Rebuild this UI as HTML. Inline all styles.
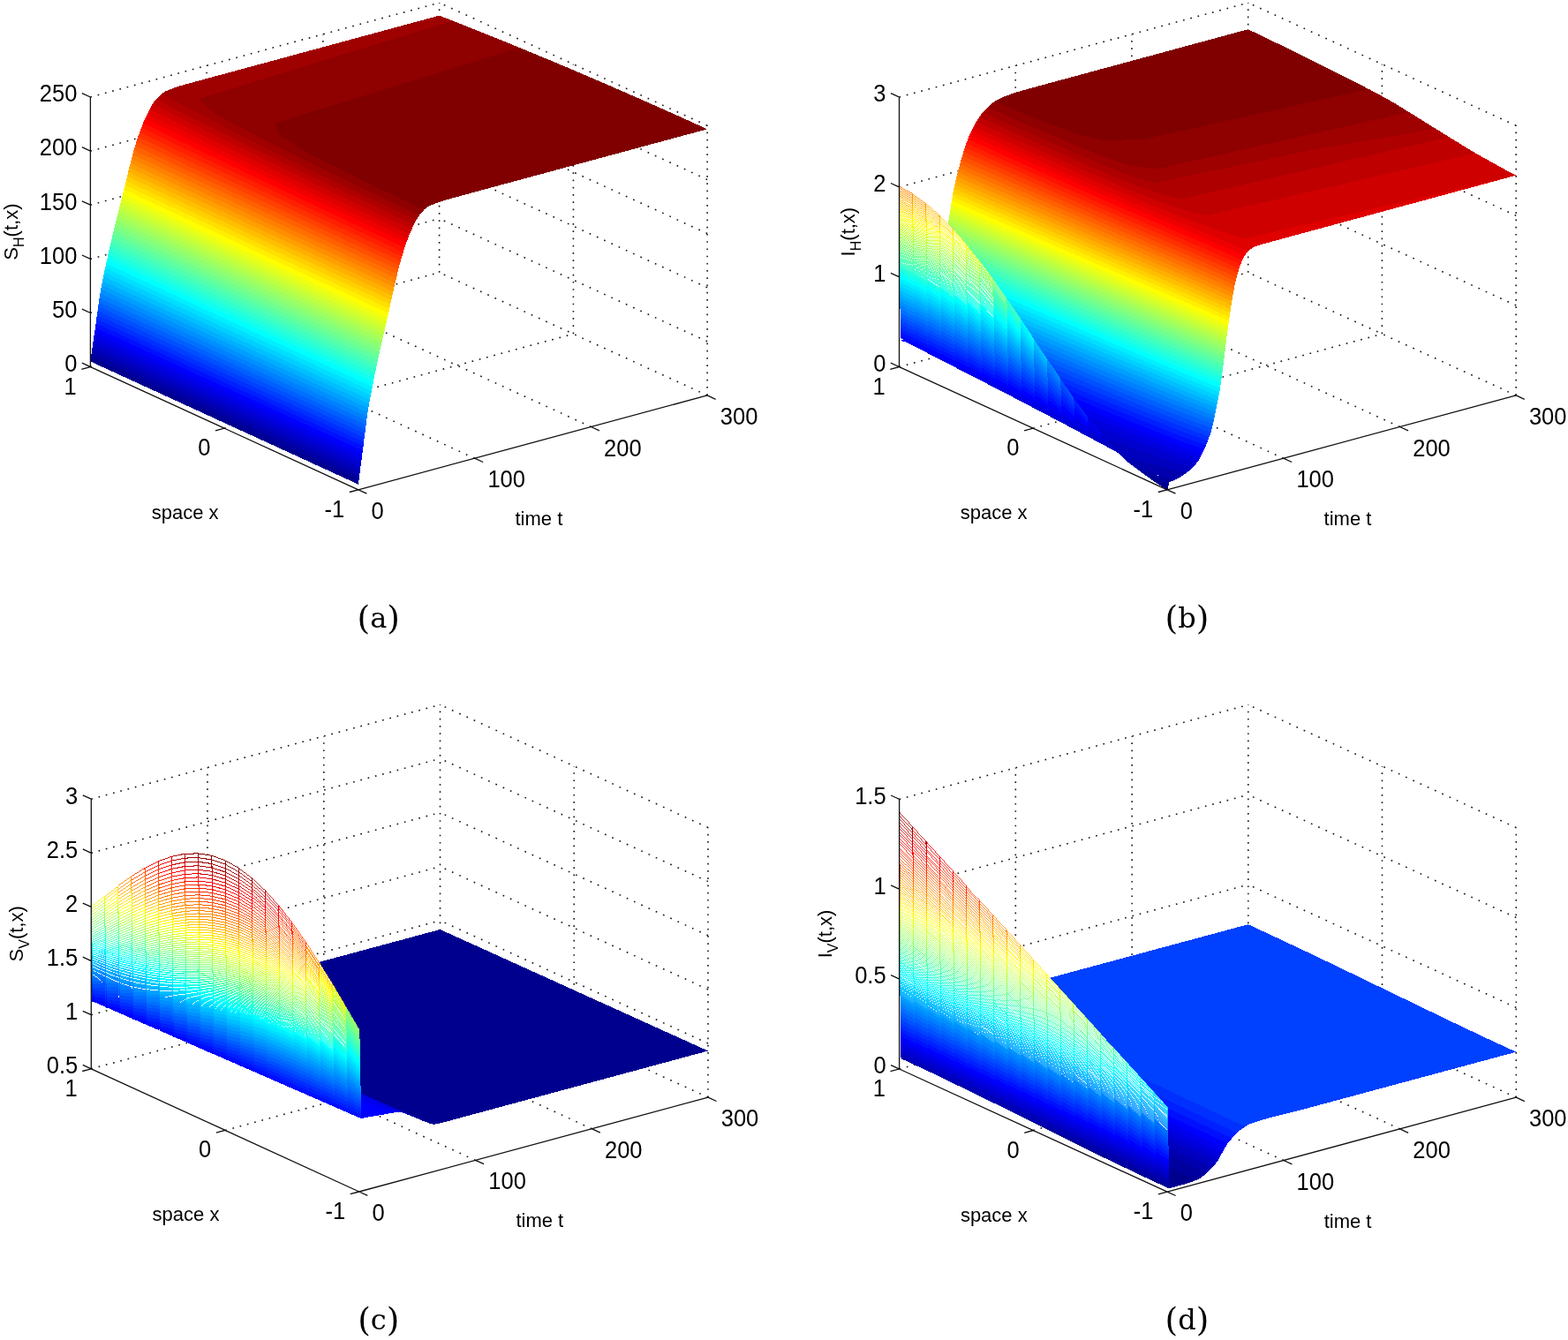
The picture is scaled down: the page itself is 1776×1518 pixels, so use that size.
<!DOCTYPE html>
<html lang="en"><head><meta charset="utf-8"><title>Figure</title><style>
html,body{margin:0;padding:0;background:#fff}
svg{display:block}
.g{fill:none;stroke:#1a1a1a;stroke-width:1.6}
.a{fill:none;stroke:#111;stroke-width:1.3}
.s{shape-rendering:crispEdges}
.c{shape-rendering:crispEdges;fill:none}
.tk text{font-family:"Liberation Sans",Arial,sans-serif;font-size:28.5px;fill:#000}
.lb text{font-family:"Liberation Sans",Arial,sans-serif;font-size:22px;fill:#000}
.lb .sub{font-size:16px}
.cp text{font-family:"DejaVu Serif","Liberation Serif",serif;font-size:32px;fill:#000}
.cp .pr{font-size:37.5px}
</style></head>
<body>
<svg xmlns="http://www.w3.org/2000/svg" width="1776" height="1518" viewBox="0 0 1776 1518">
<rect width="1776" height="1518" fill="#fff"/>
<defs><linearGradient id="gb" gradientUnits="userSpaceOnUse" x1="1018.5" y1="415.6" x2="1122.9" y2="187.9"><stop offset="0.0078" stop-color="#00008f"/><stop offset="0.0234" stop-color="#00009f"/><stop offset="0.0391" stop-color="#0000af"/><stop offset="0.0547" stop-color="#0000bf"/><stop offset="0.0703" stop-color="#0000cf"/><stop offset="0.0859" stop-color="#0000df"/><stop offset="0.1016" stop-color="#0000ef"/><stop offset="0.1172" stop-color="#0000ff"/><stop offset="0.1328" stop-color="#0010ff"/><stop offset="0.1484" stop-color="#0020ff"/><stop offset="0.1641" stop-color="#0030ff"/><stop offset="0.1797" stop-color="#0040ff"/><stop offset="0.1953" stop-color="#0050ff"/><stop offset="0.2109" stop-color="#0060ff"/><stop offset="0.2266" stop-color="#0070ff"/><stop offset="0.2422" stop-color="#0080ff"/><stop offset="0.2578" stop-color="#008fff"/><stop offset="0.2734" stop-color="#009fff"/><stop offset="0.2891" stop-color="#00afff"/><stop offset="0.3047" stop-color="#00bfff"/><stop offset="0.3203" stop-color="#00cfff"/><stop offset="0.3359" stop-color="#00dfff"/><stop offset="0.3516" stop-color="#00efff"/><stop offset="0.3672" stop-color="#00ffff"/><stop offset="0.3828" stop-color="#10ffef"/><stop offset="0.3984" stop-color="#20ffdf"/><stop offset="0.4141" stop-color="#30ffcf"/><stop offset="0.4297" stop-color="#40ffbf"/><stop offset="0.4453" stop-color="#50ffaf"/><stop offset="0.4609" stop-color="#60ff9f"/><stop offset="0.4766" stop-color="#70ff8f"/><stop offset="0.4922" stop-color="#80ff80"/><stop offset="0.5078" stop-color="#8fff70"/><stop offset="0.5234" stop-color="#9fff60"/><stop offset="0.5391" stop-color="#afff50"/><stop offset="0.5547" stop-color="#bfff40"/><stop offset="0.5703" stop-color="#cfff30"/><stop offset="0.5859" stop-color="#dfff20"/><stop offset="0.6016" stop-color="#efff10"/><stop offset="0.6172" stop-color="#ffff00"/><stop offset="0.6328" stop-color="#ffef00"/><stop offset="0.6484" stop-color="#ffdf00"/><stop offset="0.6641" stop-color="#ffcf00"/><stop offset="0.6797" stop-color="#ffbf00"/><stop offset="0.6953" stop-color="#ffaf00"/><stop offset="0.7109" stop-color="#ff9f00"/><stop offset="0.7266" stop-color="#ff8f00"/><stop offset="0.7422" stop-color="#ff8000"/><stop offset="0.7578" stop-color="#ff7000"/><stop offset="0.7734" stop-color="#ff6000"/><stop offset="0.7891" stop-color="#ff5000"/><stop offset="0.8047" stop-color="#ff4000"/><stop offset="0.8203" stop-color="#ff3000"/><stop offset="0.8359" stop-color="#ff2000"/><stop offset="0.8516" stop-color="#ff1000"/><stop offset="0.8672" stop-color="#ff0000"/><stop offset="0.8828" stop-color="#ef0000"/><stop offset="0.8984" stop-color="#df0000"/><stop offset="0.9141" stop-color="#cf0000"/><stop offset="0.9297" stop-color="#bf0000"/><stop offset="0.9453" stop-color="#af0000"/><stop offset="0.9609" stop-color="#9f0000"/><stop offset="0.9766" stop-color="#8f0000"/><stop offset="0.9922" stop-color="#800000"/></linearGradient><linearGradient id="gc" gradientUnits="userSpaceOnUse" x1="103.3" y1="1159.8" x2="199.8" y2="949.5"><stop offset="0.0078" stop-color="#00008f"/><stop offset="0.0234" stop-color="#00009f"/><stop offset="0.0391" stop-color="#0000af"/><stop offset="0.0547" stop-color="#0000bf"/><stop offset="0.0703" stop-color="#0000cf"/><stop offset="0.0859" stop-color="#0000df"/><stop offset="0.1016" stop-color="#0000ef"/><stop offset="0.1172" stop-color="#0000ff"/><stop offset="0.1328" stop-color="#0010ff"/><stop offset="0.1484" stop-color="#0020ff"/><stop offset="0.1641" stop-color="#0030ff"/><stop offset="0.1797" stop-color="#0040ff"/><stop offset="0.1953" stop-color="#0050ff"/><stop offset="0.2109" stop-color="#0060ff"/><stop offset="0.2266" stop-color="#0070ff"/><stop offset="0.2422" stop-color="#0080ff"/><stop offset="0.2578" stop-color="#008fff"/><stop offset="0.2734" stop-color="#009fff"/><stop offset="0.2891" stop-color="#00afff"/><stop offset="0.3047" stop-color="#00bfff"/><stop offset="0.3203" stop-color="#00cfff"/><stop offset="0.3359" stop-color="#00dfff"/><stop offset="0.3516" stop-color="#00efff"/><stop offset="0.3672" stop-color="#00ffff"/><stop offset="0.3828" stop-color="#10ffef"/><stop offset="0.3984" stop-color="#20ffdf"/><stop offset="0.4141" stop-color="#30ffcf"/><stop offset="0.4297" stop-color="#40ffbf"/><stop offset="0.4453" stop-color="#50ffaf"/><stop offset="0.4609" stop-color="#60ff9f"/><stop offset="0.4766" stop-color="#70ff8f"/><stop offset="0.4922" stop-color="#80ff80"/><stop offset="0.5078" stop-color="#8fff70"/><stop offset="0.5234" stop-color="#9fff60"/><stop offset="0.5391" stop-color="#afff50"/><stop offset="0.5547" stop-color="#bfff40"/><stop offset="0.5703" stop-color="#cfff30"/><stop offset="0.5859" stop-color="#dfff20"/><stop offset="0.6016" stop-color="#efff10"/><stop offset="0.6172" stop-color="#ffff00"/><stop offset="0.6328" stop-color="#ffef00"/><stop offset="0.6484" stop-color="#ffdf00"/><stop offset="0.6641" stop-color="#ffcf00"/><stop offset="0.6797" stop-color="#ffbf00"/><stop offset="0.6953" stop-color="#ffaf00"/><stop offset="0.7109" stop-color="#ff9f00"/><stop offset="0.7266" stop-color="#ff8f00"/><stop offset="0.7422" stop-color="#ff8000"/><stop offset="0.7578" stop-color="#ff7000"/><stop offset="0.7734" stop-color="#ff6000"/><stop offset="0.7891" stop-color="#ff5000"/><stop offset="0.8047" stop-color="#ff4000"/><stop offset="0.8203" stop-color="#ff3000"/><stop offset="0.8359" stop-color="#ff2000"/><stop offset="0.8516" stop-color="#ff1000"/><stop offset="0.8672" stop-color="#ff0000"/><stop offset="0.8828" stop-color="#ef0000"/><stop offset="0.8984" stop-color="#df0000"/><stop offset="0.9141" stop-color="#cf0000"/><stop offset="0.9297" stop-color="#bf0000"/><stop offset="0.9453" stop-color="#af0000"/><stop offset="0.9609" stop-color="#9f0000"/><stop offset="0.9766" stop-color="#8f0000"/><stop offset="0.9922" stop-color="#800000"/></linearGradient><linearGradient id="gd" gradientUnits="userSpaceOnUse" x1="1018.6" y1="1211" x2="1128.9" y2="970.5"><stop offset="0.0078" stop-color="#00008f"/><stop offset="0.0234" stop-color="#00009f"/><stop offset="0.0391" stop-color="#0000af"/><stop offset="0.0547" stop-color="#0000bf"/><stop offset="0.0703" stop-color="#0000cf"/><stop offset="0.0859" stop-color="#0000df"/><stop offset="0.1016" stop-color="#0000ef"/><stop offset="0.1172" stop-color="#0000ff"/><stop offset="0.1328" stop-color="#0010ff"/><stop offset="0.1484" stop-color="#0020ff"/><stop offset="0.1641" stop-color="#0030ff"/><stop offset="0.1797" stop-color="#0040ff"/><stop offset="0.1953" stop-color="#0050ff"/><stop offset="0.2109" stop-color="#0060ff"/><stop offset="0.2266" stop-color="#0070ff"/><stop offset="0.2422" stop-color="#0080ff"/><stop offset="0.2578" stop-color="#008fff"/><stop offset="0.2734" stop-color="#009fff"/><stop offset="0.2891" stop-color="#00afff"/><stop offset="0.3047" stop-color="#00bfff"/><stop offset="0.3203" stop-color="#00cfff"/><stop offset="0.3359" stop-color="#00dfff"/><stop offset="0.3516" stop-color="#00efff"/><stop offset="0.3672" stop-color="#00ffff"/><stop offset="0.3828" stop-color="#10ffef"/><stop offset="0.3984" stop-color="#20ffdf"/><stop offset="0.4141" stop-color="#30ffcf"/><stop offset="0.4297" stop-color="#40ffbf"/><stop offset="0.4453" stop-color="#50ffaf"/><stop offset="0.4609" stop-color="#60ff9f"/><stop offset="0.4766" stop-color="#70ff8f"/><stop offset="0.4922" stop-color="#80ff80"/><stop offset="0.5078" stop-color="#8fff70"/><stop offset="0.5234" stop-color="#9fff60"/><stop offset="0.5391" stop-color="#afff50"/><stop offset="0.5547" stop-color="#bfff40"/><stop offset="0.5703" stop-color="#cfff30"/><stop offset="0.5859" stop-color="#dfff20"/><stop offset="0.6016" stop-color="#efff10"/><stop offset="0.6172" stop-color="#ffff00"/><stop offset="0.6328" stop-color="#ffef00"/><stop offset="0.6484" stop-color="#ffdf00"/><stop offset="0.6641" stop-color="#ffcf00"/><stop offset="0.6797" stop-color="#ffbf00"/><stop offset="0.6953" stop-color="#ffaf00"/><stop offset="0.7109" stop-color="#ff9f00"/><stop offset="0.7266" stop-color="#ff8f00"/><stop offset="0.7422" stop-color="#ff8000"/><stop offset="0.7578" stop-color="#ff7000"/><stop offset="0.7734" stop-color="#ff6000"/><stop offset="0.7891" stop-color="#ff5000"/><stop offset="0.8047" stop-color="#ff4000"/><stop offset="0.8203" stop-color="#ff3000"/><stop offset="0.8359" stop-color="#ff2000"/><stop offset="0.8516" stop-color="#ff1000"/><stop offset="0.8672" stop-color="#ff0000"/><stop offset="0.8828" stop-color="#ef0000"/><stop offset="0.8984" stop-color="#df0000"/><stop offset="0.9141" stop-color="#cf0000"/><stop offset="0.9297" stop-color="#bf0000"/><stop offset="0.9453" stop-color="#af0000"/><stop offset="0.9609" stop-color="#9f0000"/><stop offset="0.9766" stop-color="#8f0000"/><stop offset="0.9922" stop-color="#800000"/></linearGradient></defs>
<path class="g" stroke-dasharray="1.7 7.37" d="M537.6 519.2L234.1 380M669.4 483.5L365.9 344.3M801.1 447.9L497.6 308.7M801.1 386.8L497.6 247.6M801.1 325.7L497.6 186.5M801.1 264.5L497.6 125.3M801.1 203.4L497.6 64.2M801.1 142.3L497.6 3.1"/>
<path class="g" stroke-dasharray="1.7 6.84" d="M102.4 415.6L497.6 308.7M254.2 485.2L649.4 378.3M102.4 354.5L497.6 247.6M102.4 293.4L497.6 186.5M102.4 232.2L497.6 125.3M102.4 171.1L497.6 64.2M102.4 110L497.6 3.1"/>
<path class="g" stroke-dasharray="1.7 6.54" d="M234.1 380L234.1 74.4M365.9 344.3L365.9 38.7M497.6 308.7L497.6 3.1M649.4 378.3L649.4 72.7M801.1 447.9L801.1 142.3"/>
<path class="g" stroke-dasharray="1.7 7.37" d="M1453.7 519.2L1150.2 380M1585.4 483.5L1281.9 344.3M1717.2 447.9L1413.7 308.7M1717.2 346L1413.7 206.8M1717.2 244.2L1413.7 105M1717.2 142.3L1413.7 3.1"/>
<path class="g" stroke-dasharray="1.7 6.84" d="M1018.5 415.6L1413.7 308.7M1170.2 485.2L1565.4 378.3M1018.5 313.7L1413.7 206.8M1018.5 211.9L1413.7 105M1018.5 110L1413.7 3.1"/>
<path class="g" stroke-dasharray="1.7 6.54" d="M1150.2 380L1150.2 74.4M1281.9 344.3L1281.9 38.7M1413.7 308.7L1413.7 3.1M1565.4 378.3L1565.4 72.7M1717.2 447.9L1717.2 142.3"/>
<path class="g" stroke-dasharray="1.7 7.37" d="M538.5 1314.4L235 1175.2M670.3 1278.7L366.8 1139.5M802 1243.1L498.5 1103.9M802 1182L498.5 1042.8M802 1120.9L498.5 981.7M802 1059.7L498.5 920.5M802 998.6L498.5 859.4M802 937.5L498.5 798.3"/>
<path class="g" stroke-dasharray="1.7 6.84" d="M103.3 1210.8L498.5 1103.9M255.1 1280.4L650.2 1173.5M103.3 1149.7L498.5 1042.8M103.3 1088.6L498.5 981.7M103.3 1027.4L498.5 920.5M103.3 966.3L498.5 859.4M103.3 905.2L498.5 798.3"/>
<path class="g" stroke-dasharray="1.7 6.54" d="M235 1175.2L235 869.6M366.8 1139.5L366.8 833.9M498.5 1103.9L498.5 798.3M650.2 1173.5L650.2 867.9M802 1243.1L802 937.5"/>
<path class="g" stroke-dasharray="1.7 7.37" d="M1453.8 1314.5L1150.3 1175.3M1585.6 1278.9L1282.1 1139.7M1717.3 1243.2L1413.8 1104M1717.3 1141.4L1413.8 1002.2M1717.3 1039.5L1413.8 900.3M1717.3 937.6L1413.8 798.4"/>
<path class="g" stroke-dasharray="1.7 6.84" d="M1018.6 1211L1413.8 1104M1170.3 1280.5L1565.5 1173.6M1018.6 1109.1L1413.8 1002.2M1018.6 1007.2L1413.8 900.3M1018.6 905.4L1413.8 798.5"/>
<path class="g" stroke-dasharray="1.7 6.54" d="M1150.3 1175.3L1150.3 869.7M1282.1 1139.7L1282.1 834.1M1413.8 1104L1413.8 798.4M1565.5 1173.6L1565.5 868M1717.3 1243.2L1717.3 937.6"/>
<g class="s">
<path fill="#00008f" d="M102.4 409.5L405.9 548.7L406.5 543.9L103 404.7L102.4 409.5Z"/>
<path fill="#00009f" d="M103 404.7L406.5 543.9L407.1 539.1L103.7 399.9L103 404.7Z"/>
<path fill="#0000af" d="M103.7 399.9L407.1 539.1L407.7 534.4L104.4 395.1L103.7 399.9Z"/>
<path fill="#0000bf" d="M104.4 395.1L407.7 534.4L408.3 529.6L105.1 390.3L104.4 395.1Z"/>
<path fill="#0000cf" d="M105.1 390.3L408.3 529.6L408.9 524.8L105.7 385.5L105.1 390.3Z"/>
<path fill="#0000df" d="M105.7 385.5L408.9 524.8L409.6 520L106.4 380.7L105.7 385.5Z"/>
<path fill="#0000ef" d="M106.4 380.7L409.6 520L410.2 515.2L107.2 375.9L106.4 380.7Z"/>
<path fill="#0000ff" d="M107.2 375.9L410.2 515.2L410.8 510.4L107.9 371.1L107.2 375.9Z"/>
<path fill="#0010ff" d="M107.9 371.1L410.8 510.4L411.5 505.6L108.6 366.3L107.9 371.1Z"/>
<path fill="#0020ff" d="M108.6 366.3L411.5 505.6L412.1 500.8L109.2 361.5L108.6 366.3Z"/>
<path fill="#0030ff" d="M109.2 361.5L412.1 500.8L412.7 496.1L109.9 356.7L109.2 361.5Z"/>
<path fill="#0040ff" d="M109.9 356.7L412.7 496.1L413.3 491.3L110.6 351.9L109.9 356.7Z"/>
<path fill="#0050ff" d="M110.6 351.9L413.3 491.3L413.9 486.5L111.3 347.1L110.6 351.9Z"/>
<path fill="#0060ff" d="M111.3 347.1L413.9 486.5L414.5 481.7L111.9 342.3L111.3 347.1Z"/>
<path fill="#0070ff" d="M111.9 342.3L414.5 481.7L415.2 476.9L112.6 337.5L111.9 342.3Z"/>
<path fill="#0080ff" d="M112.6 337.5L415.2 476.9L415.8 472.1L113.4 332.6L112.6 337.5Z"/>
<path fill="#008fff" d="M113.4 332.6L415.8 472.1L416.5 467.3L114.2 327.8L113.4 332.6Z"/>
<path fill="#009fff" d="M114.2 327.8L416.5 467.3L417.3 462.5L115.1 323L114.2 327.8Z"/>
<path fill="#00afff" d="M115.1 323L417.3 462.5L418.1 457.7L266.9 387.9L116 318.1L115.1 323Z"/>
<path fill="#00bfff" d="M116 318.1L266.9 387.9L418.1 457.7L419 452.8L267.8 383.1L117 313.2L116 318.1Z"/>
<path fill="#00cfff" d="M117 313.2L267.8 383.1L419 452.8L419.9 448L268.8 378.2L118.1 308.3L117 313.2Z"/>
<path fill="#00dfff" d="M118.1 308.3L268.8 378.2L419.9 448L420.9 443.1L269.8 373.3L119.1 303.4L118.1 308.3Z"/>
<path fill="#00efff" d="M119.1 303.4L269.8 373.3L420.9 443.1L421.8 438.2L270.8 368.4L120.2 298.5L119.1 303.4Z"/>
<path fill="#00ffff" d="M120.2 298.5L270.8 368.4L421.8 438.2L422.8 433.3L271.8 363.5L121.3 293.6L120.2 298.5Z"/>
<path fill="#10ffef" d="M121.3 293.6L271.8 363.5L422.8 433.3L423.7 428.4L272.8 358.6L122.3 288.7L121.3 293.6Z"/>
<path fill="#20ffdf" d="M122.3 288.7L272.8 358.6L423.7 428.4L424.7 423.6L273.8 353.7L123.4 283.8L122.3 288.7Z"/>
<path fill="#30ffcf" d="M123.4 283.8L273.8 353.7L424.7 423.6L425.7 418.7L274.8 348.8L124.6 278.8L123.4 283.8Z"/>
<path fill="#40ffbf" d="M124.6 278.8L274.8 348.8L425.7 418.7L426.7 413.8L275.9 343.9L125.7 273.9L124.6 278.8Z"/>
<path fill="#50ffaf" d="M125.7 273.9L275.9 343.9L426.7 413.8L427.8 408.9L277 339L126.9 269L125.7 273.9Z"/>
<path fill="#60ff9f" d="M126.9 269L277 339L427.8 408.9L428.8 404L278.1 334.1L128.1 264L126.9 269Z"/>
<path fill="#70ff8f" d="M128.1 264L278.1 334.1L428.8 404L429.9 399.1L279.2 329.2L129.3 259.1L128.1 264Z"/>
<path fill="#80ff80" d="M129.3 259.1L279.2 329.2L429.9 399.1L431 394.2L280.4 324.3L130.6 254.1L129.3 259.1Z"/>
<path fill="#8fff70" d="M130.6 254.1L280.4 324.3L431 394.2L432.2 389.2L281.6 319.3L131.8 249.2L130.6 254.1Z"/>
<path fill="#9fff60" d="M131.8 249.2L281.6 319.3L432.2 389.2L433.3 384.3L282.7 314.4L133.1 244.2L131.8 249.2Z"/>
<path fill="#afff50" d="M133.1 244.2L282.7 314.4L433.3 384.3L434.4 379.4L283.9 309.5L134.3 239.3L133.1 244.2Z"/>
<path fill="#bfff40" d="M134.3 239.3L283.9 309.5L434.4 379.4L435.6 374.5L285.1 304.5L135.5 234.3L134.3 239.3Z"/>
<path fill="#cfff30" d="M135.5 234.3L285.1 304.5L435.6 374.5L436.7 369.6L286.2 299.6L136.7 229.4L135.5 234.3Z"/>
<path fill="#dfff20" d="M136.7 229.4L286.2 299.6L436.7 369.6L437.8 364.6L287.4 294.7L137.9 224.5L136.7 229.4Z"/>
<path fill="#efff10" d="M137.9 224.5L287.4 294.7L437.8 364.6L438.9 359.7L288.5 289.7L139.1 219.5L137.9 224.5Z"/>
<path fill="#ffff00" d="M139.1 219.5L288.5 289.7L438.9 359.7L440 354.8L289.7 284.8L140.4 214.6L139.1 219.5Z"/>
<path fill="#ffef00" d="M140.4 214.6L289.7 284.8L440 354.8L441.1 349.9L290.8 279.9L141.6 209.6L140.4 214.6Z"/>
<path fill="#ffdf00" d="M141.6 209.6L290.8 279.9L441.1 349.9L442.1 345L291.9 275L142.8 204.7L141.6 209.6Z"/>
<path fill="#ffcf00" d="M142.8 204.7L291.9 275L442.1 345L443.2 340.1L293.1 270.1L144 199.7L142.8 204.7Z"/>
<path fill="#ffbf00" d="M144 199.7L293.1 270.1L443.2 340.1L444.3 335.2L294.2 265.1L145.2 194.8L144 199.7Z"/>
<path fill="#ffaf00" d="M145.2 194.8L294.2 265.1L444.3 335.2L445.4 330.3L295.4 260.2L146.4 189.8L145.2 194.8Z"/>
<path fill="#ff9f00" d="M146.4 189.8L295.4 260.2L445.4 330.3L446.5 325.3L296.5 255.3L147.7 184.9L146.4 189.8Z"/>
<path fill="#ff8f00" d="M147.7 184.9L296.5 255.3L446.5 325.3L447.7 320.4L297.7 250.3L149 179.9L147.7 184.9Z"/>
<path fill="#ff8000" d="M149 179.9L297.7 250.3L447.7 320.4L448.8 315.5L298.9 245.4L224.4 210.2L150.3 175L149 179.9Z"/>
<path fill="#ff7000" d="M150.3 175L224.4 210.2L298.9 245.4L448.8 315.5L450 310.6L285.2 233.4L151.6 170L150.3 175Z"/>
<path fill="#ff6000" d="M151.6 170L285.2 233.4L450 310.6L451.2 305.6L361.1 263.6L286.5 228.5L212.2 193.2L153.1 164.9L151.6 170Z"/>
<path fill="#ff5000" d="M153.1 164.9L212.2 193.2L286.5 228.5L361.1 263.6L451.2 305.6L452.4 300.7L302.8 230.5L228.5 195.3L154.7 159.9L153.1 164.9Z"/>
<path fill="#ff4000" d="M154.7 159.9L228.5 195.3L302.8 230.5L452.4 300.7L453.8 295.7L363.9 253.6L289.4 218.4L215.3 183.2L156.4 154.8L154.7 159.9Z"/>
<path fill="#ff3000" d="M156.4 154.8L215.3 183.2L289.4 218.4L363.9 253.6L453.8 295.7L455.3 290.7L365.4 248.6L290.9 213.4L216.9 178.1L158.2 149.7L156.4 154.8Z"/>
<path fill="#ff2000" d="M158.2 149.7L216.9 178.1L290.9 213.4L365.4 248.6L455.3 290.7L456.8 285.6L366.9 243.5L292.6 208.3L218.7 173L160.1 144.6L158.2 149.7Z"/>
<path fill="#ff1000" d="M160.1 144.6L218.7 173L292.6 208.3L366.9 243.5L456.8 285.6L458.4 280.6L368.6 238.5L294.3 203.3L220.6 167.9L162.1 139.4L160.1 144.6Z"/>
<path fill="#ff0000" d="M162.1 139.4L220.6 167.9L294.3 203.3L368.6 238.5L458.4 280.6L460.1 275.5L370.4 233.4L296.2 198.1L222.7 162.7L164.4 134.2L162.1 139.4Z"/>
<path fill="#ef0000" d="M164.4 134.2L222.7 162.7L296.2 198.1L370.4 233.4L460.1 275.5L462 270.4L372.3 228.2L298.3 193L224.9 157.5L166.9 128.9L164.4 134.2Z"/>
<path fill="#df0000" d="M166.9 128.9L224.9 157.5L298.3 193L372.3 228.2L462 270.4L464 265.2L374.4 223.1L300.5 187.7L227.4 152.2L169.7 123.5L166.9 128.9Z"/>
<path fill="#cf0000" d="M169.7 123.5L227.4 152.2L300.5 187.7L374.4 223.1L464 265.2L466.3 260L376.8 217.8L303 182.4L230.2 146.8L172.7 118.1L169.7 123.5Z"/>
<path fill="#bf0000" d="M172.7 118.1L230.2 146.8L303 182.4L376.8 217.8L466.3 260L468.8 254.7L379.4 212.5L291.2 170L247.6 148.5L219 134.2L204.8 126.9L177.1 112.3L174.7 115.1L172.7 118.1Z"/>
<path fill="#af0000" d="M177.1 112.3L204.8 126.9L219 134.2L247.6 148.5L291.2 170L379.4 212.5L468.8 254.7L471.5 249.3L411.8 221.2L367.5 200L323.5 178.7L294.6 164.4L251.9 142.8L223.9 128.2L196.6 113.5L183.3 106L180.4 108.7L177.1 112.3Z"/>
<path fill="#9f0000" d="M183.3 106L196.6 113.5L223.9 128.2L251.9 142.8L294.6 164.4L323.5 178.7L367.5 200L411.8 221.2L471.5 249.3L473.3 246.1L475.1 243.8L415.6 215.6L357.1 187.1L313.9 165.6L271.7 143.9L258.1 136.5L244.9 129L233.8 120.9L225.7 112L512.8 23.6L497.6 17.6L214.4 94.4L202.3 97.8L195.4 100.2L186.7 103.8L183.3 106Z"/>
<path fill="#8f0000" d="M497.6 17.6L512.8 23.6L225.7 112L233.8 120.9L244.9 129L258.1 136.5L271.7 143.9L313.9 165.6L357.1 187.1L415.6 215.6L475.1 243.8L480.2 237.7L435.7 216.6L391.9 195.2L363.4 180.8L349.5 173.5L336.4 166L324.6 158.1L314.1 149.9L312.3 139.3L588.6 54L543.1 35.6L497.6 17.6Z"/>
<path fill="#800000" d="M497.6 17.6L543.1 35.6L588.6 54L312.3 139.3L314.1 149.9L324.6 158.1L336.4 166L349.5 173.5L363.4 180.8L391.9 195.2L435.7 216.6L480.2 237.7L482.2 235.9L484 234.6L488.9 232.2L497.2 229L507.1 226L527.6 220.3L801.1 146.3L770.8 132.5L725.2 112.2L679.7 92.3L649.4 79.4L619 66.6L573.5 47.8L528 29.6L497.6 17.6Z"/>
<path fill="#00009f" d="M1020.4 384.5L1141.8 447L1187.4 470.8L1232.9 494.9L1263.2 511.2L1293.6 528L1308.8 536.7L1323.9 546.4L1330.1 544L1308.8 536.7L1293.6 528L1263.2 511.2L1202.5 478.8L1126.7 439.1L1020.4 384.5Z"/>
<path fill="#0000af" d="M1020.4 384.5L1126.7 439.1L1202.5 478.8L1263.2 511.2L1293.6 528L1308.8 536.7L1330.1 544L1337.2 540.4L1343.6 536L1322.5 530.7L1302.4 525L1278.4 519.5L1232.9 494.9L1172.2 462.8L1096.3 423.4L1020.4 384.5Z"/>
<path fill="#0000bf" d="M1020.4 384.5L1096.3 423.4L1172.2 462.8L1232.9 494.9L1278.4 519.5L1302.4 525L1322.5 530.7L1343.6 536L1348.2 532.3L1350.9 529.7L1330.8 524.1L1312.7 518L1259.8 499.1L1232.9 494.9L1187.4 470.8L1141.8 447L1020.4 384.5Z"/>
<path fill="#0000cf" d="M1020.4 384.5L1141.8 447L1187.4 470.8L1232.9 494.9L1259.8 499.1L1312.7 518L1330.8 524.1L1350.9 529.7L1355.8 524.1L1336.4 518.3L1301.3 505.6L1267.4 492.7L1200.3 466.6L1172.2 462.8L1096.3 423.4L1020.4 384.5Z"/>
<path fill="#0000df" d="M1020.4 384.5L1096.3 423.4L1172.2 462.8L1200.3 466.6L1267.4 492.7L1301.3 505.6L1336.4 518.3L1355.8 524.1L1357.9 521.1L1359.3 518.9L1340.2 512.9L1322.8 506.6L1305.9 500.1L1239.3 473.9L1124.8 427.4L1096.3 423.4L1020.4 384.5Z"/>
<path fill="#0000ef" d="M1020.4 384.5L1096.3 423.4L1124.8 427.4L1239.3 473.9L1305.9 500.1L1322.8 506.6L1340.2 512.9L1359.3 518.9L1361.8 513.9L1343.4 507.8L1326 501.4L1309.2 494.9L1276.1 481.7L1178.4 441.8L1049.8 388L1020.4 384.5Z"/>
<path fill="#0000ff" d="M1020.4 384.5L1049.8 388L1178.4 441.8L1276.1 481.7L1309.2 494.9L1326 501.4L1343.4 507.8L1361.8 513.9L1364 509L1345.8 502.8L1328.8 496.4L1295.3 483.3L1262.6 470L1134 416.3L1038.4 375.7L1035.8 379L1033.5 381.5L1030.2 384.1L1027.7 385.6L1026.5 386.1L1022.8 387.1L1021.9 386.5L1020.4 384.5Z"/>
<path fill="#0010ff" d="M1038.4 375.7L1134 416.3L1262.6 470L1295.3 483.3L1328.8 496.4L1345.8 502.8L1364 509L1366.2 504.1L1347.9 497.9L1331 491.5L1297.8 478.3L1265 465L1200.8 438.2L1042 370.5L1038.4 375.7Z"/>
<path fill="#0020ff" d="M1042 370.5L1200.8 438.2L1265 465L1297.8 478.3L1331 491.5L1347.9 497.9L1366.2 504.1L1368.2 499.2L1349.9 493.1L1333 486.6L1299.9 473.4L1251 453.5L1218.9 440L1171.2 419.7L1045 365.4L1042 370.5Z"/>
<path fill="#0030ff" d="M1045 365.4L1171.2 419.7L1218.9 440L1251 453.5L1299.9 473.4L1333 486.6L1349.9 493.1L1368.2 499.2L1369.9 494.4L1351.9 488.3L1334.9 481.8L1301.8 468.6L1253.1 448.6L1220.9 435.2L1173.1 414.9L1047.3 360.4L1045 365.4Z"/>
<path fill="#0040ff" d="M1047.3 360.4L1173.1 414.9L1220.9 435.2L1253.1 448.6L1301.8 468.6L1334.9 481.8L1351.9 488.3L1369.9 494.4L1371.5 489.7L1353.6 483.5L1320 470.5L1287.2 457.2L1254.9 443.8L1206.8 423.6L1159.1 403.3L1049.1 355.6L1047.3 360.4Z"/>
<path fill="#0050ff" d="M1049.1 355.6L1159.1 403.3L1206.8 423.6L1254.9 443.8L1287.2 457.2L1320 470.5L1353.6 483.5L1371.5 489.7L1372.8 485.1L1355.2 478.8L1321.7 465.7L1288.9 452.4L1256.6 439L1160.8 398.5L1113.5 378.2L1050.8 350.9L1049.1 355.6Z"/>
<path fill="#0060ff" d="M1050.8 350.9L1113.5 378.2L1160.8 398.5L1256.6 439L1288.9 452.4L1321.7 465.7L1355.2 478.8L1372.8 485.1L1374 480.4L1356.6 474.1L1323.3 460.9L1290.5 447.7L1258.1 434.3L1162.5 393.8L1115.1 373.4L1052.3 346.1L1050.8 350.9Z"/>
<path fill="#0070ff" d="M1052.3 346.1L1115.1 373.4L1162.5 393.8L1258.1 434.3L1290.5 447.7L1323.3 460.9L1356.6 474.1L1374 480.4L1375 475.8L1357.8 469.4L1324.7 456.2L1292 443L1243.6 422.9L1164 389.1L1053.8 341.4L1052.3 346.1Z"/>
<path fill="#0080ff" d="M1053.8 341.4L1164 389.1L1243.6 422.9L1292 443L1324.7 456.2L1357.8 469.4L1375 475.8L1375.9 471.3L1359 464.8L1326 451.6L1245 418.2L1165.5 384.4L1055.2 336.7L1053.8 341.4Z"/>
<path fill="#008fff" d="M1055.2 336.7L1165.5 384.4L1245 418.2L1326 451.6L1359 464.8L1375.9 471.3L1376.8 466.8L1359.9 460.2L1311 440.3L1230.4 406.8L1151 372.9L1056.6 332.1L1055.2 336.7Z"/>
<path fill="#009fff" d="M1056.6 332.1L1151 372.9L1230.4 406.8L1311 440.3L1359.9 460.2L1376.8 466.8L1377.6 462.2L1360.8 455.7L1312.1 435.7L1231.7 402.1L1152.3 368.2L1058 327.4L1056.6 332.1Z"/>
<path fill="#00afff" d="M1058 327.4L1152.3 368.2L1231.7 402.1L1312.1 435.7L1360.8 455.7L1377.6 462.2L1378.6 457.7L1361.7 451.1L1345.5 444.5L1232.9 397.5L1153.6 363.6L1059.2 322.7L1058 327.4Z"/>
<path fill="#00bfff" d="M1059.2 322.7L1153.6 363.6L1232.9 397.5L1345.5 444.5L1361.7 451.1L1378.6 457.7L1379.5 453.1L1362.6 446.6L1346.3 439.9L1234.1 392.8L1154.8 359L1060.5 318.1L1059.2 322.7Z"/>
<path fill="#00cfff" d="M1060.5 318.1L1154.8 359L1234.1 392.8L1346.3 439.9L1362.6 446.6L1379.5 453.1L1380.4 448.5L1363.5 442.1L1347.2 435.4L1251.1 395L1156 354.3L1061.6 313.5L1060.5 318.1Z"/>
<path fill="#00dfff" d="M1061.6 313.5L1156 354.3L1251.1 395L1347.2 435.4L1363.5 442.1L1380.4 448.5L1381.3 444L1364.4 437.5L1348.1 430.8L1252.1 390.4L1172.9 356.5L1062.8 308.9L1061.6 313.5Z"/>
<path fill="#00efff" d="M1062.8 308.9L1172.9 356.5L1252.1 390.4L1348.1 430.8L1364.4 437.5L1381.3 444L1382 439.5L1349 426.3L1284.8 399.4L1189.7 358.7L1063.9 304.3L1062.8 308.9Z"/>
<path fill="#00ffff" d="M1063.9 304.3L1189.7 358.7L1284.8 399.4L1349 426.3L1382 439.5L1382.7 435L1333.7 415L1285.7 394.9L1190.6 354.2L1064.9 299.7L1063.9 304.3Z"/>
<path fill="#10ffef" d="M1064.9 299.7L1190.6 354.2L1285.7 394.9L1333.7 415L1382.7 435L1383.3 430.5L1318.5 403.8L1270.6 383.6L1175.8 342.8L1065.9 295.1L1064.9 299.7Z"/>
<path fill="#20ffdf" d="M1065.9 295.1L1175.8 342.8L1270.6 383.6L1318.5 403.8L1383.3 430.5L1383.9 426.1L1303.3 392.5L1255.5 372.3L1161 331.4L1066.9 290.5L1065.9 295.1Z"/>
<path fill="#30ffcf" d="M1066.9 290.5L1161 331.4L1255.5 372.3L1303.3 392.5L1383.9 426.1L1384.5 421.6L1288.1 381.3L1256.3 367.8L1209 347.4L1067.9 285.9L1066.9 290.5Z"/>
<path fill="#40ffbf" d="M1067.9 285.9L1209 347.4L1256.3 367.8L1288.1 381.3L1384.5 421.6L1385.1 417.1L1289 376.7L1241.2 356.5L1068.8 281.4L1067.9 285.9Z"/>
<path fill="#50ffaf" d="M1068.8 281.4L1241.2 356.5L1289 376.7L1385.1 417.1L1385.7 412.7L1369.5 406L1242 351.9L1069.7 276.8L1068.8 281.4Z"/>
<path fill="#60ff9f" d="M1069.7 276.8L1242 351.9L1369.5 406L1385.7 412.7L1386.3 408.2L1227 340.6L1070.5 272.3L1069.7 276.8Z"/>
<path fill="#70ff8f" d="M1070.5 272.3L1227 340.6L1386.3 408.2L1386.8 403.7L1227.8 336.1L1071.4 267.8L1070.5 272.3Z"/>
<path fill="#80ff80" d="M1071.4 267.8L1227.8 336.1L1386.8 403.7L1387.4 399.3L1228.5 331.6L1165.8 304.3L1072.2 263.2L1071.4 267.8Z"/>
<path fill="#8fff70" d="M1072.2 263.2L1165.8 304.3L1228.5 331.6L1387.4 399.3L1387.8 394.8L1229.2 327.1L1150.9 293L1072.9 258.7L1072.2 263.2Z"/>
<path fill="#9fff60" d="M1072.9 258.7L1150.9 293L1229.2 327.1L1387.8 394.8L1388.3 390.4L1341.1 370L1230 322.6L1073.7 254.2L1072.9 258.7Z"/>
<path fill="#afff50" d="M1073.7 254.2L1230 322.6L1341.1 370L1388.3 390.4L1388.9 386L1325.9 358.7L1230.6 318.1L1074.4 249.7L1073.7 254.2Z"/>
<path fill="#bfff40" d="M1074.4 249.7L1230.6 318.1L1325.9 358.7L1388.9 386L1389.4 381.5L1326.6 354.2L1231.3 313.6L1075.1 245.2L1074.4 249.7Z"/>
<path fill="#cfff30" d="M1075.1 245.2L1231.3 313.6L1326.6 354.2L1389.4 381.5L1390 377L1311.4 343L1232 309.1L1075.9 240.7L1075.1 245.2Z"/>
<path fill="#dfff20" d="M1075.9 240.7L1232 309.1L1311.4 343L1390 377L1390.7 372.5L1296.2 331.7L1232.8 304.6L1076.6 236.2L1075.9 240.7Z"/>
<path fill="#efff10" d="M1076.6 236.2L1232.8 304.6L1296.2 331.7L1390.7 372.5L1391.3 368.1L1328.4 340.8L1217.8 293.3L1077.3 231.7L1076.6 236.2Z"/>
<path fill="#ffff00" d="M1077.3 231.7L1217.8 293.3L1328.4 340.8L1391.3 368.1L1392 363.6L1344.9 343.1L1218.6 288.8L1078 227.2L1077.3 231.7Z"/>
<path fill="#ffef00" d="M1078 227.2L1218.6 288.8L1344.9 343.1L1392 363.6L1392.6 359.1L1345.7 338.6L1235.1 291L1078.8 222.7L1078 227.2Z"/>
<path fill="#ffdf00" d="M1078.8 222.7L1235.1 291L1345.7 338.6L1392.6 359.1L1393.3 354.6L1330.7 327.3L1235.9 286.5L1079.5 218.2L1078.8 222.7Z"/>
<path fill="#ffcf00" d="M1079.5 218.2L1235.9 286.5L1330.7 327.3L1393.3 354.6L1393.9 350.1L1331.5 322.8L1236.7 282L1080.4 213.6L1079.5 218.2Z"/>
<path fill="#ffbf00" d="M1080.4 213.6L1236.7 282L1331.5 322.8L1393.9 350.1L1394.6 345.6L1332.2 318.2L1237.5 277.5L1081.4 209.1L1080.4 213.6Z"/>
<path fill="#ffaf00" d="M1081.4 209.1L1237.5 277.5L1332.2 318.2L1394.6 345.6L1395.3 341.2L1333 313.7L1238.4 272.9L1082.4 204.5L1081.4 209.1Z"/>
<path fill="#ff9f00" d="M1082.4 204.5L1238.4 272.9L1333 313.7L1395.3 341.2L1396 336.6L1333.8 309.2L1239.3 268.4L1083.6 199.9L1082.4 204.5Z"/>
<path fill="#ff8f00" d="M1083.6 199.9L1239.3 268.4L1333.8 309.2L1396 336.6L1396.8 332.1L1334.6 304.7L1240.3 263.8L1084.7 195.2L1083.6 199.9Z"/>
<path fill="#ff8000" d="M1084.7 195.2L1240.3 263.8L1334.6 304.7L1396.8 332.1L1397.7 327.6L1335.5 300.1L1241.2 259.3L1086 190.6L1084.7 195.2Z"/>
<path fill="#ff7000" d="M1086 190.6L1241.2 259.3L1335.5 300.1L1397.7 327.6L1398.6 323L1336.5 295.6L1242.2 254.7L1087.2 186L1086 190.6Z"/>
<path fill="#ff6000" d="M1087.2 186L1242.2 254.7L1336.5 295.6L1398.6 323L1399.6 318.4L1337.5 291L1243.3 250.1L1088.5 181.3L1087.2 186Z"/>
<path fill="#ff5000" d="M1088.5 181.3L1243.3 250.1L1337.5 291L1399.6 318.4L1400.8 313.8L1338.6 286.4L1244.4 245.5L1089.9 176.6L1088.5 181.3Z"/>
<path fill="#ff4000" d="M1089.9 176.6L1244.4 245.5L1338.6 286.4L1400.8 313.8L1402 309.2L1355.5 288.6L1245.6 240.8L1091.3 171.9L1089.9 176.6Z"/>
<path fill="#ff3000" d="M1091.3 171.9L1245.6 240.8L1355.5 288.6L1402 309.2L1403.4 304.5L1341.3 277L1247 236.2L1092.9 167.2L1091.3 171.9Z"/>
<path fill="#ff2000" d="M1092.9 167.2L1247 236.2L1341.3 277L1403.4 304.5L1405 299.7L1358.4 279.2L1248.4 231.5L1094.5 162.4L1092.9 167.2Z"/>
<path fill="#ff1000" d="M1094.5 162.4L1248.4 231.5L1358.4 279.2L1405 299.7L1407.2 294.9L1360.4 274.3L1250.1 226.7L1096.3 157.7L1094.5 162.4Z"/>
<path fill="#ff0000" d="M1096.3 157.7L1250.1 226.7L1360.4 274.3L1407.2 294.9L1409.8 289.8L1362.8 269.4L1283.4 235.5L1251.9 221.9L1190.2 194.3L1098.1 152.8L1096.3 157.7Z"/>
<path fill="#ef0000" d="M1098.1 152.8L1190.2 194.3L1251.9 221.9L1283.4 235.5L1362.8 269.4L1409.8 289.8L1411.9 286.5L1413.9 284.4L1285.7 230.6L1254.1 217L1192.3 189.5L1100.3 148L1098.1 152.8Z"/>
<path fill="#df0000" d="M1100.3 148L1192.3 189.5L1254.1 217L1285.7 230.6L1413.9 284.4L1418.1 281.3L1421.8 279.2L1424.3 278.2L1430.9 276.3L1717.2 198.7L1409.6 270.2L1389.6 264.6L1354.5 251.9L1337.4 245.5L1288.6 225.5L1256.8 212L1225.7 198.2L1102.8 143L1100.3 148Z"/>
<path fill="#cf0000" d="M1102.8 143L1225.7 198.2L1256.8 212L1288.6 225.5L1337.4 245.5L1354.5 251.9L1389.6 264.6L1409.6 270.2L1717.2 198.7L1702 190.7L1671.6 173.7L1366.8 244.3L1344.6 239.2L1326.5 233.1L1309.2 226.7L1292.3 220.2L1275.9 213.6L1260 206.8L1228.8 193.1L1105.7 137.9L1102.8 143Z"/>
<path fill="#bf0000" d="M1105.7 137.9L1228.8 193.1L1260 206.8L1275.9 213.6L1292.3 220.2L1309.2 226.7L1326.5 233.1L1344.6 239.2L1366.8 244.3L1671.6 173.7L1702 190.7L1717.2 198.7L1702 190.7L1671.6 173.7L1656.5 164.6L1641.3 155.2L1338.7 225.5L1316.6 220.4L1298 214.3L1280.6 208L1264.2 201.3L1232.7 187.8L1201.6 174L1109.1 132.7L1105.7 137.9Z"/>
<path fill="#af0000" d="M1109.1 132.7L1201.6 174L1232.7 187.8L1264.2 201.3L1280.6 208L1298 214.3L1316.6 220.4L1338.7 225.5L1641.3 155.2L1656.5 164.6L1671.6 173.7L1702 190.7L1717.2 198.7L1702 190.7L1671.6 173.7L1656.5 164.6L1626.1 145.8L1490.5 169L1308.7 207.1L1287.8 201.7L1270.3 195.4L1253.9 188.8L1222.1 175.2L1190.6 161.6L1144 141L1113.2 127.2L1109.1 132.7Z"/>
<path fill="#9f0000" d="M1113.2 127.2L1144 141L1190.6 161.6L1222.1 175.2L1253.9 188.8L1270.3 195.4L1287.8 201.7L1308.7 207.1L1490.5 169L1626.1 145.8L1656.5 164.6L1671.6 173.7L1702 190.7L1717.2 198.7L1702 190.7L1671.6 173.7L1656.5 164.6L1610.9 136.4L1595.8 126.9L1309.3 191.6L1281.9 188L1262.9 182L1245.6 175.6L1213 162.3L1165.3 142L1118.6 121.5L1113.2 127.2Z"/>
<path fill="#8f0000" d="M1118.6 121.5L1165.3 142L1213 162.3L1245.6 175.6L1262.9 182L1281.9 188L1309.3 191.6L1595.8 126.9L1610.9 136.4L1656.5 164.6L1671.6 173.7L1702 190.7L1717.2 198.7L1702 190.7L1671.6 173.7L1656.5 164.6L1580.6 117.5L1565.4 108.9L1550.2 100.8L1295.7 157.8L1249.6 159.2L1228 154L1209.6 147.9L1192.1 141.5L1175.2 135L1158.7 128.4L1126.6 115L1122.8 117.7L1118.6 121.5Z"/>
<path fill="#800000" d="M1126.6 115L1158.7 128.4L1175.2 135L1192.1 141.5L1209.6 147.9L1228 154L1249.6 159.2L1295.7 157.8L1550.2 100.8L1565.4 108.9L1580.6 117.5L1656.5 164.6L1671.6 173.7L1702 190.7L1717.2 198.7L1702 190.7L1671.6 173.7L1656.5 164.6L1580.6 117.5L1565.4 108.9L1535.1 93L1504.7 77.7L1459.2 55.1L1413.7 33.2L1162 101.4L1149.5 105.1L1138.9 108.8L1133.1 111.4L1126.6 115Z"/>
<path fill="#00008f" d="M498.5 1052.9L802 1190.5L501.1 1271.8L493 1273.5L489.7 1273.5L487.9 1273.1L334.2 1204L179.9 1135.1L185.1 1136.2L187.6 1136.2L190.1 1136L196.7 1134.4L498.5 1052.9Z"/>
<path fill="#00009f" d="M179.9 1135.1L334.2 1204L487.9 1273.1L481.6 1270.8L311.7 1195.1L172.1 1133.3L179.9 1135.1Z"/>
<path fill="#0000af" d="M172.1 1133.3L311.7 1195.1L481.6 1270.8L475.8 1268.4L336.2 1206.6L165.1 1131.2L172.1 1133.3Z"/>
<path fill="#0000bf" d="M165.1 1131.2L336.2 1206.6L475.8 1268.4L469.9 1266L298.9 1190.6L158.6 1128.9L165.1 1131.2Z"/>
<path fill="#0000cf" d="M158.6 1128.9L298.9 1190.6L469.9 1266L464.1 1263.6L214.6 1154.1L151.8 1126.8L158.6 1128.9Z"/>
<path fill="#0000df" d="M151.8 1126.8L214.6 1154.1L464.1 1263.6L458.2 1261.3L395.8 1233.9L348.7 1213.4L316.6 1200L283.5 1186.8L248.8 1174L230.9 1167.8L212.7 1161.7L156.9 1143.6L119.1 1131.7L142.4 1127.5L148.4 1126.8L151.8 1126.8Z"/>
<path fill="#0000ef" d="M119.1 1131.7L156.9 1143.6L212.7 1161.7L230.9 1167.8L248.8 1174L283.5 1186.8L316.6 1200L348.7 1213.4L395.8 1233.9L458.2 1261.3L455.5 1260.2L453.4 1259.9L450.7 1260L446.2 1260.5L428.2 1254.3L372.7 1236.2L317.6 1217.8L280.2 1205.8L241.9 1194.1L105.3 1134.5L119.1 1131.7Z"/>
<path fill="#0000ff" d="M105.3 1134.5L241.9 1194.1L280.2 1205.8L317.6 1217.8L372.7 1236.2L428.2 1254.3L446.2 1260.5L408.8 1267L105.3 1134.5Z"/>
<path fill="#00008f" d="M1020.6 1199.2L1050.9 1213.3L1081.3 1227.8L1126.8 1250.1L1202.7 1287.9L1248.2 1310.4L1293.7 1332.2L1324.1 1346.4L1345.3 1340.5L1350 1338.8L1355.3 1336.6L1279.5 1301.3L1112.5 1222L1051.8 1193.8L1039.5 1197.1L1035.3 1198L1028.7 1198.8L1020.6 1199.2Z"/>
<path fill="#00009f" d="M1051.8 1193.8L1112.5 1222L1279.5 1301.3L1355.3 1336.6L1358.2 1335.3L1360.6 1333.9L1367.1 1328.9L1063.6 1189.6L1062.3 1190.4L1060.4 1191.2L1051.8 1193.8Z"/>
<path fill="#0000af" d="M1063.6 1189.6L1367.1 1328.9L1373.1 1322.7L1069.6 1182.5L1065.6 1187.5L1063.6 1189.6Z"/>
<path fill="#0000bf" d="M1069.6 1182.5L1373.1 1322.7L1378 1316.8L1302.1 1281.8L1135.2 1204L1074.5 1176.1L1069.6 1182.5Z"/>
<path fill="#0000cf" d="M1074.5 1176.1L1135.2 1204L1302.1 1281.8L1378 1316.8L1379.7 1314.4L1381.4 1311.4L1305.5 1276.3L1138.6 1198.1L1077.9 1170.1L1076.2 1173.4L1074.5 1176.1Z"/>
<path fill="#0000df" d="M1077.9 1170.1L1138.6 1198.1L1305.5 1276.3L1381.4 1311.4L1384.3 1306L1308.4 1270.9L1141.5 1192.3L1080.8 1164.3L1077.9 1170.1Z"/>
<path fill="#0000ef" d="M1080.8 1164.3L1141.5 1192.3L1308.4 1270.9L1384.3 1306L1387.2 1300.7L1311.3 1265.5L1144.4 1186.5L1083.7 1158.4L1080.8 1164.3Z"/>
<path fill="#0000ff" d="M1083.7 1158.4L1144.4 1186.5L1311.3 1265.5L1387.2 1300.7L1390.7 1295.2L1314.8 1259.9L1147.9 1180.6L1087.2 1152.4L1085.5 1155L1083.7 1158.4Z"/>
<path fill="#0010ff" d="M1087.2 1152.4L1147.9 1180.6L1314.8 1259.9L1390.7 1295.2L1395.5 1289.4L1365.2 1275.3L1319.7 1254L1152.7 1174.3L1092 1146L1087.2 1152.4Z"/>
<path fill="#0020ff" d="M1092 1146L1152.7 1174.3L1319.7 1254L1365.2 1275.3L1395.5 1289.4L1401.2 1283.3L1370.8 1269.2L1325.3 1247.8L1203.9 1189.4L1158.4 1167.7L1097.7 1139.5L1092 1146Z"/>
<path fill="#0030ff" d="M1097.7 1139.5L1158.4 1167.7L1203.9 1189.4L1325.3 1247.8L1370.8 1269.2L1401.2 1283.3L1404.3 1280.6L1410.5 1276.2L1380.2 1262.2L1334.7 1240.7L1213.3 1182L1167.7 1160.2L1107 1131.9L1100.8 1136.5L1097.7 1139.5Z"/>
<path fill="#0040ff" d="M1107 1131.9L1167.7 1160.2L1213.3 1182L1334.7 1240.7L1380.2 1262.2L1410.5 1276.2L1414.3 1274L1417.6 1272.5L1427.4 1269.3L1437 1266.5L1479.5 1255.8L1717.3 1191.7L1687 1177.7L1641.4 1156.1L1520 1097.4L1474.5 1075.6L1413.8 1047.2L1176 1111.3L1133.5 1121.9L1123.9 1124.7L1114.1 1128L1110.8 1129.5L1107 1131.9Z"/>
</g>
<g class="c">
<path fill="#fff" d="M1018.5 211.9L1033.6 220.1L1048.8 230.8L1064 243.8L1079.2 259.2L1094.3 276.5L1109.5 295.6L1124.7 316.2L1139.9 337.9L1155 360.4L1170.2 383.3L1185.4 406.2L1200.6 428.7L1215.7 450.5L1230.9 471L1246.1 490.2L1261.2 507.5L1276.4 522.2L1291.6 533.7L1306.8 544.8L1322 554.8L1323.9 546.5L1308.7 536.7L1293.5 528L1278.3 519.6L1263.2 511.2L1248 502.9L1232.8 494.7L1217.6 486.6L1202.5 478.5L1187.3 470.4L1172.1 462.3L1156.9 454.3L1141.8 446.3L1126.6 438.4L1111.4 430.4L1096.2 422.5L1081.1 414.6L1065.9 406.8L1050.7 399L1035.5 391.2L1020.4 383.4Z"/>
<path fill="#00008f" d="M1291.6 533.7L1306.8 544.8L1307 543.5L1291.8 532.8ZM1306.8 544.8L1322 554.8L1322.8 550.3L1307.6 540.4Z"/>
<path fill="#00009f" d="M1276.4 522.2L1291.6 533.7L1292 532.1L1276.8 521.5ZM1291.8 532.8L1307 543.5L1308 538.9L1292.8 529.6ZM1307.6 540.4L1322.8 550.3L1323.9 546.5L1308.7 536.7Z"/>
<path fill="#0000af" d="M1261.2 507.5L1276.4 522.2L1277.3 520.8L1262.1 509.7ZM1276.8 521.5L1292 532.1L1293.5 528L1278.3 519.6ZM1292.8 529.6L1308 538.9L1308.7 536.7L1293.5 528Z"/>
<path fill="#0000bf" d="M1232.6 493.5L1247.8 502.3L1248 502.9L1232.8 494.7ZM1246.9 497L1262 509.5L1263.2 511.2L1248 502.9ZM1262.1 509.7L1277.3 520.8L1278.3 519.6L1263.2 511.2Z"/>
<path fill="#0000cf" d="M1172.1 462L1187.3 470.1L1187.3 470.4L1172.1 462.3ZM1187.2 468.6L1202.3 477.1L1202.5 478.5L1187.3 470.4ZM1202.2 475.1L1217.4 484.1L1217.6 486.6L1202.5 478.5ZM1217.1 481.1L1232.3 491.1L1232.8 494.7L1217.6 486.6ZM1231.9 486L1247 498.3L1247.8 502.3L1232.6 493.5ZM1246.1 490.2L1261.2 507.5L1262 509.5L1246.9 497Z"/>
<path fill="#0000df" d="M1111.4 430L1126.6 438L1126.6 438.4L1111.4 430.4ZM1126.5 436.8L1141.7 445L1141.8 446.3L1126.6 438.4ZM1141.6 443.6L1156.8 451.9L1156.9 454.3L1141.8 446.3ZM1156.8 450.2L1171.9 458.9L1172.1 462.3L1156.9 454.3ZM1171.8 456.8L1187 465.9L1187.3 470.1L1172.1 462ZM1186.9 463.2L1202.1 472.9L1202.3 477.1L1187.2 468.6ZM1201.9 469.3L1217.1 479.9L1217.4 484.1L1202.2 475.1ZM1216.8 474.8L1232 487L1232.3 491.1L1217.1 481.1ZM1231.3 478.3L1246.5 494.1L1247 498.3L1231.9 486Z"/>
<path fill="#0000ef" d="M1035.5 391.1L1050.7 398.9L1050.7 399L1035.5 391.2ZM1050.7 398L1065.9 405.8L1065.9 406.8L1050.7 399ZM1065.8 404.9L1081 412.8L1081.1 414.6L1065.9 406.8ZM1081 411.7L1096.1 419.8L1096.2 422.5L1081.1 414.6ZM1096.1 418.5L1111.3 426.8L1111.4 430.4L1096.2 422.5ZM1111.2 425.3L1126.4 433.7L1126.6 438L1111.4 430ZM1126.4 432.1L1141.5 440.7L1141.7 445L1126.5 436.8ZM1141.5 438.6L1156.7 447.7L1156.8 451.9L1141.6 443.6ZM1156.6 445.2L1171.8 454.7L1171.9 458.9L1156.8 450.2ZM1171.7 451.7L1186.8 461.7L1187 465.9L1171.8 456.8ZM1186.7 457.7L1201.9 468.7L1202.1 472.9L1186.9 463.2ZM1201.7 463.5L1216.8 475.7L1217.1 479.9L1201.9 469.3ZM1216.5 468.4L1231.6 482.8L1232 487L1216.8 474.8ZM1230.9 471L1246.1 490.2L1246.5 494.1L1231.3 478.3Z"/>
<path fill="#0000ff" d="M1020.3 379.9L1035.4 387.6L1035.5 391.2L1020.4 383.4ZM1035.4 386.7L1050.6 394.6L1050.7 398.9L1035.5 391.1ZM1050.6 393.6L1065.7 401.6L1065.9 405.8L1050.7 398ZM1065.7 400.4L1080.9 408.6L1081 412.8L1065.8 404.9ZM1080.9 407.1L1096 415.5L1096.1 419.8L1081 411.7ZM1096 413.9L1111.2 422.5L1111.3 426.8L1096.1 418.5ZM1111.1 420.6L1126.3 429.4L1126.4 433.7L1111.2 425.3ZM1126.3 427.2L1141.4 436.5L1141.5 440.7L1126.4 432.1ZM1141.4 433.7L1156.5 443.4L1156.7 447.7L1141.5 438.6ZM1156.4 440.1L1171.6 450.4L1171.8 454.7L1156.6 445.2ZM1171.5 446.4L1186.7 457.4L1186.8 461.7L1171.7 451.7ZM1186.5 452.2L1201.7 464.4L1201.9 468.7L1186.7 457.7ZM1201.4 457.6L1216.6 471.5L1216.8 475.7L1201.7 463.5ZM1216.2 461.9L1231.3 478.5L1231.6 482.8L1216.5 468.4Z"/>
<path fill="#0010ff" d="M1020.2 375.6L1035.3 383.4L1035.4 387.6L1020.3 379.9ZM1035.3 382.5L1050.5 390.4L1050.6 394.6L1035.4 386.7ZM1050.5 389.2L1065.7 397.3L1065.7 401.6L1050.6 393.6ZM1065.6 395.9L1080.8 404.3L1080.9 408.6L1065.7 400.4ZM1080.8 402.7L1095.9 411.3L1096 415.5L1080.9 407.1ZM1095.9 409.4L1111.1 418.3L1111.2 422.5L1096 413.9ZM1111 415.9L1126.2 425.2L1126.3 429.4L1111.1 420.6ZM1126.2 422.4L1141.3 432.2L1141.4 436.5L1126.3 427.2ZM1141.3 428.8L1156.4 439.2L1156.5 443.4L1141.4 433.7ZM1156.3 435.1L1171.5 446.2L1171.6 450.4L1156.4 440.1ZM1171.4 441.1L1186.5 453.1L1186.7 457.4L1171.5 446.4ZM1186.4 446.9L1201.5 460.3L1201.7 464.4L1186.5 452.2ZM1201.2 451.8L1216.4 467.2L1216.6 471.5L1201.4 457.6ZM1215.9 455.4L1231.1 474.3L1231.3 478.5L1216.2 461.9Z"/>
<path fill="#0020ff" d="M1020.1 371.4L1035.3 379.2L1035.3 383.4L1020.2 375.6ZM1035.2 378L1050.4 386L1050.5 390.4L1035.3 382.5ZM1050.4 384.8L1065.6 393L1065.7 397.3L1050.5 389.2ZM1065.5 391.5L1080.7 400.1L1080.8 404.3L1065.6 395.9ZM1080.7 398.1L1095.9 407L1095.9 411.3L1080.8 402.7ZM1095.8 404.6L1111 413.9L1111.1 418.3L1095.9 409.4ZM1110.9 411.2L1126.1 421L1126.2 425.2L1111 415.9ZM1126.1 417.6L1141.2 427.9L1141.3 432.2L1126.2 422.4ZM1141.1 423.8L1156.3 434.8L1156.4 439.2L1141.3 428.8ZM1156.2 429.9L1171.4 441.8L1171.5 446.2L1156.3 435.1ZM1171.2 435.8L1186.4 448.8L1186.5 453.1L1171.4 441.1ZM1186.2 441.4L1201.4 456L1201.5 460.3L1186.4 446.9ZM1201 446L1216.2 463L1216.4 467.2L1201.2 451.8ZM1215.7 450.5L1230.9 471L1231.1 474.3L1215.9 455.4Z"/>
<path fill="#0030ff" d="M1020 367.1L1035.2 375L1035.3 379.2L1020.1 371.4ZM1035.2 373.6L1050.3 381.7L1050.4 386L1035.2 378ZM1050.3 380.4L1065.5 388.8L1065.6 393L1050.4 384.8ZM1065.5 387.1L1080.7 395.8L1080.7 400.1L1065.5 391.5ZM1080.6 393.6L1095.8 402.7L1095.9 407L1080.7 398.1ZM1095.7 400.1L1110.9 409.7L1111 413.9L1095.8 404.6ZM1110.9 406.6L1126 416.8L1126.1 421L1110.9 411.2ZM1126 413L1141.1 423.8L1141.2 427.9L1126.1 417.6ZM1141 418.9L1156.2 430.5L1156.3 434.8L1141.1 423.8ZM1156.1 425L1171.3 437.7L1171.4 441.8L1156.2 429.9ZM1171.1 430.8L1186.3 444.8L1186.4 448.8L1171.2 435.8ZM1186.1 436L1201.2 451.8L1201.4 456L1186.2 441.4ZM1200.9 440L1216 458.6L1216.2 463L1201 446Z"/>
<path fill="#0040ff" d="M1020 362.7L1035.1 370.5L1035.2 375L1020 367.1ZM1035.1 369.4L1050.3 377.6L1050.3 381.7L1035.2 373.6ZM1050.3 375.9L1065.4 384.4L1065.5 388.8L1050.3 380.4ZM1065.4 382.7L1080.6 391.6L1080.7 395.8L1065.5 387.1ZM1080.5 389.2L1095.7 398.6L1095.8 402.7L1080.6 393.6ZM1095.7 395.4L1110.8 405.4L1110.9 409.7L1095.7 400.1ZM1110.8 401.7L1126 412.4L1126 416.8L1110.9 406.6ZM1125.9 408.2L1141.1 419.5L1141.1 423.8L1126 413ZM1141 414.1L1156.1 426.4L1156.2 430.5L1141 418.9ZM1156 419.9L1171.2 433.4L1171.3 437.7L1156.1 425ZM1171 425.3L1186.2 440.3L1186.3 444.8L1171.1 430.8ZM1185.9 430.5L1201.1 447.6L1201.2 451.8L1186.1 436ZM1200.7 434.4L1215.9 454.6L1216 458.6L1200.9 440Z"/>
<path fill="#0050ff" d="M1019.9 358.6L1035.1 366.5L1035.1 370.5L1020 362.7ZM1035 365.2L1050.2 373.4L1050.3 377.6L1035.1 369.4ZM1050.2 371.8L1065.4 380.4L1065.4 384.4L1050.3 375.9ZM1065.3 378L1080.5 387.2L1080.6 391.6L1065.4 382.7ZM1080.5 384.7L1095.7 394.4L1095.7 398.6L1080.5 389.2ZM1095.6 391L1110.8 401.4L1110.8 405.4L1095.7 395.4ZM1110.7 397.1L1125.9 408.2L1126 412.4L1110.8 401.7ZM1125.8 403.3L1141 415.2L1141.1 419.5L1125.9 408.2ZM1140.9 409.4L1156.1 422.3L1156.1 426.4L1141 414.1ZM1155.9 414.9L1171.1 429.2L1171.2 433.4L1156 419.9ZM1170.9 420.5L1186.1 436.4L1186.2 440.3L1171 425.3ZM1185.8 424.8L1201 443.1L1201.1 447.6L1185.9 430.5ZM1200.6 428.7L1215.7 450.5L1215.9 454.6L1200.7 434.4Z"/>
<path fill="#0060ff" d="M1019.8 354.2L1035 362.1L1035.1 366.5L1019.9 358.6ZM1035 360.6L1050.2 368.9L1050.2 373.4L1035 365.2ZM1050.1 367.3L1065.3 376.1L1065.4 380.4L1050.2 371.8ZM1065.3 373.8L1080.5 383.1L1080.5 387.2L1065.3 378ZM1080.4 379.8L1095.6 389.8L1095.7 394.4L1080.5 384.7ZM1095.5 386.4L1110.7 397.1L1110.8 401.4L1095.6 391ZM1110.6 392.2L1125.8 403.8L1125.9 408.2L1110.7 397.1ZM1125.7 398.2L1140.9 410.7L1141 415.2L1125.8 403.3ZM1140.8 404L1156 417.7L1156.1 422.3L1140.9 409.4ZM1155.8 409.7L1171 424.8L1171.1 429.2L1155.9 414.9ZM1170.8 415L1186 432L1186.1 436.4L1170.9 420.5ZM1185.7 419.5L1200.8 439L1201 443.1L1185.8 424.8Z"/>
<path fill="#0070ff" d="M1019.8 349.9L1034.9 357.8L1035 362.1L1019.8 354.2ZM1034.9 356.5L1050.1 364.9L1050.2 368.9L1035 360.6ZM1050.1 362.7L1065.3 371.6L1065.3 376.1L1050.1 367.3ZM1065.2 368.9L1080.4 378.5L1080.5 383.1L1065.3 373.8ZM1080.3 375.2L1095.5 385.5L1095.6 389.8L1080.4 379.8ZM1095.5 381.7L1110.6 392.7L1110.7 397.1L1095.5 386.4ZM1110.6 387.7L1125.7 399.7L1125.8 403.8L1110.6 392.2ZM1125.7 393.5L1140.8 406.6L1140.9 410.7L1125.7 398.2ZM1140.7 399.1L1155.9 413.4L1156 417.7L1140.8 404ZM1155.7 404.5L1170.9 420.5L1171 424.8L1155.8 409.7ZM1170.7 409.5L1185.9 427.5L1186 432L1170.8 415ZM1185.5 414.3L1200.7 435L1200.8 439L1185.7 419.5Z"/>
<path fill="#0080ff" d="M1019.7 345.5L1034.9 353.3L1034.9 357.8L1019.8 349.9ZM1034.9 351.9L1050 360.4L1050.1 364.9L1034.9 356.5ZM1050 358.4L1065.2 367.5L1065.3 371.6L1050.1 362.7ZM1065.2 364.4L1080.3 374.2L1080.4 378.5L1065.2 368.9ZM1080.3 371.1L1095.5 381.7L1095.5 385.5L1080.3 375.2ZM1095.4 376.8L1110.6 388.3L1110.6 392.7L1095.5 381.7ZM1110.5 382.7L1125.7 395.2L1125.7 399.7L1110.6 387.7ZM1125.6 388.9L1140.8 402.4L1140.8 406.6L1125.7 393.5ZM1140.6 394.2L1155.8 409.2L1155.9 413.4L1140.7 399.1ZM1155.6 399.4L1170.8 416.2L1170.9 420.5L1155.7 404.5ZM1170.6 404.8L1185.8 423.7L1185.9 427.5L1170.7 409.5ZM1185.4 408.5L1200.6 430.5L1200.7 435L1185.5 414.3Z"/>
<path fill="#008fff" d="M1019.7 341.5L1034.8 349.4L1034.9 353.3L1019.7 345.5ZM1034.8 347.8L1050 356.3L1050 360.4L1034.9 351.9ZM1050 354.2L1065.1 363.4L1065.2 367.5L1050 358.4ZM1065.1 360L1080.3 370L1080.3 374.2L1065.2 364.4ZM1080.2 366.6L1095.4 377.4L1095.5 381.7L1080.3 371.1ZM1095.3 372.1L1110.5 383.9L1110.6 388.3L1095.4 376.8ZM1110.4 378.4L1125.6 391.3L1125.7 395.2L1110.5 382.7ZM1125.5 383.8L1140.7 397.9L1140.8 402.4L1125.6 388.9ZM1140.6 389.6L1155.7 405.2L1155.8 409.2L1140.6 394.2ZM1155.5 394.5L1170.7 412L1170.8 416.2L1155.6 399.4ZM1170.5 398.9L1185.7 418.9L1185.8 423.7L1170.6 404.8ZM1185.4 406.2L1200.6 428.7L1200.6 430.5L1185.4 408.5Z"/>
<path fill="#009fff" d="M1019.6 337.1L1034.8 345L1034.8 349.4L1019.7 341.5ZM1034.8 343.3L1049.9 351.9L1050 356.3L1034.8 347.8ZM1049.9 349.5L1065.1 358.9L1065.1 363.4L1050 354.2ZM1065.1 355.8L1080.2 366L1080.3 370L1065.1 360ZM1080.2 361.6L1095.4 372.7L1095.4 377.4L1080.2 366.6ZM1095.3 367.6L1110.5 379.7L1110.5 383.9L1095.3 372.1ZM1110.4 373.8L1125.6 387L1125.6 391.3L1110.4 378.4ZM1125.4 378.9L1140.6 393.6L1140.7 397.9L1125.5 383.8ZM1140.5 384.5L1155.7 400.8L1155.7 405.2L1140.6 389.6ZM1155.5 390L1170.6 408.2L1170.7 412L1155.5 394.5ZM1170.4 394.1L1185.6 415L1185.7 418.9L1170.5 398.9Z"/>
<path fill="#00afff" d="M1019.6 333L1034.7 340.9L1034.8 345L1019.6 337.1ZM1034.7 339L1049.9 347.6L1049.9 351.9L1034.8 343.3ZM1049.9 345L1065 354.5L1065.1 358.9L1049.9 349.5ZM1065 351.2L1080.2 361.6L1080.2 366L1065.1 355.8ZM1080.1 357.6L1095.3 368.9L1095.4 372.7L1080.2 361.6ZM1095.2 363.4L1110.4 375.8L1110.5 379.7L1095.3 367.6ZM1110.3 368.7L1125.5 382.4L1125.6 387L1110.4 373.8ZM1125.4 374.4L1140.6 389.6L1140.6 393.6L1125.4 378.9ZM1140.4 379.8L1155.6 396.7L1155.7 400.8L1140.5 384.5ZM1155.4 384.2L1170.6 403.4L1170.6 408.2L1155.5 390ZM1170.3 388.9L1185.5 410.8L1185.6 415L1170.4 394.1Z"/>
<path fill="#00bfff" d="M1019.5 328.4L1034.7 336.3L1034.7 340.9L1019.6 333ZM1034.7 334.9L1049.9 343.7L1049.9 347.6L1034.7 339ZM1049.8 340.9L1065 350.5L1065 354.5L1049.9 345ZM1065 347L1080.1 357.6L1080.2 361.6L1065 351.2ZM1080.1 352.4L1095.2 364.1L1095.3 368.9L1080.1 357.6ZM1095.2 358.9L1110.4 371.7L1110.4 375.8L1095.2 363.4ZM1110.3 364L1125.4 378.2L1125.5 382.4L1110.3 368.7ZM1125.3 369.5L1140.5 385.2L1140.6 389.6L1125.4 374.4ZM1140.3 374.7L1155.5 392.3L1155.6 396.7L1140.4 379.8ZM1155.3 379.8L1170.5 399.7L1170.6 403.4L1155.4 384.2ZM1170.2 383.3L1185.4 406.2L1185.5 410.8L1170.3 388.9Z"/>
<path fill="#00cfff" d="M1019.5 324.2L1034.6 332.1L1034.7 336.3L1019.5 328.4ZM1034.6 330.6L1049.8 339.5L1049.9 343.7L1034.7 334.9ZM1049.8 336.4L1064.9 346.2L1065 350.5L1049.8 340.9ZM1064.9 342.4L1080.1 353.2L1080.1 357.6L1065 347ZM1080 348.5L1095.2 360.4L1095.2 364.1L1080.1 352.4ZM1095.1 354L1110.3 367.2L1110.4 371.7L1095.2 358.9ZM1110.2 359.8L1125.4 374.4L1125.4 378.2L1110.3 364ZM1125.3 365.2L1140.4 381.4L1140.5 385.2L1125.3 369.5ZM1140.3 370.2L1155.4 388.4L1155.5 392.3L1140.3 374.7ZM1155.2 374.2L1170.4 394.9L1170.5 399.7L1155.3 379.8Z"/>
<path fill="#00dfff" d="M1019.4 319.6L1034.6 327.6L1034.6 332.1L1019.5 324.2ZM1034.6 326L1049.8 334.9L1049.8 339.5L1034.6 330.6ZM1049.7 331.7L1064.9 341.6L1064.9 346.2L1049.8 336.4ZM1064.8 337.5L1080 348.5L1080.1 353.2L1064.9 342.4ZM1080 343.4L1095.1 355.7L1095.2 360.4L1080 348.5ZM1095.1 349.7L1110.2 363.2L1110.3 367.2L1095.1 354ZM1110.1 354.4L1125.3 369.5L1125.4 374.4L1110.2 359.8ZM1125.2 359.6L1140.4 376.4L1140.4 381.4L1125.3 365.2ZM1140.2 365.4L1155.4 384.2L1155.4 388.4L1140.3 370.2ZM1155.2 369.2L1170.3 390.7L1170.4 394.9L1155.2 374.2Z"/>
<path fill="#00efff" d="M1019.4 315.6L1034.6 323.5L1034.6 327.6L1019.4 319.6ZM1034.5 321.9L1049.7 330.8L1049.8 334.9L1034.6 326ZM1049.7 327.4L1064.8 337.5L1064.9 341.6L1049.7 331.7ZM1064.8 333.1L1080 344.3L1080 348.5L1064.8 337.5ZM1079.9 338.9L1095.1 351.4L1095.1 355.7L1080 343.4ZM1095 345.1L1110.2 358.9L1110.2 363.2L1095.1 349.7ZM1110.1 349.6L1125.3 365.2L1125.3 369.5L1110.1 354.4ZM1125.1 355.6L1140.3 372.9L1140.4 376.4L1125.2 359.6ZM1140.1 360.3L1155.3 379.8L1155.4 384.2L1140.2 365.4ZM1155.1 363.8L1170.2 386.2L1170.3 390.7L1155.2 369.2Z"/>
<path fill="#00ffff" d="M1019.3 311.3L1034.5 319.3L1034.6 323.5L1019.4 315.6ZM1034.5 317.5L1049.7 326.5L1049.7 330.8L1034.5 321.9ZM1049.6 322.9L1064.8 333.1L1064.8 337.5L1049.7 327.4ZM1064.8 328.4L1079.9 339.9L1080 344.3L1064.8 333.1ZM1079.9 334.2L1095 346.9L1095.1 351.4L1079.9 338.9ZM1095 341.2L1110.2 355.3L1110.2 358.9L1095 345.1ZM1110 345.6L1125.2 361.5L1125.3 365.2L1110.1 349.6ZM1125.1 350.4L1140.2 368.3L1140.3 372.9L1125.1 355.6ZM1140.1 354.9L1155.2 375.2L1155.3 379.8L1140.1 360.3ZM1155 360.4L1170.2 383.3L1170.2 386.2L1155.1 363.8Z"/>
<path fill="#10ffef" d="M1019.3 306.8L1034.5 314.7L1034.5 319.3L1019.3 311.3ZM1034.4 312.8L1049.6 321.9L1049.7 326.5L1034.5 317.5ZM1049.6 319.1L1064.8 329.4L1064.8 333.1L1049.6 322.9ZM1064.7 325.5L1079.9 337.1L1079.9 339.9L1064.8 328.4ZM1079.9 333.2L1095 346L1095 346.9L1079.9 334.2ZM1110 343.5L1125.2 359.6L1125.2 361.5L1110 345.6ZM1125 346L1140.2 364.4L1140.2 368.3L1125.1 350.4ZM1140 350.4L1155.2 371.2L1155.2 375.2L1140.1 354.9Z"/>
<path fill="#20ffdf" d="M1019.2 302.9L1034.4 310.9L1034.5 314.7L1019.3 306.8ZM1034.4 309.9L1049.6 319.1L1049.6 321.9L1034.4 312.8ZM1049.6 317.1L1064.7 327.5L1064.8 329.4L1049.6 319.1ZM1125 340.2L1140.1 359.3L1140.2 364.4L1125 346ZM1139.9 345.6L1155.1 367.1L1155.2 371.2L1140 350.4Z"/>
<path fill="#30ffcf" d="M1019.2 301.9L1034.4 309.9L1034.4 310.9L1019.2 302.9ZM1124.9 336.6L1140.1 356L1140.1 359.3L1125 340.2ZM1139.9 340.5L1155.1 362.7L1155.1 367.1L1139.9 345.6Z"/>
<path fill="#40ffbf" d="M1124.8 331.5L1140 351.5L1140.1 356L1124.9 336.6ZM1139.9 337.9L1155 360.4L1155.1 362.7L1139.9 340.5Z"/>
<path fill="#50ffaf" d="M1124.8 326.2L1140 346.8L1140 351.5L1124.8 331.5Z"/>
<g stroke-width="0.72">
<path stroke="#30ffcf" d="M1094.8 327.2L1110 342.4M1094.8 328.3L1110 343.5"/>
<path stroke="#8fff70" d="M1079.5 294.2L1094.6 309.4M1079.5 295.7L1094.7 310.8"/>
<path stroke="#ffdf00" d="M1064 247.8L1079.2 262.9"/>
<path stroke="#ffcf00" d="M1064 245.8L1079.2 261"/>
</g>
<g stroke-width="0.78">
<path stroke="#0000af" d="M1261.2 507.5L1276.4 522.2"/>
<path stroke="#0000cf" d="M1246.1 490.2L1261.2 507.5"/>
<path stroke="#00ffff" d="M1095 340.2L1110.1 354.4M1095 341.2L1110.2 355.3"/>
<path stroke="#10ffef" d="M1079.8 330.1L1095 343.2M1079.8 331.2L1095 344.1M1079.8 332.2L1095 345.1M1079.9 333.2L1095 346M1094.9 335L1110.1 349.6M1094.9 336.1L1110.1 350.6M1094.9 337.1L1110.1 351.6M1094.9 338.2L1110.1 352.5M1095 339.2L1110.1 353.5M1110 340.2L1125.2 356.6M1110 341.3L1125.2 357.6M1110 342.4L1125.2 358.6M1110 343.5L1125.2 359.6"/>
<path stroke="#20ffdf" d="M1079.8 325.9L1095 339.2M1079.8 327L1095 340.2M1079.8 328L1095 341.2M1079.8 329.1L1095 342.2M1094.9 330.6L1110 345.6M1094.9 331.7L1110 346.6M1094.9 332.8L1110.1 347.6M1094.9 333.9L1110.1 348.6M1109.9 335.7L1125.1 352.6M1109.9 336.9L1125.1 353.6M1109.9 338L1125.1 354.6M1110 339.1L1125.1 355.6"/>
<path stroke="#30ffcf" d="M1079.7 321.4L1094.9 335M1079.7 322.6L1094.9 336.1M1079.8 323.7L1094.9 337.1M1079.8 324.8L1094.9 338.2M1094.8 326L1110 341.3M1094.8 329.5L1110 344.5M1109.9 331L1125 348.3M1109.9 332.2L1125.1 349.4M1109.9 333.4L1125.1 350.4M1109.9 334.6L1125.1 351.5"/>
<path stroke="#40ffbf" d="M1079.7 316.8L1094.9 330.6M1079.7 318L1094.9 331.7M1079.7 319.1L1094.9 332.8M1079.7 320.3L1094.9 333.9M1094.8 321.2L1109.9 336.9M1094.8 322.4L1109.9 338M1094.8 323.6L1110 339.1M1094.8 324.8L1110 340.2M1109.8 326L1125 343.8M1109.8 327.3L1125 344.9M1109.8 328.5L1125 346M1109.9 329.8L1125 347.2"/>
<path stroke="#50ffaf" d="M1079.6 311.9L1094.8 326M1079.6 313.1L1094.8 327.2M1079.7 314.4L1094.8 328.3M1079.7 315.6L1094.8 329.5M1094.7 317.4L1109.9 333.4M1094.7 318.7L1109.9 334.6M1094.7 320L1109.9 335.7M1109.8 322.1L1125 340.2M1109.8 323.5L1125 341.4M1109.8 324.8L1125 342.6"/>
<path stroke="#60ff9f" d="M1064.5 301.7L1079.7 314.4M1079.6 306.7L1094.8 321.2M1079.6 308.1L1094.8 322.4M1079.6 309.3L1094.8 323.6M1079.6 310.6L1094.8 324.8M1094.7 312.2L1109.8 328.5M1094.7 313.5L1109.9 329.8M1094.7 314.8L1109.9 331M1094.7 316.1L1109.9 332.2"/>
<path stroke="#70ff8f" d="M1064.5 297.8L1079.6 310.6M1064.5 299.1L1079.6 311.9M1064.5 300.4L1079.6 313.1M1079.5 302.7L1094.7 317.4M1079.6 304.1L1094.7 318.7M1079.6 305.4L1094.7 320M1094.6 308.1L1109.8 324.8M1094.6 309.4L1109.8 326M1094.7 310.8L1109.8 327.3"/>
<path stroke="#80ff80" d="M1064.4 293.7L1079.6 306.7M1064.4 295.1L1079.6 308.1M1064.4 296.4L1079.6 309.3M1079.5 298.6L1094.7 313.5M1079.5 300L1094.7 314.8M1079.5 301.4L1094.7 316.1M1094.6 302.3L1109.7 319.5M1094.6 303.8L1109.8 320.8M1094.6 305.2L1109.8 322.1M1094.6 306.7L1109.8 323.5"/>
<path stroke="#8fff70" d="M1064.4 288.1L1079.5 301.4M1064.4 289.5L1079.5 302.7M1064.4 290.9L1079.6 304.1M1064.4 292.3L1079.6 305.4M1079.5 297.1L1094.7 312.2M1094.5 297.9L1109.7 315.3M1094.5 299.4L1109.7 316.7M1094.6 300.9L1109.7 318.1"/>
<path stroke="#9fff60" d="M1064.3 283.6L1079.5 297.1M1064.3 285.1L1079.5 298.6M1064.3 286.6L1079.5 300M1079.4 289.8L1094.6 305.2M1079.4 291.3L1094.6 306.7M1079.5 292.8L1094.6 308.1M1094.5 293.2L1109.7 311.1M1094.5 294.8L1109.7 312.5M1094.5 296.3L1109.7 313.9"/>
<path stroke="#afff50" d="M1064.3 279.1L1079.5 292.8M1064.3 280.6L1079.5 294.2M1064.3 282.1L1079.5 295.7M1079.4 285.1L1094.6 300.9M1079.4 286.7L1094.6 302.3M1079.4 288.2L1094.6 303.8M1094.4 288.4L1109.6 306.6M1094.5 290L1109.6 308.1M1094.5 291.6L1109.6 309.6"/>
<path stroke="#bfff40" d="M1064.3 275.9L1079.4 289.8M1064.3 277.5L1079.4 291.3M1079.3 280.3L1094.5 296.3M1079.4 281.9L1094.5 297.9M1079.4 283.5L1094.5 299.4"/>
<path stroke="#cfff30" d="M1064.2 271L1079.4 285.1M1064.2 272.7L1079.4 286.7M1064.2 274.3L1079.4 288.2M1079.3 275.3L1094.5 291.6M1079.3 277L1094.5 293.2M1079.3 278.6L1094.5 294.8"/>
<path stroke="#dfff20" d="M1064.2 266L1079.3 280.3M1064.2 267.7L1079.4 281.9M1064.2 269.4L1079.4 283.5M1079.2 270.1L1094.4 286.8M1079.3 271.9L1094.4 288.4M1079.3 273.6L1094.5 290"/>
<path stroke="#efff10" d="M1064.1 262.5L1079.3 277M1064.1 264.3L1079.3 278.6M1079.2 266.5L1094.4 283.4M1079.2 268.3L1094.4 285.1"/>
<path stroke="#ffff00" d="M1064.1 257.2L1079.3 271.9M1064.1 259L1079.3 273.6M1064.1 260.7L1079.3 275.3M1079.2 261L1094.3 278.3M1079.2 262.9L1094.4 280M1079.2 264.7L1094.4 281.7"/>
<path stroke="#ffef00" d="M1064.1 253.5L1079.2 268.3M1064.1 255.3L1079.2 270.1M1079.2 259.2L1094.3 276.5"/>
<path stroke="#ffdf00" d="M1048.9 244.5L1064.1 257.2M1064 249.7L1079.2 264.7M1064 251.6L1079.2 266.5"/>
<path stroke="#ffcf00" d="M1048.9 238.8L1064 251.6M1048.9 240.7L1064.1 253.5M1048.9 242.6L1064.1 255.3M1064 243.8L1079.2 259.2"/>
<path stroke="#ffbf00" d="M1048.8 234.8L1064 247.8M1048.8 236.8L1064 249.7"/>
<path stroke="#ffaf00" d="M1048.8 230.8L1064 243.8M1048.8 232.8L1064 245.8"/>
</g>
<g stroke-width="0.84">
<path stroke="#00008f" d="M1291.6 533.7L1306.8 544.8"/>
<path stroke="#00009f" d="M1276.4 522.2L1291.6 533.7"/>
<path stroke="#0000ef" d="M1230.9 471L1246.1 490.2"/>
<path stroke="#0020ff" d="M1215.7 450.5L1230.9 471"/>
<path stroke="#0050ff" d="M1200.6 428.7L1215.7 450.5"/>
<path stroke="#10ffef" d="M1064.7 324.5L1079.9 336.1M1064.7 325.5L1079.9 337.1"/>
<path stroke="#20ffdf" d="M1049.5 314L1064.7 324.5M1049.5 315L1064.7 325.5M1049.6 316.1L1064.7 326.5M1049.6 317.1L1064.7 327.5M1064.7 320.4L1079.8 332.2M1064.7 321.4L1079.9 333.2M1064.7 322.5L1079.9 334.2M1064.7 323.5L1079.9 335.1"/>
<path stroke="#30ffcf" d="M1049.5 309.8L1064.7 320.4M1049.5 310.8L1064.7 321.4M1049.5 311.9L1064.7 322.5M1049.5 313L1064.7 323.5M1064.6 316L1079.8 328M1064.6 317.1L1079.8 329.1M1064.6 318.2L1079.8 330.1M1064.7 319.3L1079.8 331.2"/>
<path stroke="#40ffbf" d="M1049.5 305.3L1064.6 316M1049.5 306.4L1064.6 317.1M1049.5 307.5L1064.6 318.2M1049.5 308.7L1064.7 319.3M1064.6 311.5L1079.8 323.7M1064.6 312.6L1079.8 324.8M1064.6 313.8L1079.8 325.9M1064.6 314.9L1079.8 327"/>
<path stroke="#50ffaf" d="M1049.4 300.6L1064.6 311.5M1049.4 301.8L1064.6 312.6M1049.4 303L1064.6 313.8M1049.4 304.1L1064.6 314.9M1064.5 306.7L1079.7 319.1M1064.5 307.9L1079.7 320.3M1064.6 309.1L1079.7 321.4M1064.6 310.3L1079.7 322.6M1124.8 326.2L1140 346.8"/>
<path stroke="#60ff9f" d="M1049.4 296.9L1064.5 307.9M1049.4 298.2L1064.6 309.1M1049.4 299.4L1064.6 310.3M1064.5 303L1079.7 315.6M1064.5 304.2L1079.7 316.8M1064.5 305.5L1079.7 318M1109.7 316.7L1124.9 335.3M1109.7 318.1L1124.9 336.6M1109.7 319.5L1124.9 337.8M1109.8 320.8L1124.9 339M1124.7 322L1139.9 343.1M1124.8 323.4L1139.9 344.3M1124.8 324.8L1139.9 345.6"/>
<path stroke="#70ff8f" d="M1049.3 291.8L1064.5 303M1049.3 293.1L1064.5 304.2M1049.3 294.4L1064.5 305.5M1049.4 295.7L1064.5 306.7M1109.7 312.5L1124.8 331.5M1109.7 313.9L1124.9 332.8M1109.7 315.3L1124.9 334.1M1124.7 316.2L1139.9 337.9M1124.7 317.7L1139.9 339.2M1124.7 319.1L1139.9 340.5M1124.7 320.6L1139.9 341.8"/>
<path stroke="#80ff80" d="M1049.3 287.8L1064.5 299.1M1049.3 289.2L1064.5 300.4M1049.3 290.5L1064.5 301.7M1109.6 308.1L1124.8 327.5M1109.6 309.6L1124.8 328.9M1109.7 311.1L1124.8 330.2"/>
<path stroke="#8fff70" d="M1049.2 283.7L1064.4 295.1M1049.3 285.1L1064.4 296.4M1049.3 286.4L1064.5 297.8M1109.6 303.6L1124.8 323.4M1109.6 305.1L1124.8 324.8M1109.6 306.6L1124.8 326.2"/>
<path stroke="#9fff60" d="M1049.2 279.4L1064.4 290.9M1049.2 280.8L1064.4 292.3M1049.2 282.2L1064.4 293.7M1109.5 298.9L1124.7 319.1M1109.5 300.4L1124.7 320.6M1109.6 302L1124.7 322"/>
<path stroke="#afff50" d="M1049.2 274.9L1064.3 286.6M1049.2 276.4L1064.4 288.1M1049.2 277.9L1064.4 289.5M1109.5 295.6L1124.7 316.2M1109.5 297.2L1124.7 317.7"/>
<path stroke="#bfff40" d="M1049.1 270.3L1064.3 282.1M1049.1 271.8L1064.3 283.6M1049.2 273.4L1064.3 285.1M1094.4 285.1L1109.6 303.6M1094.4 286.8L1109.6 305.1"/>
<path stroke="#cfff30" d="M1049.1 265.5L1064.3 277.5M1049.1 267.1L1064.3 279.1M1049.1 268.7L1064.3 280.6M1094.4 280L1109.5 298.9M1094.4 281.7L1109.5 300.4M1094.4 283.4L1109.6 302"/>
<path stroke="#dfff20" d="M1049.1 262.2L1064.2 274.3M1049.1 263.9L1064.3 275.9M1094.3 276.5L1109.5 295.6M1094.3 278.3L1109.5 297.2"/>
<path stroke="#efff10" d="M1049 257.1L1064.2 269.4M1049 258.8L1064.2 271M1049 260.5L1064.2 272.7"/>
<path stroke="#ffff00" d="M1049 251.8L1064.1 264.3M1049 253.6L1064.2 266M1049 255.4L1064.2 267.7"/>
<path stroke="#ffef00" d="M1033.8 243.3L1049 253.6M1048.9 248.2L1064.1 260.7M1049 250L1064.1 262.5"/>
<path stroke="#ffdf00" d="M1033.8 239.7L1049 250M1033.8 241.5L1049 251.8M1048.9 246.4L1064.1 259"/>
<path stroke="#ffcf00" d="M1033.7 234L1048.9 244.5M1033.8 235.9L1048.9 246.4M1033.8 237.8L1048.9 248.2"/>
<path stroke="#ffbf00" d="M1033.7 230.2L1048.9 240.7M1033.7 232.1L1048.9 242.6"/>
<path stroke="#ffaf00" d="M1033.7 226.2L1048.8 236.8M1033.7 228.2L1048.9 238.8"/>
<path stroke="#ff9f00" d="M1033.6 222.1L1048.8 232.8M1033.7 224.2L1048.8 234.8"/>
<path stroke="#ff8f00" d="M1033.6 220.1L1048.8 230.8"/>
</g>
<g stroke-width="0.9">
<path stroke="#00008f" d="M1306.8 544.8L1322 554.8"/>
<path stroke="#008fff" d="M1185.4 406.2L1200.6 428.7"/>
<path stroke="#00bfff" d="M1170.2 383.3L1185.4 406.2"/>
<path stroke="#00ffff" d="M1155 360.4L1170.2 383.3"/>
<path stroke="#20ffdf" d="M1034.4 308.9L1049.6 318.1M1034.4 309.9L1049.6 319.1"/>
<path stroke="#30ffcf" d="M1019.2 298.9L1034.4 306.8M1019.2 299.9L1034.4 307.9M1019.2 300.9L1034.4 308.9M1019.2 301.9L1034.4 309.9M1034.4 304.8L1049.5 314M1034.4 305.8L1049.5 315M1034.4 306.8L1049.6 316.1M1034.4 307.9L1049.6 317.1"/>
<path stroke="#40ffbf" d="M1019.2 294.6L1034.3 302.6M1019.2 295.7L1034.4 303.7M1019.2 296.8L1034.4 304.8M1019.2 297.8L1034.4 305.8M1034.3 300.4L1049.5 309.8M1034.3 301.5L1049.5 310.8M1034.3 302.6L1049.5 311.9M1034.4 303.7L1049.5 313M1139.9 337.9L1155 360.4"/>
<path stroke="#50ffaf" d="M1019.1 290.2L1034.3 298.2M1019.1 291.3L1034.3 299.3M1019.1 292.4L1034.3 300.4M1019.2 293.5L1034.3 301.5M1034.3 295.9L1049.5 305.3M1034.3 297L1049.5 306.4M1034.3 298.2L1049.5 307.5M1034.3 299.3L1049.5 308.7"/>
<path stroke="#60ff9f" d="M1019.1 285.5L1034.3 293.5M1019.1 286.7L1034.3 294.7M1019.1 287.9L1034.3 295.9M1019.1 289L1034.3 297M1034.2 291.1L1049.4 300.6M1034.2 292.3L1049.4 301.8M1034.3 293.5L1049.4 303M1034.3 294.7L1049.4 304.1"/>
<path stroke="#70ff8f" d="M1019 281.8L1034.2 289.9M1019.1 283.1L1034.2 291.1M1019.1 284.3L1034.2 292.3M1034.2 287.4L1049.4 296.9M1034.2 288.6L1049.4 298.2M1034.2 289.9L1049.4 299.4"/>
<path stroke="#80ff80" d="M1019 276.7L1034.2 284.8M1019 278L1034.2 286.1M1019 279.3L1034.2 287.4M1019 280.6L1034.2 288.6M1034.1 282.2L1049.3 291.8M1034.2 283.5L1049.3 293.1M1034.2 284.8L1049.3 294.4M1034.2 286.1L1049.4 295.7"/>
<path stroke="#8fff70" d="M1019 272.8L1034.1 280.8M1019 274.1L1034.1 282.2M1019 275.4L1034.2 283.5M1034.1 278.1L1049.3 287.8M1034.1 279.5L1049.3 289.2M1034.1 280.8L1049.3 290.5"/>
<path stroke="#9fff60" d="M1018.9 268.6L1034.1 276.7M1018.9 270L1034.1 278.1M1018.9 271.4L1034.1 279.5M1034.1 273.9L1049.2 283.7M1034.1 275.3L1049.3 285.1M1034.1 276.7L1049.3 286.4"/>
<path stroke="#afff50" d="M1018.9 264.4L1034.1 272.4M1018.9 265.8L1034.1 273.9M1018.9 267.2L1034.1 275.3M1034 269.5L1049.2 279.4M1034 271L1049.2 280.8M1034.1 272.4L1049.2 282.2"/>
<path stroke="#bfff40" d="M1018.8 259.9L1034 268M1018.9 261.4L1034 269.5M1018.9 262.9L1034 271M1034 265L1049.2 274.9M1034 266.5L1049.2 276.4M1034 268L1049.2 277.9"/>
<path stroke="#cfff30" d="M1018.8 255.3L1034 263.4M1018.8 256.9L1034 265M1018.8 258.4L1034 266.5M1034 260.3L1049.1 270.3M1034 261.9L1049.1 271.8M1034 263.4L1049.2 273.4"/>
<path stroke="#dfff20" d="M1018.8 252.2L1034 260.3M1018.8 253.8L1034 261.9M1033.9 257L1049.1 267.1M1033.9 258.7L1049.1 268.7"/>
<path stroke="#efff10" d="M1018.7 247.3L1033.9 255.4M1018.8 248.9L1033.9 257M1018.8 250.6L1033.9 258.7M1033.9 252.1L1049.1 262.2M1033.9 253.7L1049.1 263.9M1033.9 255.4L1049.1 265.5"/>
<path stroke="#ffff00" d="M1018.7 242.2L1033.9 250.4M1018.7 243.9L1033.9 252.1M1018.7 245.6L1033.9 253.7M1033.9 248.6L1049 258.8M1033.9 250.4L1049 260.5"/>
<path stroke="#ffef00" d="M1018.7 238.7L1033.8 246.9M1018.7 240.5L1033.9 248.6M1033.8 245.1L1049 255.4M1033.8 246.9L1049 257.1"/>
<path stroke="#ffdf00" d="M1018.6 235.2L1033.8 243.3M1018.7 237L1033.8 245.1"/>
<path stroke="#ffcf00" d="M1018.6 229.7L1033.8 237.8M1018.6 231.5L1033.8 239.7M1018.6 233.4L1033.8 241.5"/>
<path stroke="#ffbf00" d="M1018.6 225.9L1033.7 234M1018.6 227.8L1033.8 235.9"/>
<path stroke="#ffaf00" d="M1018.5 222L1033.7 230.2M1018.5 223.9L1033.7 232.1"/>
<path stroke="#ff9f00" d="M1018.5 218L1033.7 226.2M1018.5 220L1033.7 228.2"/>
<path stroke="#ff8f00" d="M1018.5 213.9L1033.6 222.1M1018.5 216L1033.7 224.2"/>
<path stroke="#ff8000" d="M1018.5 211.9L1033.6 220.1"/>
</g>
<path stroke="url(#gb)" stroke-width="1.02" d="M1018.5 211.9L1020.4 383.4M1033.6 220.1L1035.5 391.2M1048.8 230.8L1050.7 399M1064 243.8L1065.9 406.8M1079.2 259.2L1081.1 414.6M1094.3 276.5L1096.2 422.5M1109.5 295.6L1111.4 430.4M1124.7 316.2L1126.6 438.4M1139.9 337.9L1141.8 446.3M1155 360.4L1156.9 454.3M1170.2 383.3L1172.1 462.3M1185.4 406.2L1187.3 470.4M1200.6 428.7L1202.5 478.5M1215.7 450.5L1217.6 486.6M1230.9 471L1232.8 494.7M1246.1 490.2L1248 502.9M1261.2 507.5L1263.2 511.2M1276.4 522.2L1278.3 519.6M1291.6 533.7L1293.5 528M1306.8 544.8L1308.7 536.7M1322 554.8L1323.9 546.5"/>
<path fill="#fff" d="M103.3 1027.4L118.5 1015.3L133.6 1003.6L148.8 992.8L164 983.4L179.2 975.8L194.4 970.3L209.5 967.2L224.7 966.9L239.9 969.3L255.1 974.8L270.2 983.3L285.4 994.7L300.6 1009L315.8 1026L330.9 1045.4L346.1 1066.9L361.3 1090.3L376.5 1114.9L391.6 1140.6L406.8 1166.6L408.7 1266.6L393.5 1260L378.4 1253.3L363.2 1246.7L348 1240.1L332.8 1233.5L317.7 1227L302.5 1220.4L287.3 1213.9L272.1 1207.4L257 1200.7L241.8 1194.1L226.6 1187.5L211.4 1180.9L196.3 1174.2L181.1 1167.6L165.9 1161L150.7 1154.4L135.6 1147.7L120.4 1141.1L105.2 1134.5Z"/>
<path fill="#0000ef" d="M104.3 1134.7L119.5 1139L120.4 1141.1L105.2 1134.5ZM119.6 1141.3L134.8 1145.7L135.6 1147.7L120.4 1141.1ZM134.8 1147.9L150 1152.7L150.7 1154.4L135.6 1147.7ZM150.1 1154.5L165.3 1159.6L165.9 1161L150.7 1154.4ZM165.4 1161.1L180.5 1166.5L181.1 1167.6L165.9 1161ZM180.6 1167.7L195.8 1173.4L196.3 1174.2L181.1 1167.6ZM195.9 1174.3L211.1 1180.3L211.4 1180.9L196.3 1174.2ZM211.2 1180.9L226.3 1187.2L226.6 1187.5L211.4 1180.9ZM226.4 1187.5L241.6 1194.2L241.8 1194.1L226.6 1187.5Z"/>
<path fill="#0000ff" d="M104.2 1132.4L119.4 1135L119.5 1139L104.3 1134.7ZM119.5 1139L134.7 1141.8L134.8 1145.7L119.6 1141.3ZM134.8 1145.7L149.9 1148.8L150 1152.7L134.8 1147.9ZM150 1152.2L165.2 1155.6L165.3 1159.6L150.1 1154.5ZM165.3 1159L180.4 1162.7L180.5 1166.5L165.4 1161.1ZM180.5 1165.5L195.7 1169.5L195.8 1173.4L180.6 1167.7ZM195.8 1172.1L210.9 1176.4L211.1 1180.3L195.9 1174.3ZM211 1178.7L226.2 1183.3L226.3 1187.2L211.2 1180.9ZM226.3 1185.4L241.4 1190.3L241.6 1194.2L226.4 1187.5ZM241.5 1191.9L256.7 1197.2L257 1200.7L241.8 1194.1ZM256.7 1198.6L271.9 1204.2L272.1 1207.4L257 1200.7ZM271.9 1205.3L287.1 1211.1L287.3 1213.9L272.1 1207.4ZM287.2 1212L302.3 1218L302.5 1220.4L287.3 1213.9ZM302.4 1218.8L317.5 1225L317.7 1227L302.5 1220.4ZM317.6 1225.6L332.7 1231.9L332.8 1233.5L317.7 1227ZM332.8 1232.4L347.9 1238.9L348 1240.1L332.8 1233.5ZM348 1239.3L363.1 1245.8L363.2 1246.7L348 1240.1ZM363.2 1246.1L378.3 1252.8L378.4 1253.3L363.2 1246.7ZM378.3 1253.1L393.5 1259.7L393.5 1260L378.4 1253.3Z"/>
<path fill="#0010ff" d="M104.2 1129L119.3 1130.9L119.4 1135L104.2 1132.4ZM119.4 1135.9L134.6 1138.2L134.7 1141.8L119.5 1139ZM134.7 1142.2L149.9 1144.8L149.9 1148.8L134.8 1145.7ZM149.9 1148.8L165.1 1151.7L165.2 1155.6L150 1152.2ZM165.2 1155.6L180.4 1158.8L180.4 1162.7L165.3 1159ZM180.4 1162.2L195.6 1165.6L195.7 1169.5L180.5 1165.5ZM195.7 1168.8L210.8 1172.6L210.9 1176.4L195.8 1172.1ZM210.9 1175.3L226.1 1179.4L226.2 1183.3L211 1178.7ZM226.1 1181.9L241.3 1186.3L241.4 1190.3L226.3 1185.4ZM241.4 1188.5L256.6 1193.2L256.7 1197.2L241.5 1191.9ZM256.6 1195.3L271.8 1200.3L271.9 1204.2L256.7 1198.6ZM271.8 1201.8L287 1207.2L287.1 1211.1L271.9 1205.3ZM287 1208.5L302.2 1214.2L302.3 1218L287.2 1212ZM302.2 1215.2L317.4 1221.1L317.5 1225L302.4 1218.8ZM317.4 1221.9L332.6 1228L332.7 1231.9L317.6 1225.6ZM332.6 1228.6L347.8 1234.9L347.9 1238.9L332.8 1232.4ZM347.8 1235.3L363 1241.9L363.1 1245.8L348 1239.3ZM363 1242.1L378.2 1248.9L378.3 1252.8L363.2 1246.1ZM378.2 1248.8L393.3 1255.8L393.5 1259.7L378.3 1253.1ZM393.3 1255.5L408.5 1262.8L408.7 1266.6L393.5 1260Z"/>
<path fill="#0020ff" d="M104.1 1125.8L119.3 1127.2L119.3 1130.9L104.2 1129ZM119.4 1132.5L134.6 1134.3L134.6 1138.2L119.4 1135.9ZM134.6 1138.7L149.8 1140.8L149.9 1144.8L134.7 1142.2ZM149.9 1145.3L165 1147.7L165.1 1151.7L149.9 1148.8ZM165.1 1152.1L180.3 1154.8L180.4 1158.8L165.2 1155.6ZM180.4 1158.8L195.5 1161.8L195.6 1165.6L180.4 1162.2ZM195.6 1165.3L210.8 1168.6L210.8 1172.6L195.7 1168.8ZM210.8 1171.8L226 1175.4L226.1 1179.4L210.9 1175.3ZM226.1 1178.4L241.2 1182.4L241.3 1186.3L226.1 1181.9ZM241.3 1185.1L256.5 1189.4L256.6 1193.2L241.4 1188.5ZM256.5 1191.6L271.7 1196.3L271.8 1200.3L256.6 1195.3ZM271.7 1198.2L286.9 1203.3L287 1207.2L271.8 1201.8ZM286.9 1204.9L302.1 1210.2L302.2 1214.2L287 1208.5ZM302.1 1211.4L317.3 1217.1L317.4 1221.1L302.2 1215.2ZM317.3 1218L332.5 1224.1L332.6 1228L317.4 1221.9ZM332.5 1224.7L347.7 1231.1L347.8 1234.9L332.6 1228.6ZM347.7 1231.2L362.9 1237.9L363 1241.9L347.8 1235.3ZM362.9 1237.8L378 1244.9L378.2 1248.9L363 1242.1ZM378 1244.4L393.2 1251.9L393.3 1255.8L378.2 1248.8ZM393.2 1250.8L408.4 1258.8L408.5 1262.8L393.3 1255.5Z"/>
<path fill="#0030ff" d="M104.1 1122.1L119.2 1122.8L119.3 1127.2L104.1 1125.8ZM119.3 1129.1L134.5 1130.4L134.6 1134.3L119.4 1132.5ZM134.6 1135.5L149.7 1137.1L149.8 1140.8L134.6 1138.7ZM149.8 1141.9L165 1143.8L165 1147.7L149.9 1145.3ZM165.1 1148.6L180.2 1150.9L180.3 1154.8L165.1 1152.1ZM180.3 1155.3L195.5 1157.9L195.5 1161.8L180.4 1158.8ZM195.5 1161.8L210.7 1164.8L210.8 1168.6L195.6 1165.3ZM210.8 1168.3L225.9 1171.6L226 1175.4L210.8 1171.8ZM226 1174.7L241.2 1178.4L241.2 1182.4L226.1 1178.4ZM241.2 1181.6L256.4 1185.6L256.5 1189.4L241.3 1185.1ZM256.4 1187.9L271.6 1192.3L271.7 1196.3L256.5 1191.6ZM271.7 1194.6L286.8 1199.4L286.9 1203.3L271.7 1198.2ZM286.9 1201.1L302 1206.3L302.1 1210.2L286.9 1204.9ZM302.1 1207.7L317.2 1213.3L317.3 1217.1L302.1 1211.4ZM317.3 1214.2L332.4 1220.2L332.5 1224.1L317.3 1218ZM332.4 1220.6L347.6 1227.1L347.7 1231.1L332.5 1224.7ZM347.6 1227.1L362.8 1234L362.9 1237.9L347.7 1231.2ZM362.8 1233.6L378 1241L378 1244.9L362.9 1237.8ZM377.9 1239.9L393.1 1247.9L393.2 1251.9L378 1244.4ZM393.1 1246.1L408.2 1254.9L408.4 1258.8L393.2 1250.8Z"/>
<path fill="#0040ff" d="M104 1119.3L119.2 1119.5L119.2 1122.8L104.1 1122.1ZM119.3 1125.1L134.4 1125.8L134.5 1130.4L119.3 1129.1ZM134.5 1131.8L149.7 1132.9L149.7 1137.1L134.6 1135.5ZM149.8 1138.4L164.9 1139.9L165 1143.8L149.8 1141.9ZM165 1145L180.2 1146.9L180.2 1150.9L165.1 1148.6ZM180.2 1151.5L195.4 1153.7L195.5 1157.9L180.3 1155.3ZM195.5 1158.4L210.7 1161L210.7 1164.8L195.5 1161.8ZM210.7 1164.8L225.9 1167.7L225.9 1171.6L210.8 1168.3ZM225.9 1171.2L241.1 1174.5L241.2 1178.4L226 1174.7ZM241.2 1177.6L256.3 1181.4L256.4 1185.6L241.2 1181.6ZM256.4 1184.3L271.6 1188.4L271.6 1192.3L256.4 1187.9ZM271.6 1190.8L286.8 1195.3L286.8 1199.4L271.7 1194.6ZM286.8 1197.2L302 1202.3L302 1206.3L286.9 1201.1ZM302 1203.7L317.2 1209.3L317.2 1213.3L302.1 1207.7ZM317.2 1210.1L332.4 1216.2L332.4 1220.2L317.3 1214.2ZM332.4 1216.7L347.5 1223.3L347.6 1227.1L332.4 1220.6ZM347.5 1223L362.7 1230.1L362.8 1234L347.6 1227.1ZM362.7 1229.4L377.9 1237.2L378 1241L362.8 1233.6ZM377.8 1235.5L393 1244L393.1 1247.9L377.9 1239.9ZM393 1241.6L408.1 1251.1L408.2 1254.9L393.1 1246.1Z"/>
<path fill="#0050ff" d="M104 1115.2L119.1 1114.9L119.2 1119.5L104 1119.3ZM119.2 1122.1L134.4 1122.3L134.4 1125.8L119.3 1125.1ZM134.5 1128.2L149.6 1128.9L149.7 1132.9L134.5 1131.8ZM149.7 1135.1L164.9 1136.3L164.9 1139.9L149.8 1138.4ZM165 1141.3L180.1 1142.8L180.2 1146.9L165 1145ZM180.2 1148.1L195.4 1150L195.4 1153.7L180.2 1151.5ZM195.4 1154.8L210.6 1157.1L210.7 1161L195.5 1158.4ZM210.7 1161L225.8 1163.6L225.9 1167.7L210.7 1164.8ZM225.9 1167.7L241.1 1170.8L241.1 1174.5L225.9 1171.2ZM241.1 1174L256.3 1177.5L256.3 1181.4L241.2 1177.6ZM256.3 1180.6L271.5 1184.5L271.6 1188.4L256.4 1184.3ZM271.5 1186.9L286.7 1191.4L286.8 1195.3L271.6 1190.8ZM286.7 1193.3L301.9 1198.2L302 1202.3L286.8 1197.2ZM301.9 1200L317.1 1205.5L317.2 1209.3L302 1203.7ZM317.1 1206.2L332.3 1212.3L332.4 1216.2L317.2 1210.1ZM332.3 1212.6L347.5 1219.3L347.5 1223.3L332.4 1216.7ZM347.5 1218.7L362.6 1226.1L362.7 1230.1L347.5 1223ZM362.6 1224.9L377.8 1233L377.9 1237.2L362.7 1229.4ZM377.8 1230.9L392.9 1240L393 1244L377.8 1235.5ZM392.9 1236.7L408 1247L408.1 1251.1L393 1241.6Z"/>
<path fill="#0060ff" d="M119.2 1118.7L134.4 1118.5L134.4 1122.3L119.2 1122.1ZM134.4 1125L149.6 1125.3L149.6 1128.9L134.5 1128.2ZM149.7 1131.4L164.8 1132.1L164.9 1136.3L149.7 1135.1ZM164.9 1137.8L180.1 1139L180.1 1142.8L165 1141.3ZM180.1 1144.2L195.3 1145.8L195.4 1150L180.2 1148.1ZM195.4 1150.7L210.6 1152.6L210.6 1157.1L195.4 1154.8ZM210.6 1157.7L225.8 1160.1L225.8 1163.6L210.7 1161ZM225.8 1164.2L241 1167L241.1 1170.8L225.9 1167.7ZM241.1 1170.3L256.2 1173.5L256.3 1177.5L241.1 1174ZM256.3 1177.1L271.4 1180.8L271.5 1184.5L256.3 1180.6ZM271.5 1183.2L286.7 1187.5L286.7 1191.4L271.5 1186.9ZM286.7 1189.7L301.9 1194.6L301.9 1198.2L286.7 1193.3ZM301.9 1195.9L317.1 1201.4L317.1 1205.5L301.9 1200ZM317.1 1202.2L332.2 1208.4L332.3 1212.3L317.1 1206.2ZM332.2 1208.4L347.4 1215.2L347.5 1219.3L332.3 1212.6ZM347.4 1214.5L362.6 1222.2L362.6 1226.1L347.5 1218.7ZM362.6 1220.7L377.7 1229.3L377.8 1233L362.6 1224.9ZM377.7 1226.8L392.9 1236.4L392.9 1240L377.8 1230.9ZM392.8 1232.1L408 1243.1L408 1247L392.9 1236.7Z"/>
<path fill="#0070ff" d="M134.4 1123.2L149.6 1123.4L149.6 1125.3L134.4 1125ZM149.6 1128L164.8 1128.4L164.8 1132.1L149.7 1131.4ZM164.9 1134.7L180 1135.6L180.1 1139L164.9 1137.8ZM180.1 1140.6L195.3 1141.8L195.3 1145.8L180.1 1144.2ZM195.3 1147.3L210.5 1148.9L210.6 1152.6L195.4 1150.7ZM210.6 1154L225.7 1156.1L225.8 1160.1L210.6 1157.7ZM225.8 1160.1L241 1162.7L241 1167L225.8 1164.2ZM241 1166.4L256.2 1169.5L256.2 1173.5L241.1 1170.3ZM256.2 1173L271.4 1176.6L271.4 1180.8L256.3 1177.1ZM271.4 1179.3L286.6 1183.5L286.7 1187.5L271.5 1183.2ZM286.6 1185.6L301.8 1190.4L301.9 1194.6L286.7 1189.7ZM301.8 1191.9L317 1197.4L317.1 1201.4L301.9 1195.9ZM317 1198.4L332.2 1204.6L332.2 1208.4L317.1 1202.2ZM332.2 1204.2L347.4 1211.3L347.4 1215.2L332.2 1208.4ZM347.3 1210.4L362.5 1218.3L362.6 1222.2L347.4 1214.5ZM362.5 1216.2L377.7 1225.2L377.7 1229.3L362.6 1220.7ZM377.6 1222.3L392.8 1232.5L392.9 1236.4L377.7 1226.8ZM392.7 1227.5L407.9 1239.2L408 1243.1L392.8 1232.1Z"/>
<path fill="#0080ff" d="M149.6 1127.1L164.8 1127.5L164.8 1128.4L149.6 1128ZM164.8 1130.3L180 1130.8L180 1135.6L164.9 1134.7ZM180.1 1137.3L195.2 1138.3L195.3 1141.8L180.1 1140.6ZM195.3 1143.5L210.5 1144.9L210.5 1148.9L195.3 1147.3ZM210.5 1149.7L225.7 1151.6L225.7 1156.1L210.6 1154ZM225.8 1156.8L240.9 1159.2L241 1162.7L225.8 1160.1ZM241 1162.7L256.1 1165.6L256.2 1169.5L241 1166.4ZM256.2 1169.5L271.4 1173L271.4 1176.6L256.2 1173ZM271.4 1175.5L286.6 1179.6L286.6 1183.5L271.4 1179.3ZM286.6 1181.9L301.8 1186.7L301.8 1190.4L286.6 1185.6ZM301.8 1187.8L316.9 1193.4L317 1197.4L301.8 1191.9ZM317 1193.9L332.1 1200.3L332.2 1204.6L317 1198.4ZM332.1 1200.3L347.3 1207.6L347.4 1211.3L332.2 1204.2ZM347.3 1206.1L362.5 1214.4L362.5 1218.3L347.3 1210.4ZM362.4 1212L377.6 1221.4L377.7 1225.2L362.5 1216.2ZM377.5 1217.6L392.7 1228.4L392.8 1232.5L377.6 1222.3ZM392.6 1222.7L407.8 1235.2L407.9 1239.2L392.7 1227.5Z"/>
<path fill="#008fff" d="M180 1133.7L195.2 1134.5L195.2 1138.3L180.1 1137.3ZM195.3 1140.1L210.4 1141.3L210.5 1144.9L195.3 1143.5ZM210.5 1146.6L225.7 1148.3L225.7 1151.6L210.5 1149.7ZM225.7 1152.4L240.9 1154.6L240.9 1159.2L225.8 1156.8ZM240.9 1159.2L256.1 1162L256.1 1165.6L241 1162.7ZM256.1 1165.6L271.3 1169L271.4 1173L256.2 1169.5ZM271.3 1171.7L286.5 1175.8L286.6 1179.6L271.4 1175.5ZM286.5 1177.8L301.7 1182.6L301.8 1186.7L286.6 1181.9ZM301.7 1183.8L316.9 1189.5L316.9 1193.4L301.8 1187.8ZM316.9 1190L332.1 1196.6L332.1 1200.3L317 1193.9ZM332.1 1196L347.3 1203.5L347.3 1207.6L332.1 1200.3ZM347.2 1201.8L362.4 1210.4L362.5 1214.4L347.3 1206.1ZM362.4 1207.7L377.5 1217.6L377.6 1221.4L362.4 1212ZM377.5 1212.8L392.7 1224.2L392.7 1228.4L377.5 1217.6ZM392.6 1218.3L407.7 1231.6L407.8 1235.2L392.6 1222.7Z"/>
<path fill="#009fff" d="M195.2 1137.4L210.4 1138.4L210.4 1141.3L195.3 1140.1ZM210.4 1142.2L225.6 1143.7L225.7 1148.3L210.5 1146.6ZM225.7 1149.1L240.8 1151.2L240.9 1154.6L225.7 1152.4ZM240.9 1155.4L256.1 1158.1L256.1 1162L240.9 1159.2ZM256.1 1161.2L271.3 1164.6L271.3 1169L256.1 1165.6ZM271.3 1167.6L286.5 1171.6L286.5 1175.8L271.3 1171.7ZM286.5 1173.8L301.7 1178.6L301.7 1182.6L286.5 1177.8ZM301.7 1180L316.9 1185.7L316.9 1189.5L301.7 1183.8ZM316.9 1185.7L332 1192.4L332.1 1196.6L316.9 1190ZM332 1191.7L347.2 1199.5L347.3 1203.5L332.1 1196ZM347.2 1197.6L362.4 1206.6L362.4 1210.4L347.2 1201.8ZM362.3 1203L377.5 1213.3L377.5 1217.6L362.4 1207.7ZM377.4 1208.6L392.6 1220.5L392.7 1224.2L377.5 1212.8ZM392.5 1213.4L407.7 1227.5L407.7 1231.6L392.6 1218.3Z"/>
<path fill="#00afff" d="M210.4 1140.3L225.6 1141.7L225.6 1143.7L210.4 1142.2ZM225.6 1145.6L240.8 1147.5L240.8 1151.2L225.7 1149.1ZM240.8 1151.2L256 1153.7L256.1 1158.1L240.9 1155.4ZM256.1 1158.1L271.2 1161.3L271.3 1164.6L256.1 1161.2ZM271.3 1163.8L286.4 1167.8L286.5 1171.6L271.3 1167.6ZM286.5 1170.1L301.6 1175L301.7 1178.6L286.5 1173.8ZM301.6 1175.7L316.8 1181.6L316.9 1185.7L301.7 1180ZM316.8 1181.6L332 1188.4L332 1192.4L316.9 1185.7ZM332 1187.7L347.2 1195.7L347.2 1199.5L332 1191.7ZM347.1 1193L362.3 1202.3L362.4 1206.6L347.2 1197.6ZM362.3 1199L377.4 1209.8L377.5 1213.3L362.3 1203ZM377.4 1203.9L392.5 1216.5L392.6 1220.5L377.4 1208.6ZM392.4 1208.7L407.6 1223.6L407.7 1227.5L392.5 1213.4Z"/>
<path fill="#00bfff" d="M225.6 1143.7L240.8 1145.5L240.8 1147.5L225.6 1145.6ZM240.8 1147.5L256 1149.9L256 1153.7L240.8 1151.2ZM256 1153.7L271.2 1156.9L271.2 1161.3L256.1 1158.1ZM271.2 1159.6L286.4 1163.6L286.4 1167.8L271.3 1163.8ZM286.4 1166.2L301.6 1171.1L301.6 1175L286.5 1170.1ZM301.6 1171.9L316.8 1177.8L316.8 1181.6L301.6 1175.7ZM316.8 1177.8L332 1184.8L332 1188.4L316.8 1181.6ZM331.9 1183.3L347.1 1191.6L347.2 1195.7L332 1187.7ZM347.1 1188.6L362.3 1198.3L362.3 1202.3L347.1 1193ZM362.2 1194L377.4 1205.3L377.4 1209.8L362.3 1199ZM377.3 1199.6L392.5 1212.8L392.5 1216.5L377.4 1203.9ZM392.4 1204.3L407.5 1219.9L407.6 1223.6L392.4 1208.7Z"/>
<path fill="#00cfff" d="M240.8 1146.5L256 1148.9L256 1149.9L240.8 1147.5ZM256 1149.9L271.2 1153.1L271.2 1156.9L256 1153.7ZM271.2 1156L286.4 1160L286.4 1163.6L271.2 1159.6ZM286.4 1161.8L301.6 1166.8L301.6 1171.1L286.4 1166.2ZM301.6 1167.7L316.7 1173.7L316.8 1177.8L301.6 1171.9ZM316.7 1173.7L331.9 1180.9L332 1184.8L316.8 1177.8ZM331.9 1179.3L347.1 1187.9L347.1 1191.6L331.9 1183.3ZM347 1184.7L362.2 1194.7L362.3 1198.3L347.1 1188.6ZM362.2 1190L377.3 1201.8L377.4 1205.3L362.2 1194ZM377.2 1194.9L392.4 1208.7L392.5 1212.8L377.3 1199.6ZM392.3 1199.6L407.5 1215.9L407.5 1219.9L392.4 1204.3Z"/>
<path fill="#00dfff" d="M271.2 1153.1L286.3 1157.1L286.4 1160L271.2 1156ZM286.3 1158.1L301.5 1163.1L301.6 1166.8L286.4 1161.8ZM301.5 1164.1L316.7 1170.2L316.7 1173.7L301.6 1167.7ZM316.7 1169.3L331.9 1176.8L331.9 1180.9L316.7 1173.7ZM331.9 1175L347 1183.8L347.1 1187.9L331.9 1179.3ZM347 1180.4L362.2 1190.9L362.2 1194.7L347 1184.7ZM362.1 1185.8L377.3 1198.1L377.3 1201.8L362.2 1190ZM377.2 1190.7L392.4 1205.1L392.4 1208.7L377.2 1194.9ZM392.2 1194.4L407.4 1211.6L407.5 1215.9L392.3 1199.6Z"/>
<path fill="#00efff" d="M286.3 1156.1L301.5 1161.2L301.5 1163.1L286.3 1158.1ZM301.5 1160.2L316.7 1166.5L316.7 1170.2L301.5 1164.1ZM316.7 1165.5L331.8 1173.2L331.9 1176.8L316.7 1169.3ZM331.8 1170.3L347 1179.5L347 1183.8L331.9 1175ZM346.9 1175.8L362.1 1186.7L362.2 1190.9L347 1180.4ZM362.1 1181.3L377.2 1194.1L377.3 1198.1L362.1 1185.8ZM377.1 1185.2L392.3 1200.4L392.4 1205.1L377.2 1190.7ZM392.2 1189.7L407.3 1207.7L407.4 1211.6L392.2 1194.4Z"/>
<path fill="#00ffff" d="M316.7 1164.5L331.8 1172.2L331.8 1173.2L316.7 1165.5ZM331.8 1168.4L347 1177.7L347 1179.5L331.8 1170.3ZM346.9 1172.9L362.1 1184.1L362.1 1186.7L346.9 1175.8ZM362 1177.4L377.2 1190.7L377.2 1194.1L362.1 1181.3ZM377.1 1181.3L392.3 1197L392.3 1200.4L377.1 1185.2ZM392.1 1184.8L407.3 1203.5L407.3 1207.7L392.2 1189.7Z"/>
<path fill="#10ffef" d="M377 1176.1L392.2 1192.6L392.3 1197L377.1 1181.3ZM392.1 1180.5L407.2 1200L407.3 1203.5L392.1 1184.8Z"/>
<path fill="#20ffdf" d="M377 1172.8L392.2 1189.7L392.2 1192.6L377 1176.1ZM392 1176.1L407.2 1196.3L407.2 1200L392.1 1180.5Z"/>
<path fill="#30ffcf" d="M392 1171.4L407.1 1192.4L407.2 1196.3L392 1176.1Z"/>
<path fill="#40ffbf" d="M391.9 1166.4L407.1 1188.2L407.1 1192.4L392 1171.4Z"/>
<path fill="#50ffaf" d="M391.8 1161.2L407 1183.9L407.1 1188.2L391.9 1166.4Z"/>
<path fill="#60ff9f" d="M391.8 1157.1L407 1180.4L407 1183.9L391.8 1161.2Z"/>
<path fill="#70ff8f" d="M391.8 1152.8L406.9 1176.9L407 1180.4L391.8 1157.1Z"/>
<path fill="#80ff80" d="M391.7 1146.9L406.9 1171.9L406.9 1176.9L391.8 1152.8Z"/>
<path fill="#8fff70" d="M391.6 1142.2L406.8 1168L406.9 1171.9L391.7 1146.9Z"/>
<path fill="#9fff60" d="M391.6 1140.6L406.8 1166.6L406.8 1168L391.6 1142.2Z"/>
<g stroke-width="0.72">
<path stroke="#40ffbf" d="M361.9 1160.8L377 1176.1M361.9 1162L377 1177.1"/>
<path stroke="#8fff70" d="M346.6 1133.8L361.8 1149"/>
<path stroke="#efff10" d="M331.3 1103.6L346.5 1118.7"/>
<path stroke="#ff2000" d="M300.7 1029.5L315.8 1044.6"/>
</g>
<g stroke-width="0.78">
<path stroke="#00ffff" d="M362 1176.4L377.2 1189.8M362 1177.4L377.2 1190.7"/>
<path stroke="#10ffef" d="M362 1172.3L377.1 1186.1M362 1173.3L377.2 1187.1M362 1174.4L377.2 1188M362 1175.4L377.2 1188.9"/>
<path stroke="#20ffdf" d="M361.9 1167.9L377.1 1182.3M361.9 1169L377.1 1183.3M361.9 1170.1L377.1 1184.2M362 1171.2L377.1 1185.2M377 1171.6L392.2 1188.8M377 1172.8L392.2 1189.7"/>
<path stroke="#30ffcf" d="M361.9 1163.3L377.1 1178.2M361.9 1164.4L377.1 1179.2M361.9 1165.6L377.1 1180.3M361.9 1166.8L377.1 1181.3M376.9 1167L392.1 1184.8M376.9 1168.2L392.1 1185.8M377 1169.3L392.1 1186.8M377 1170.5L392.1 1187.8"/>
<path stroke="#40ffbf" d="M346.7 1153.7L361.9 1166.8M346.8 1155L361.9 1167.9M346.8 1156.2L361.9 1169M346.8 1157.4L361.9 1170.1M361.8 1158.3L377 1173.9M361.8 1159.6L377 1175M376.9 1164.5L392.1 1182.7M376.9 1165.8L392.1 1183.7"/>
<path stroke="#50ffaf" d="M346.7 1149.8L361.9 1163.3M346.7 1151.1L361.9 1164.4M346.7 1152.4L361.9 1165.6M361.8 1154.5L377 1170.5M361.8 1155.8L377 1171.6M361.8 1157.1L377 1172.8"/>
<path stroke="#60ff9f" d="M346.7 1145.7L361.8 1159.6M346.7 1147.1L361.9 1160.8M346.7 1148.4L361.9 1162M361.8 1149L376.9 1165.8M361.8 1150.4L376.9 1167M361.8 1151.8L376.9 1168.2M361.8 1153.1L377 1169.3"/>
<path stroke="#70ff8f" d="M346.6 1141.4L361.8 1155.8M346.6 1142.8L361.8 1157.1M346.7 1144.3L361.8 1158.3M361.7 1144.7L376.9 1162M361.7 1146.2L376.9 1163.3M361.7 1147.6L376.9 1164.5"/>
<path stroke="#80ff80" d="M346.6 1136.9L361.8 1151.8M346.6 1138.4L361.8 1153.1M346.6 1139.9L361.8 1154.5M361.7 1140.3L376.8 1158.1M361.7 1141.8L376.9 1159.4M361.7 1143.3L376.9 1160.7"/>
<path stroke="#8fff70" d="M331.4 1127.1L346.6 1139.9M331.5 1128.7L346.6 1141.4M346.6 1132.2L361.7 1147.6M346.6 1135.4L361.8 1150.4M361.7 1138.7L376.8 1156.8"/>
<path stroke="#9fff60" d="M331.4 1123.8L346.6 1136.9M331.4 1125.5L346.6 1138.4M346.5 1127.4L361.7 1143.3M346.5 1129L361.7 1144.7M346.5 1130.6L361.7 1146.2"/>
<path stroke="#afff50" d="M331.4 1118.6L346.6 1132.2M331.4 1120.4L346.6 1133.8M331.4 1122.1L346.6 1135.4M346.5 1124L361.7 1140.3M346.5 1125.7L361.7 1141.8"/>
<path stroke="#bfff40" d="M331.4 1115L346.5 1129M331.4 1116.8L346.5 1130.6M346.5 1118.7L361.6 1135.6M346.5 1120.5L361.6 1137.2M346.5 1122.2L361.7 1138.7"/>
<path stroke="#cfff30" d="M331.3 1109.4L346.5 1124M331.3 1111.3L346.5 1125.7M331.3 1113.2L346.5 1127.4M346.4 1115.1L361.6 1132.4M346.4 1116.9L361.6 1134"/>
<path stroke="#dfff20" d="M331.3 1105.6L346.5 1120.5M331.3 1107.5L346.5 1122.2M346.4 1109.4L361.6 1127.4M346.4 1111.3L361.6 1129.1M346.4 1113.2L361.6 1130.8"/>
<path stroke="#efff10" d="M331.3 1101.6L346.4 1116.9"/>
<path stroke="#ffff00" d="M316.1 1092.7L331.3 1105.6M316.1 1094.8L331.3 1107.5M331.2 1097.5L346.4 1113.2M331.3 1099.5L346.4 1115.1"/>
<path stroke="#ffef00" d="M316.1 1088.3L331.3 1101.6M316.1 1090.5L331.3 1103.6M331.2 1093.2L346.4 1109.4M331.2 1095.3L346.4 1111.3"/>
<path stroke="#ffdf00" d="M316.1 1083.8L331.2 1097.5M316.1 1086L331.3 1099.5M331.2 1088.8L346.4 1105.5M331.2 1091L346.4 1107.4"/>
<path stroke="#ffcf00" d="M316 1079.1L331.2 1093.2M316.1 1081.4L331.2 1095.3M331.2 1084.3L346.3 1101.4M331.2 1086.6L346.3 1103.5"/>
<path stroke="#ffbf00" d="M316 1076.7L331.2 1091M331.1 1079.6L346.3 1097.3M331.1 1082L346.3 1099.3"/>
<path stroke="#ffaf00" d="M316 1071.8L331.2 1086.6M316 1074.2L331.2 1088.8M331.1 1074.8L346.3 1093M331.1 1077.2L346.3 1095.1"/>
<path stroke="#ff9f00" d="M316 1066.7L331.1 1082M316 1069.2L331.2 1084.3"/>
<path stroke="#ff8f00" d="M315.9 1061.4L331.1 1077.2M316 1064.1L331.1 1079.6"/>
<path stroke="#ff8000" d="M300.8 1053.7L316 1066.7M300.8 1056.5L316 1069.2M315.9 1058.7L331.1 1074.8"/>
<path stroke="#ff7000" d="M300.8 1050.9L316 1064.1M315.9 1053.2L331.1 1069.8M315.9 1056L331.1 1072.3"/>
<path stroke="#ff6000" d="M300.7 1045L315.9 1058.7M300.8 1048L315.9 1061.4M315.9 1050.4L331.1 1067.3"/>
<path stroke="#ff5000" d="M300.7 1042L315.9 1056M315.8 1044.6L331 1062.1M315.9 1047.5L331 1064.7"/>
<path stroke="#ff4000" d="M300.7 1035.9L315.9 1050.4M300.7 1039L315.9 1053.2M315.8 1041.6L331 1059.4"/>
<path stroke="#ff3000" d="M300.7 1032.7L315.9 1047.5M315.8 1038.6L331 1056.7"/>
<path stroke="#ff1000" d="M300.6 1022.9L315.8 1038.6M300.7 1026.2L315.8 1041.6"/>
<path stroke="#ff0000" d="M300.6 1019.5L315.8 1035.5"/>
<path stroke="#ef0000" d="M285.5 1013.5L300.7 1026.2M300.6 1016.1L315.8 1032.4"/>
<path stroke="#df0000" d="M285.5 1009.8L300.6 1022.9M300.6 1012.6L315.8 1029.2"/>
<path stroke="#cf0000" d="M285.4 1002.4L300.6 1016.1M285.4 1006.2L300.6 1019.5M300.6 1009L315.8 1026"/>
<path stroke="#bf0000" d="M285.4 998.6L300.6 1012.6"/>
<path stroke="#af0000" d="M285.4 994.7L300.6 1009"/>
</g>
<g stroke-width="0.84">
<path stroke="#00ffff" d="M346.9 1171.9L362.1 1183.1M346.9 1172.9L362.1 1184.1"/>
<path stroke="#10ffef" d="M346.9 1167.7L362 1179.4M346.9 1168.8L362.1 1180.4M346.9 1169.9L362.1 1181.3M346.9 1170.9L362.1 1182.2"/>
<path stroke="#20ffdf" d="M346.8 1163.3L362 1175.4M346.8 1164.5L362 1176.4M346.8 1165.6L362 1177.4M346.9 1166.7L362 1178.4"/>
<path stroke="#30ffcf" d="M331.7 1154L346.8 1164.5M331.7 1155.2L346.8 1165.6M346.8 1158.7L362 1171.2M346.8 1159.9L362 1172.3M346.8 1161L362 1173.3M346.8 1162.2L362 1174.4"/>
<path stroke="#40ffbf" d="M331.6 1149L346.8 1159.9M331.6 1150.3L346.8 1161M331.6 1151.5L346.8 1162.2M331.7 1152.8L346.8 1163.3M376.9 1163.3L392.1 1181.6"/>
<path stroke="#50ffaf" d="M331.6 1145L346.8 1156.2M331.6 1146.3L346.8 1157.4M331.6 1147.7L346.8 1158.7M376.8 1158.1L392 1177.2M376.9 1159.4L392 1178.3M376.9 1160.7L392 1179.4M376.9 1162L392.1 1180.5"/>
<path stroke="#60ff9f" d="M331.6 1140.8L346.7 1152.4M331.6 1142.2L346.7 1153.7M331.6 1143.6L346.8 1155M376.8 1154.1L392 1173.8M376.8 1155.5L392 1174.9M376.8 1156.8L392 1176.1"/>
<path stroke="#70ff8f" d="M331.5 1136.5L346.7 1148.4M331.5 1137.9L346.7 1149.8M331.5 1139.4L346.7 1151.1M376.8 1148.4L391.9 1168.9M376.8 1149.9L391.9 1170.2M376.8 1151.3L392 1171.4M376.8 1152.7L392 1172.6"/>
<path stroke="#80ff80" d="M331.5 1131.9L346.7 1144.3M331.5 1133.4L346.7 1145.7M331.5 1135L346.7 1147.1M376.7 1144L391.9 1165.1M376.7 1145.5L391.9 1166.4M376.7 1146.9L391.9 1167.7"/>
<path stroke="#8fff70" d="M316.3 1123L331.5 1133.4M316.3 1124.7L331.5 1135M331.5 1130.3L346.6 1142.8M361.6 1135.6L376.8 1154.1M361.6 1137.2L376.8 1155.5M376.7 1139.3L391.8 1161.2M376.7 1140.9L391.9 1162.5M376.7 1142.4L391.9 1163.8"/>
<path stroke="#9fff60" d="M316.3 1119.6L331.5 1130.3M316.3 1121.3L331.5 1131.9M361.6 1130.8L376.8 1149.9M361.6 1132.4L376.8 1151.3M361.6 1134L376.8 1152.7M376.6 1136.1L391.8 1158.5M376.7 1137.7L391.8 1159.8"/>
<path stroke="#afff50" d="M103.4 1039.8L118.5 1029.2M316.3 1114.4L331.4 1125.5M316.3 1116.2L331.4 1127.1M316.3 1117.9L331.5 1128.7M361.6 1127.4L376.7 1146.9M361.6 1129.1L376.8 1148.4"/>
<path stroke="#bfff40" d="M103.3 1036.8L118.5 1025.8M316.2 1110.7L331.4 1122.1M316.2 1112.5L331.4 1123.8M361.5 1122.2L376.7 1142.4M361.5 1123.9L376.7 1144M361.6 1125.7L376.7 1145.5"/>
<path stroke="#cfff30" d="M103.3 1033.8L118.5 1022.4M316.2 1106.9L331.4 1118.6M316.2 1108.8L331.4 1120.4M361.5 1118.6L376.7 1139.3M361.5 1120.4L376.7 1140.9"/>
<path stroke="#dfff20" d="M103.3 1030.7L118.5 1018.9M316.2 1101L331.3 1113.2M316.2 1103L331.4 1115M316.2 1105L331.4 1116.8M361.4 1113L376.6 1134.5M361.5 1114.9L376.6 1136.1M361.5 1116.7L376.7 1137.7"/>
<path stroke="#efff10" d="M103.3 1027.4L118.5 1015.3M316.1 1096.9L331.3 1109.4M316.2 1099L331.3 1111.3M346.4 1105.5L361.5 1123.9M346.4 1107.4L361.6 1125.7M361.4 1109.1L376.6 1131.1M361.4 1111L376.6 1132.8"/>
<path stroke="#ffff00" d="M118.5 1025.8L133.7 1015.2M301 1088.7L316.2 1099M346.3 1101.4L361.5 1120.4M346.3 1103.5L361.5 1122.2M361.4 1107.1L376.6 1129.4"/>
<path stroke="#ffef00" d="M118.5 1022.4L133.7 1011.4M301 1084.2L316.1 1094.8M301 1086.5L316.1 1096.9M346.3 1097.3L361.5 1116.7M346.3 1099.3L361.5 1118.6"/>
<path stroke="#ffdf00" d="M118.5 1018.9L133.7 1007.6M300.9 1079.5L316.1 1090.5M300.9 1081.9L316.1 1092.7M346.3 1090.8L361.4 1111M346.3 1093L361.4 1113M346.3 1095.1L361.5 1114.9"/>
<path stroke="#ffcf00" d="M118.5 1015.3L133.6 1003.6M300.9 1077.1L316.1 1088.3M346.2 1086.3L361.4 1107.1M346.2 1088.5L361.4 1109.1"/>
<path stroke="#ffbf00" d="M300.9 1072.2L316.1 1083.8M300.9 1074.7L316.1 1086M346.2 1081.7L361.4 1103.1M346.2 1084L361.4 1105.1"/>
<path stroke="#ffaf00" d="M300.9 1067.2L316 1079.1M300.9 1069.7L316.1 1081.4M346.2 1079.3L361.4 1101"/>
<path stroke="#ff9f00" d="M300.8 1061.9L316 1074.2M300.9 1064.6L316 1076.7M331.1 1069.8L346.2 1088.5M331.1 1072.3L346.3 1090.8M346.1 1074.5L361.3 1096.8M346.2 1076.9L361.3 1098.9"/>
<path stroke="#ff8f00" d="M133.7 1007.6L148.8 997.1M300.8 1059.2L316 1071.8M331.1 1067.3L346.2 1086.3"/>
<path stroke="#ff8000" d="M133.6 1003.6L148.8 992.8M331 1062.1L346.2 1081.7M331 1064.7L346.2 1084"/>
<path stroke="#ff7000" d="M285.6 1046.1L300.8 1056.5M331 1056.7L346.2 1076.9M331 1059.4L346.2 1079.3"/>
<path stroke="#ff6000" d="M285.6 1043.1L300.8 1053.7M331 1053.9L346.1 1074.5"/>
<path stroke="#ff5000" d="M285.6 1036.9L300.8 1048M285.6 1040.1L300.8 1050.9M330.9 1048.3L346.1 1069.5M331 1051.1L346.1 1072"/>
<path stroke="#ff4000" d="M285.6 1033.8L300.7 1045M330.9 1045.4L346.1 1066.9"/>
<path stroke="#ff3000" d="M285.6 1030.5L300.7 1042M315.8 1035.5L331 1053.9"/>
<path stroke="#ff2000" d="M285.5 1023.9L300.7 1035.9M285.5 1027.3L300.7 1039M315.8 1032.4L331 1051.1"/>
<path stroke="#ff1000" d="M285.5 1020.5L300.7 1032.7M315.8 1029.2L330.9 1048.3"/>
<path stroke="#ff0000" d="M285.5 1017L300.7 1029.5M315.8 1026L330.9 1045.4"/>
<path stroke="#cf0000" d="M270.3 999.5L285.5 1009.8"/>
<path stroke="#bf0000" d="M270.3 995.6L285.4 1006.2"/>
<path stroke="#af0000" d="M270.3 991.6L285.4 1002.4"/>
<path stroke="#9f0000" d="M270.2 987.5L285.4 998.6"/>
<path stroke="#8f0000" d="M270.2 983.3L285.4 994.7"/>
</g>
<g stroke-width="0.9">
<path stroke="#00ffff" d="M331.8 1166.3L346.9 1175.8M331.8 1167.4L347 1176.8M331.8 1168.4L347 1177.7"/>
<path stroke="#10ffef" d="M316.6 1157.2L331.8 1165.3M316.6 1158.3L331.8 1166.3M316.6 1159.4L331.8 1167.4M316.6 1160.4L331.8 1168.4M331.7 1162.1L346.9 1171.9M331.7 1163.2L346.9 1172.9M331.8 1164.2L346.9 1173.9M331.8 1165.3L346.9 1174.9"/>
<path stroke="#20ffdf" d="M316.5 1152.6L331.7 1161M316.6 1153.8L331.7 1162.1M316.6 1154.9L331.7 1163.2M316.6 1156.1L331.8 1164.2M331.7 1157.6L346.9 1167.7M331.7 1158.7L346.9 1168.8M331.7 1159.9L346.9 1169.9M331.7 1161L346.9 1170.9"/>
<path stroke="#30ffcf" d="M316.5 1149L331.7 1157.6M316.5 1150.2L331.7 1158.7M316.5 1151.4L331.7 1159.9M331.7 1156.4L346.9 1166.7"/>
<path stroke="#40ffbf" d="M316.5 1143.8L331.7 1152.8M316.5 1145.1L331.7 1154M316.5 1146.4L331.7 1155.2M316.5 1147.7L331.7 1156.4"/>
<path stroke="#50ffaf" d="M316.4 1139.7L331.6 1149M316.5 1141.1L331.6 1150.3M316.5 1142.5L331.6 1151.5"/>
<path stroke="#60ff9f" d="M103.5 1058.3L118.6 1050.1M316.4 1135.5L331.6 1145M316.4 1136.9L331.6 1146.3M316.4 1138.3L331.6 1147.7"/>
<path stroke="#70ff8f" d="M103.4 1053.4L118.6 1044.5M103.5 1055.9L118.6 1047.3M316.4 1131L331.6 1140.8M316.4 1132.5L331.6 1142.2M316.4 1134L331.6 1143.6"/>
<path stroke="#80ff80" d="M103.4 1050.8L118.6 1041.6M301.2 1122.9L316.4 1131M301.2 1124.5L316.4 1132.5M316.4 1127.9L331.5 1137.9M316.4 1129.4L331.5 1139.4"/>
<path stroke="#8fff70" d="M103.4 1045.4L118.6 1035.6M103.4 1048.2L118.6 1038.6M301.2 1117.9L316.3 1126.3M301.2 1119.6L316.4 1127.9M301.2 1121.3L316.4 1129.4M316.3 1126.3L331.5 1136.5"/>
<path stroke="#9fff60" d="M103.4 1042.6L118.6 1032.4M118.6 1047.3L133.8 1039M118.6 1050.1L133.8 1042M301.1 1114.4L316.3 1123M301.2 1116.2L316.3 1124.7M376.6 1134.5L391.8 1157.1M391.6 1140.6L406.8 1166.6"/>
<path stroke="#afff50" d="M118.6 1044.5L133.8 1035.8M301.1 1109L316.3 1117.9M301.1 1110.8L316.3 1119.6M301.1 1112.6L316.3 1121.3M376.6 1129.4L391.8 1152.8M376.6 1131.1L391.8 1154.3M376.6 1132.8L391.8 1155.7"/>
<path stroke="#bfff40" d="M118.6 1041.6L133.8 1032.6M301.1 1105.2L316.3 1114.4M301.1 1107.1L316.3 1116.2M376.5 1126L391.7 1149.9M376.6 1127.7L391.7 1151.4"/>
<path stroke="#cfff30" d="M118.6 1038.6L133.8 1029.3M301.1 1101.3L316.2 1110.7M301.1 1103.3L316.2 1112.5M376.5 1120.6L391.7 1145.3M376.5 1122.4L391.7 1146.9M376.5 1124.2L391.7 1148.4"/>
<path stroke="#dfff20" d="M118.6 1035.6L133.7 1025.9M301 1097.2L316.2 1106.9M301.1 1099.3L316.2 1108.8M376.5 1116.8L391.6 1142.2M376.5 1118.7L391.7 1143.7"/>
<path stroke="#efff10" d="M118.5 1029.2L133.7 1018.9M118.6 1032.4L133.7 1022.5M133.8 1035.8L149 1027.7M301 1093L316.2 1103M301 1095.1L316.2 1105M376.5 1114.9L391.6 1140.6"/>
<path stroke="#ffff00" d="M133.8 1032.6L149 1024.2M285.8 1085.1L301 1093M301 1090.9L316.2 1101M361.4 1103.1L376.5 1126M361.4 1105.1L376.6 1127.7"/>
<path stroke="#ffef00" d="M133.8 1029.3L148.9 1020.6M285.8 1080.5L301 1088.7M285.8 1082.8L301 1090.9M361.3 1098.9L376.5 1122.4M361.4 1101L376.5 1124.2"/>
<path stroke="#ffdf00" d="M133.7 1025.9L148.9 1017M285.8 1075.7L301 1084.2M285.8 1078.1L301 1086.5M361.3 1094.7L376.5 1118.7M361.3 1096.8L376.5 1120.6"/>
<path stroke="#ffcf00" d="M133.7 1022.5L148.9 1013.2M285.8 1070.8L300.9 1079.5M285.8 1073.3L300.9 1081.9M361.3 1090.3L376.5 1114.9M361.3 1092.5L376.5 1116.8"/>
<path stroke="#ffbf00" d="M133.7 1018.9L148.9 1009.3M285.7 1068.2L300.9 1077.1"/>
<path stroke="#ffaf00" d="M133.7 1015.2L148.9 1005.4M148.9 1017L164.1 1009M285.7 1063L300.9 1072.2M285.7 1065.6L300.9 1074.7"/>
<path stroke="#ff9f00" d="M133.7 1011.4L148.9 1001.3M148.9 1013.2L164.1 1005M285.7 1060.3L300.9 1069.7"/>
<path stroke="#ff8f00" d="M148.9 1009.3L164.1 1000.9M285.7 1054.8L300.9 1064.6M285.7 1057.6L300.9 1067.2M346.1 1069.5L361.3 1092.5M346.1 1072L361.3 1094.7"/>
<path stroke="#ff8000" d="M148.9 1005.4L164 996.7M285.7 1051.9L300.8 1061.9M346.1 1066.9L361.3 1090.3"/>
<path stroke="#ff7000" d="M285.6 1049.1L300.8 1059.2"/>
<path stroke="#ff6000" d="M148.9 1001.3L164 992.4M270.5 1038.1L285.6 1046.1"/>
<path stroke="#ff5000" d="M148.8 997.1L164 988M270.4 1035L285.6 1043.1"/>
<path stroke="#ff4000" d="M148.8 992.8L164 983.4M270.4 1028.4L285.6 1036.9M270.4 1031.7L285.6 1040.1"/>
<path stroke="#ff3000" d="M270.4 1025.1L285.6 1033.8"/>
<path stroke="#ff2000" d="M270.4 1021.6L285.6 1030.5"/>
<path stroke="#ff1000" d="M270.4 1018.1L285.5 1027.3"/>
<path stroke="#ff0000" d="M270.4 1014.5L285.5 1023.9"/>
<path stroke="#ef0000" d="M270.3 1007.2L285.5 1017M270.3 1010.9L285.5 1020.5"/>
<path stroke="#df0000" d="M270.3 1003.4L285.5 1013.5"/>
<path stroke="#9f0000" d="M255.1 983.6L270.3 991.6"/>
<path stroke="#8f0000" d="M255.1 979.2L270.2 987.5"/>
<path stroke="#800000" d="M255.1 974.8L270.2 983.3"/>
</g>
<g stroke-width="0.96">
<path stroke="#00efff" d="M301.5 1159.2L316.7 1165.5M301.5 1160.2L316.7 1166.5"/>
<path stroke="#00ffff" d="M103.6 1077.5L118.8 1071.8M103.6 1079.3L118.8 1073.9M286.3 1149.8L301.4 1155M301.5 1156.1L316.6 1162.5M301.5 1157.1L316.6 1163.5M301.5 1158.2L316.7 1164.5M316.6 1161.5L331.8 1169.4M316.6 1162.5L331.8 1170.3M316.6 1163.5L331.8 1171.3M316.7 1164.5L331.8 1172.2"/>
<path stroke="#10ffef" d="M103.6 1073.6L118.8 1067.4M103.6 1075.6L118.8 1069.6M286.2 1146.3L301.4 1151.6M286.3 1147.5L301.4 1152.8M286.3 1148.6L301.4 1153.9M301.4 1151.6L316.6 1158.3M301.4 1152.8L316.6 1159.4M301.4 1153.9L316.6 1160.4M301.4 1155L316.6 1161.5"/>
<path stroke="#20ffdf" d="M103.6 1071.6L118.7 1065.1M118.8 1075.9L134 1070.6M286.2 1141.5L301.4 1146.9M286.2 1142.7L301.4 1148.1M286.2 1143.9L301.4 1149.3M286.2 1145.1L301.4 1150.5M301.4 1146.9L316.6 1153.8M301.4 1148.1L316.6 1154.9M301.4 1149.3L316.6 1156.1M301.4 1150.5L316.6 1157.2"/>
<path stroke="#30ffcf" d="M103.5 1067.4L118.7 1060.4M103.5 1069.5L118.7 1062.8M118.8 1073.9L134 1068.3M286.2 1137.6L301.4 1143.2M286.2 1138.9L301.4 1144.4M286.2 1140.2L301.4 1145.7M301.4 1143.2L316.5 1150.2M301.4 1144.4L316.5 1151.4M301.4 1145.7L316.5 1152.6"/>
<path stroke="#40ffbf" d="M103.5 1063L118.7 1055.4M103.5 1065.2L118.7 1057.9M118.8 1069.6L133.9 1063.6M118.8 1071.8L134 1066M286.1 1133.5L301.3 1139.2M286.2 1134.9L301.3 1140.6M286.2 1136.2L301.3 1141.9M301.3 1139.2L316.5 1146.4M301.3 1140.6L316.5 1147.7M301.3 1141.9L316.5 1149"/>
<path stroke="#50ffaf" d="M103.5 1060.7L118.7 1052.8M118.7 1065.1L133.9 1058.6M118.8 1067.4L133.9 1061.2M286.1 1129.2L301.3 1135.1M286.1 1130.7L301.3 1136.5M286.1 1132.1L301.3 1137.9M301.3 1135.1L316.5 1142.5M301.3 1136.5L316.5 1143.8M301.3 1137.9L316.5 1145.1"/>
<path stroke="#60ff9f" d="M118.7 1062.8L133.9 1056M134 1068.3L149.1 1063M286.1 1126.2L301.3 1132.2M286.1 1127.7L301.3 1133.6M301.3 1130.7L316.4 1138.3M301.3 1132.2L316.4 1139.7M301.3 1133.6L316.5 1141.1"/>
<path stroke="#70ff8f" d="M118.7 1057.9L133.9 1050.6M118.7 1060.4L133.9 1053.4M133.9 1063.6L149.1 1057.8M134 1066L149.1 1060.4M286.1 1121.5L301.2 1127.7M286.1 1123.1L301.2 1129.2M286.1 1124.7L301.3 1130.7M301.2 1126.1L316.4 1134M301.2 1127.7L316.4 1135.5M301.2 1129.2L316.4 1136.9"/>
<path stroke="#80ff80" d="M118.7 1055.4L133.9 1047.8M133.9 1061.2L149.1 1055.1M286 1116.5L301.2 1122.9M286 1118.2L301.2 1124.5M286.1 1119.9L301.2 1126.1"/>
<path stroke="#8fff70" d="M118.7 1052.8L133.8 1045M133.9 1056L149.1 1049.6M133.9 1058.6L149.1 1052.4M286 1113.1L301.2 1119.6M286 1114.8L301.2 1121.3"/>
<path stroke="#9fff60" d="M133.9 1053.4L149.1 1046.7M149.1 1057.8L164.3 1052.5M286 1109.5L301.2 1116.2M286 1111.3L301.2 1117.9"/>
<path stroke="#afff50" d="M133.9 1050.6L149 1043.7M149.1 1055.1L164.3 1049.6M286 1105.8L301.1 1112.6M286 1107.7L301.1 1114.4"/>
<path stroke="#bfff40" d="M133.8 1045L149 1037.6M133.9 1047.8L149 1040.7M149.1 1052.4L164.3 1046.7M270.8 1096.7L285.9 1101.9M285.9 1100L301.1 1107.1M285.9 1101.9L301.1 1109M285.9 1103.9L301.1 1110.8"/>
<path stroke="#cfff30" d="M133.8 1042L149 1034.3M149.1 1046.7L164.2 1040.6M149.1 1049.6L164.2 1043.7M270.7 1092.5L285.9 1097.9M270.7 1094.6L285.9 1100M285.9 1095.9L301.1 1103.3M285.9 1097.9L301.1 1105.2"/>
<path stroke="#dfff20" d="M133.8 1039L149 1031M149 1043.7L164.2 1037.5M270.7 1088.2L285.9 1093.8M270.7 1090.4L285.9 1095.9M285.9 1091.7L301.1 1099.3M285.9 1093.8L301.1 1101.3"/>
<path stroke="#efff10" d="M149 1040.7L164.2 1034.2M270.7 1083.8L285.9 1089.5M270.7 1086L285.9 1091.7M285.8 1087.3L301 1095.1M285.9 1089.5L301 1097.2"/>
<path stroke="#ffff00" d="M149 1037.6L164.2 1030.9M270.7 1079.2L285.8 1085.1M270.7 1081.5L285.8 1087.3"/>
<path stroke="#ffef00" d="M149 1034.3L164.2 1027.5M164.2 1037.5L179.4 1032.1M270.6 1074.3L285.8 1080.5M270.6 1076.8L285.8 1082.8"/>
<path stroke="#ffdf00" d="M149 1031L164.2 1024M164.2 1034.2L179.4 1028.7M270.6 1071.9L285.8 1078.1"/>
<path stroke="#ffcf00" d="M149 1024.2L164.1 1016.7M149 1027.7L164.1 1020.4M164.2 1030.9L179.4 1025.2M270.6 1066.8L285.8 1073.3M270.6 1069.3L285.8 1075.7"/>
<path stroke="#ffbf00" d="M148.9 1020.6L164.1 1012.9M164.2 1027.5L179.3 1021.7M270.6 1061.5L285.7 1068.2M270.6 1064.1L285.8 1070.8"/>
<path stroke="#ffaf00" d="M164.2 1024L179.3 1018M270.6 1058.8L285.7 1065.6"/>
<path stroke="#ff9f00" d="M164.1 1020.4L179.3 1014.2M270.5 1053.1L285.7 1060.3M270.5 1056L285.7 1063"/>
<path stroke="#ff8f00" d="M164.1 1016.7L179.3 1010.4M270.5 1050.3L285.7 1057.6"/>
<path stroke="#ff8000" d="M164.1 1012.9L179.3 1006.4M270.5 1047.3L285.7 1054.8"/>
<path stroke="#ff7000" d="M164.1 1009L179.3 1002.4M255.3 1039L270.5 1044.3M270.5 1041.3L285.6 1049.1M270.5 1044.3L285.7 1051.9"/>
<path stroke="#ff6000" d="M164.1 1005L179.3 998.2M255.3 1032.6L270.5 1038.1M255.3 1035.8L270.5 1041.3"/>
<path stroke="#ff5000" d="M164.1 1000.9L179.2 994M255.3 1029.3L270.4 1035"/>
<path stroke="#ff4000" d="M164 996.7L179.2 989.6M255.3 1025.9L270.4 1031.7"/>
<path stroke="#ff3000" d="M164 992.4L179.2 985.1M255.2 1022.4L270.4 1028.4"/>
<path stroke="#ff2000" d="M164 988L179.2 980.5M255.2 1015.3L270.4 1021.6M255.2 1018.9L270.4 1025.1"/>
<path stroke="#ff1000" d="M255.2 1011.6L270.4 1018.1"/>
<path stroke="#ff0000" d="M164 983.4L179.2 975.8M179.2 985.1L194.4 979.8M255.2 1007.8L270.4 1014.5"/>
<path stroke="#ef0000" d="M179.2 980.5L194.4 975.1M255.2 1004L270.3 1010.9"/>
<path stroke="#df0000" d="M255.1 1000.1L270.3 1007.2"/>
<path stroke="#cf0000" d="M179.2 975.8L194.4 970.3M255.1 996.1L270.3 1003.4"/>
<path stroke="#bf0000" d="M255.1 992L270.3 999.5"/>
<path stroke="#af0000" d="M255.1 987.8L270.3 995.6"/>
<path stroke="#8f0000" d="M239.9 974L255.1 979.2"/>
<path stroke="#800000" d="M239.9 969.3L255.1 974.8"/>
</g>
<g stroke-width="1.02">
<path stroke="#0050ff" d="M104 1115.2L119.1 1114.9"/>
<path stroke="#0060ff" d="M103.9 1112.5L119.1 1111.8M103.9 1113.5L119.1 1112.9M104 1114.4L119.1 1113.9M119.2 1118.7L134.4 1118.5"/>
<path stroke="#0070ff" d="M103.9 1108.6L119.1 1107.3M103.9 1109.6L119.1 1108.5M103.9 1110.6L119.1 1109.6M103.9 1111.6L119.1 1110.7M119.1 1114.9L134.3 1114.2M119.1 1115.9L134.3 1115.3M119.2 1116.8L134.3 1116.4M119.2 1117.8L134.3 1117.5M134.4 1121.4L149.6 1121.3M134.4 1122.3L149.6 1122.3M134.4 1123.2L149.6 1123.4"/>
<path stroke="#0080ff" d="M103.8 1105.4L119 1103.6M103.9 1106.5L119 1104.8M103.9 1107.6L119 1106.1M119.1 1111.8L134.3 1110.7M119.1 1112.9L134.3 1111.9M119.1 1113.9L134.3 1113.1M134.3 1117.5L149.5 1116.9M134.4 1118.5L149.5 1118.1M134.4 1119.5L149.5 1119.2M134.4 1120.5L149.6 1120.3M149.6 1124.3L164.8 1124.4M149.6 1125.3L164.8 1125.4M149.6 1126.2L164.8 1126.5M149.6 1127.1L164.8 1127.5M164.8 1130.3L180 1130.8"/>
<path stroke="#008fff" d="M103.8 1101.9L119 1099.5M103.8 1103.1L119 1100.9M103.8 1104.2L119 1102.3M119.1 1108.5L134.2 1107M119.1 1109.6L134.3 1108.3M119.1 1110.7L134.3 1109.5M134.3 1114.2L149.5 1113.3M134.3 1115.3L149.5 1114.6M134.3 1116.4L149.5 1115.8M149.6 1120.3L164.7 1119.9M149.6 1121.3L164.7 1121.1M149.6 1122.3L164.7 1122.2M149.6 1123.4L164.8 1123.3M164.8 1127.5L180 1127.7M164.8 1128.4L180 1128.8M164.8 1129.4L180 1129.8M180 1133.7L195.2 1134.5"/>
<path stroke="#009fff" d="M103.8 1098L119 1095.2M103.8 1099.3L119 1096.7M103.8 1100.6L119 1098.1M119 1104.8L134.2 1102.9M119 1106.1L134.2 1104.3M119.1 1107.3L134.2 1105.6M134.3 1110.7L149.5 1109.5M134.3 1111.9L149.5 1110.8M134.3 1113.1L149.5 1112.1M149.5 1116.9L164.7 1116.3M149.5 1118.1L164.7 1117.5M149.5 1119.2L164.7 1118.7M164.8 1123.3L179.9 1123.2M164.8 1124.4L179.9 1124.4M164.8 1125.4L180 1125.5M164.8 1126.5L180 1126.6M180 1129.8L195.2 1130.3M180 1130.8L195.2 1131.3M180 1131.8L195.2 1132.4M180 1132.8L195.2 1133.4M195.2 1136.4L210.4 1137.4M195.2 1137.4L210.4 1138.4"/>
<path stroke="#00afff" d="M103.7 1095.3L118.9 1092.1M103.8 1096.7L118.9 1093.7M119 1100.9L134.2 1098.5M119 1102.3L134.2 1100M119 1103.6L134.2 1101.5M134.2 1107L149.4 1105.3M134.3 1108.3L149.4 1106.7M134.3 1109.5L149.4 1108.1M149.5 1113.3L164.7 1112.3M149.5 1114.6L164.7 1113.7M149.5 1115.8L164.7 1115M164.7 1119.9L179.9 1119.5M164.7 1121.1L179.9 1120.8M164.7 1122.2L179.9 1122M180 1126.6L195.1 1126.8M180 1127.7L195.1 1128M180 1128.8L195.2 1129.1M195.2 1132.4L210.4 1133.1M195.2 1133.4L210.4 1134.2M195.2 1134.5L210.4 1135.3M195.2 1135.4L210.4 1136.4M210.4 1138.4L225.6 1139.7M210.4 1139.4L225.6 1140.7M210.4 1140.3L225.6 1141.7"/>
<path stroke="#00bfff" d="M103.7 1091L118.9 1087.1M103.7 1092.5L118.9 1088.8M103.7 1093.9L118.9 1090.5M119 1098.1L134.1 1095.4M119 1099.5L134.2 1097M134.2 1104.3L149.4 1102.3M134.2 1105.6L149.4 1103.8M149.5 1109.5L164.6 1108.1M149.5 1110.8L164.6 1109.6M149.5 1112.1L164.7 1111M164.7 1116.3L179.9 1115.6M164.7 1117.5L179.9 1117M164.7 1118.7L179.9 1118.3M179.9 1122L195.1 1121.9M179.9 1123.2L195.1 1123.2M179.9 1124.4L195.1 1124.4M180 1125.5L195.1 1125.7M195.2 1129.1L210.3 1129.7M195.2 1130.3L210.3 1130.9M195.2 1131.3L210.4 1132M210.4 1135.3L225.6 1136.4M210.4 1136.4L225.6 1137.5M210.4 1137.4L225.6 1138.6M225.6 1141.7L240.8 1143.5M225.6 1142.7L240.8 1144.5M225.6 1143.7L240.8 1145.5"/>
<path stroke="#00cfff" d="M103.7 1087.9L118.9 1083.6M103.7 1089.4L118.9 1085.4M118.9 1093.7L134.1 1090.4M119 1095.2L134.1 1092.1M119 1096.7L134.1 1093.7M134.2 1100L149.4 1097.6M134.2 1101.5L149.4 1099.2M134.2 1102.9L149.4 1100.8M149.4 1106.7L164.6 1105.2M149.4 1108.1L164.6 1106.7M164.7 1112.3L179.8 1111.4M164.7 1113.7L179.8 1112.8M164.7 1115L179.9 1114.3M179.9 1118.3L195.1 1117.9M179.9 1119.5L195.1 1119.3M179.9 1120.8L195.1 1120.6M195.1 1125.7L210.3 1126M195.1 1126.8L210.3 1127.3M195.1 1128L210.3 1128.5M210.3 1130.9L225.5 1131.8M210.4 1132L225.5 1133M210.4 1133.1L225.5 1134.2M210.4 1134.2L225.5 1135.3M225.6 1137.5L240.7 1139.2M225.6 1138.6L240.7 1140.3M225.6 1139.7L240.8 1141.4M225.6 1140.7L240.8 1142.5M240.8 1143.5L256 1145.9M240.8 1144.5L256 1146.9M240.8 1145.5L256 1147.9M240.8 1146.5L256 1148.9M256 1149.9L271.2 1153.1"/>
<path stroke="#00dfff" d="M103.7 1084.6L118.8 1079.9M103.7 1086.2L118.8 1081.7M118.9 1090.5L134.1 1086.8M118.9 1092.1L134.1 1088.6M134.2 1097L149.3 1094.3M134.2 1098.5L149.3 1096M149.4 1102.3L164.6 1100.4M149.4 1103.8L164.6 1102M149.4 1105.3L164.6 1103.6M164.6 1109.6L179.8 1108.4M164.7 1111L179.8 1109.9M179.9 1115.6L195 1115.1M179.9 1117L195.1 1116.6M195.1 1121.9L210.3 1122.1M195.1 1123.2L210.3 1123.4M195.1 1124.4L210.3 1124.7M210.3 1127.3L225.5 1128.1M210.3 1128.5L225.5 1129.4M210.3 1129.7L225.5 1130.6M225.5 1134.2L240.7 1135.7M225.5 1135.3L240.7 1136.9M225.6 1136.4L240.7 1138M240.7 1140.3L255.9 1142.6M240.8 1141.4L255.9 1143.7M240.8 1142.5L255.9 1144.8M256 1145.9L271.1 1149M256 1146.9L271.1 1150M256 1147.9L271.1 1151.1M256 1148.9L271.2 1152.1M271.2 1152.1L286.3 1156.1M271.2 1153.1L286.3 1157.1"/>
<path stroke="#00efff" d="M103.6 1081.1L118.8 1075.9M103.6 1082.9L118.8 1077.9M118.9 1087.1L134.1 1083.1M118.9 1088.8L134.1 1085M134.1 1093.7L149.3 1090.8M134.1 1095.4L149.3 1092.5M149.4 1099.2L164.5 1097M149.4 1100.8L164.6 1098.7M164.6 1105.2L179.8 1103.7M164.6 1106.7L179.8 1105.3M164.6 1108.1L179.8 1106.9M179.8 1111.4L195 1110.7M179.8 1112.8L195 1112.2M179.9 1114.3L195 1113.7M195.1 1117.9L210.2 1117.9M195.1 1119.3L210.3 1119.4M195.1 1120.6L210.3 1120.7M210.3 1123.4L225.5 1124.1M210.3 1124.7L225.5 1125.5M210.3 1126L225.5 1126.8M225.5 1129.4L240.7 1130.8M225.5 1130.6L240.7 1132M225.5 1131.8L240.7 1133.3M225.5 1133L240.7 1134.5M240.7 1135.7L255.9 1137.9M240.7 1136.9L255.9 1139.1M240.7 1138L255.9 1140.3M240.7 1139.2L255.9 1141.5M255.9 1142.6L271.1 1145.7M255.9 1143.7L271.1 1146.8M255.9 1144.8L271.1 1147.9M271.1 1147.9L286.3 1151.9M271.1 1149L286.3 1153M271.1 1150L286.3 1154.1M271.1 1151.1L286.3 1155.1M286.3 1154.1L301.5 1159.2M286.3 1155.1L301.5 1160.2M286.3 1156.1L301.5 1161.2"/>
<path stroke="#00ffff" d="M118.9 1083.6L134 1079.1M118.9 1085.4L134 1081.1M134.1 1088.6L149.3 1085.1M134.1 1090.4L149.3 1087.1M134.1 1092.1L149.3 1088.9M149.3 1096L164.5 1093.5M149.4 1097.6L164.5 1095.3M164.6 1102L179.8 1100.4M164.6 1103.6L179.8 1102.1M179.8 1108.4L195 1107.5M179.8 1109.9L195 1109.1M195 1113.7L210.2 1113.5M195 1115.1L210.2 1115M195.1 1116.6L210.2 1116.5M210.3 1119.4L225.4 1119.9M210.3 1120.7L225.4 1121.3M210.3 1122.1L225.4 1122.7M225.5 1126.8L240.7 1128.1M225.5 1128.1L240.7 1129.5M240.7 1132L255.9 1134.2M240.7 1133.3L255.9 1135.5M240.7 1134.5L255.9 1136.7M255.9 1137.9L271.1 1141M255.9 1139.1L271.1 1142.2M255.9 1140.3L271.1 1143.4M255.9 1141.5L271.1 1144.5M271.1 1144.5L286.3 1148.6M271.1 1145.7L286.3 1149.8M271.1 1146.8L286.3 1150.9M286.3 1150.9L301.5 1156.1M286.3 1151.9L301.5 1157.1M286.3 1153L301.5 1158.2"/>
<path stroke="#10ffef" d="M118.8 1079.9L134 1075M118.8 1081.7L134 1077.1M134.1 1085L149.2 1081.1M134.1 1086.8L149.3 1083.2M149.3 1092.5L164.5 1089.8M149.3 1094.3L164.5 1091.7M164.5 1097L179.7 1095M164.6 1098.7L179.7 1096.9M164.6 1100.4L179.7 1098.6M179.8 1103.7L195 1102.5M179.8 1105.3L195 1104.2M179.8 1106.9L195 1105.9M195 1110.7L210.2 1110.3M195 1112.2L210.2 1111.9M210.2 1116.5L225.4 1116.9M210.2 1117.9L225.4 1118.4M225.4 1122.7L240.6 1124M225.5 1124.1L240.6 1125.4M225.5 1125.5L240.6 1126.8M240.7 1128.1L255.8 1130.2M240.7 1129.5L255.8 1131.6M240.7 1130.8L255.8 1132.9M255.9 1134.2L271 1137.3M255.9 1135.5L271 1138.5M255.9 1136.7L271.1 1139.8M271.1 1139.8L286.2 1143.9M271.1 1141L286.2 1145.1M271.1 1142.2L286.2 1146.3M271.1 1143.4L286.3 1147.5"/>
<path stroke="#20ffdf" d="M118.8 1077.9L134 1072.8M134.1 1083.1L149.2 1079.1M149.3 1088.9L164.5 1085.9M149.3 1090.8L164.5 1087.9M164.5 1093.5L179.7 1091.3M164.5 1095.3L179.7 1093.2M179.8 1100.4L194.9 1099M179.8 1102.1L194.9 1100.8M195 1105.9L210.2 1105.4M195 1107.5L210.2 1107.1M195 1109.1L210.2 1108.7M210.2 1111.9L225.4 1112.2M210.2 1113.5L225.4 1113.8M210.2 1115L225.4 1115.4M225.4 1118.4L240.6 1119.6M225.4 1119.9L240.6 1121.1M225.4 1121.3L240.6 1122.5M240.6 1124L255.8 1126.1M240.6 1125.4L255.8 1127.5M240.6 1126.8L255.8 1128.9M255.8 1130.2L271 1133.3M255.8 1131.6L271 1134.7M255.8 1132.9L271 1136M271 1136L286.2 1140.2M271 1137.3L286.2 1141.5M271 1138.5L286.2 1142.7"/>
<path stroke="#30ffcf" d="M134 1079.1L149.2 1074.8M134 1081.1L149.2 1076.9M149.3 1085.1L164.4 1081.8M149.3 1087.1L164.5 1083.9M164.5 1089.8L179.7 1087.3M164.5 1091.7L179.7 1089.3M179.7 1096.9L194.9 1095.3M179.7 1098.6L194.9 1097.2M195 1102.5L210.1 1101.9M195 1104.2L210.1 1103.6M210.2 1108.7L225.4 1108.9M210.2 1110.3L225.4 1110.6M225.4 1113.8L240.6 1114.9M225.4 1115.4L240.6 1116.5M225.4 1116.9L240.6 1118M240.6 1121.1L255.8 1123.1M240.6 1122.5L255.8 1124.6M255.8 1126.1L271 1129.2M255.8 1127.5L271 1130.6M255.8 1128.9L271 1132M271 1132L286.2 1136.2M271 1133.3L286.2 1137.6M271 1134.7L286.2 1138.9"/>
<path stroke="#40ffbf" d="M134 1075L149.2 1070.2M134 1077.1L149.2 1072.5M149.2 1081.1L164.4 1077.5M149.3 1083.2L164.4 1079.7M164.5 1085.9L179.7 1083.2M164.5 1087.9L179.7 1085.3M179.7 1093.2L194.9 1091.5M179.7 1095L194.9 1093.4M194.9 1099L210.1 1098.2M194.9 1100.8L210.1 1100.1M210.2 1105.4L225.3 1105.5M210.2 1107.1L225.3 1107.2M225.4 1110.6L240.5 1111.6M225.4 1112.2L240.5 1113.3M240.6 1116.5L255.7 1118.5M240.6 1118L255.8 1120.1M240.6 1119.6L255.8 1121.6M255.8 1123.1L271 1126.3M255.8 1124.6L271 1127.7M271 1127.7L286.1 1132.1M271 1129.2L286.1 1133.5M271 1130.6L286.2 1134.9"/>
<path stroke="#50ffaf" d="M134 1070.6L149.2 1065.5M134 1072.8L149.2 1067.9M149.2 1076.9L164.4 1073M149.2 1079.1L164.4 1075.3M164.5 1083.9L179.6 1081M179.7 1089.3L194.9 1087.4M179.7 1091.3L194.9 1089.5M194.9 1095.3L210.1 1094.4M194.9 1097.2L210.1 1096.3M210.1 1100.1L225.3 1100M210.1 1101.9L225.3 1101.9M210.1 1103.6L225.3 1103.7M225.3 1107.2L240.5 1108.2M225.4 1108.9L240.5 1109.9M240.5 1113.3L255.7 1115.3M240.6 1114.9L255.7 1116.9M255.7 1118.5L270.9 1121.7M255.8 1120.1L270.9 1123.2M255.8 1121.6L270.9 1124.8M270.9 1124.8L286.1 1129.2M271 1126.3L286.1 1130.7"/>
<path stroke="#60ff9f" d="M149.2 1072.5L164.4 1068.2M149.2 1074.8L164.4 1070.6M164.4 1079.7L179.6 1076.6M164.4 1081.8L179.6 1078.8M179.7 1085.3L194.8 1083.2M179.7 1087.3L194.8 1085.3M194.9 1091.5L210.1 1090.4M194.9 1093.4L210.1 1092.4M210.1 1096.3L225.3 1096.2M210.1 1098.2L225.3 1098.1M225.3 1103.7L240.5 1104.6M225.3 1105.5L240.5 1106.4M240.5 1108.2L255.7 1110.2M240.5 1109.9L255.7 1111.9M240.5 1111.6L255.7 1113.6M255.7 1113.6L270.9 1116.9M255.7 1115.3L270.9 1118.5M255.7 1116.9L270.9 1120.1M270.9 1120.1L286.1 1124.7M270.9 1121.7L286.1 1126.2M270.9 1123.2L286.1 1127.7"/>
<path stroke="#70ff8f" d="M149.2 1070.2L164.4 1065.8M164.4 1075.3L179.6 1071.9M164.4 1077.5L179.6 1074.3M179.6 1081L194.8 1078.8M179.7 1083.2L194.8 1081M194.9 1087.4L210 1086.2M194.9 1089.5L210 1088.3M210.1 1092.4L225.2 1092.2M210.1 1094.4L225.3 1094.2M225.3 1098.1L240.5 1099M225.3 1100L240.5 1100.9M225.3 1101.9L240.5 1102.8M240.5 1104.6L255.7 1106.7M240.5 1106.4L255.7 1108.5M255.7 1110.2L270.9 1113.5M255.7 1111.9L270.9 1115.2M270.9 1115.2L286.1 1119.9M270.9 1116.9L286.1 1121.5M270.9 1118.5L286.1 1123.1"/>
<path stroke="#80ff80" d="M149.2 1065.5L164.3 1060.7M149.2 1067.9L164.3 1063.3M164.4 1073L179.6 1069.5M179.6 1078.8L194.8 1076.5M194.8 1083.2L210 1081.9M194.8 1085.3L210 1084.1M210 1088.3L225.2 1088.1M210.1 1090.4L225.2 1090.2M225.3 1094.2L240.4 1095.1M225.3 1096.2L240.4 1097.1M240.5 1100.9L255.6 1103M240.5 1102.8L255.7 1104.8M255.7 1106.7L270.8 1110M255.7 1108.5L270.9 1111.8M270.9 1111.8L286 1116.5M270.9 1113.5L286 1118.2"/>
<path stroke="#8fff70" d="M149.1 1063L164.3 1058M164.4 1068.2L179.5 1064.5M164.4 1070.6L179.6 1067M179.6 1074.3L194.8 1071.7M179.6 1076.6L194.8 1074.1M194.8 1078.8L210 1077.3M194.8 1081L210 1079.6M210 1086.2L225.2 1085.9M225.2 1092.2L240.4 1093.1M240.4 1097.1L255.6 1099.1M240.5 1099L255.6 1101.1M255.6 1103L270.8 1106.4M255.7 1104.8L270.8 1108.2M270.8 1108.2L286 1113.1M270.8 1110L286 1114.8"/>
<path stroke="#9fff60" d="M149.1 1060.4L164.3 1055.3M164.4 1065.8L179.5 1061.9M179.6 1069.5L194.7 1066.8M179.6 1071.9L194.8 1069.3M194.8 1076.5L210 1074.9M210 1081.9L225.2 1081.5M210 1084.1L225.2 1083.7M225.2 1088.1L240.4 1088.9M225.2 1090.2L240.4 1091M240.4 1093.1L255.6 1095.1M240.4 1095.1L255.6 1097.2M255.6 1099.1L270.8 1102.6M255.6 1101.1L270.8 1104.5M270.8 1104.5L286 1109.5M270.8 1106.4L286 1111.3"/>
<path stroke="#afff50" d="M164.3 1060.7L179.5 1056.5M164.3 1063.3L179.5 1059.2M179.6 1067L194.7 1064.2M194.8 1071.7L209.9 1070.1M194.8 1074.1L210 1072.5M210 1077.3L225.2 1076.8M210 1079.6L225.2 1079.2M225.2 1083.7L240.4 1084.5M225.2 1085.9L240.4 1086.7M240.4 1088.9L255.6 1091M240.4 1091L255.6 1093.1M255.6 1095.1L270.8 1098.7M255.6 1097.2L270.8 1100.7M270.8 1100.7L286 1105.8M270.8 1102.6L286 1107.7"/>
<path stroke="#bfff40" d="M164.3 1058L179.5 1053.7M179.5 1061.9L194.7 1058.9M179.5 1064.5L194.7 1061.6M194.8 1069.3L209.9 1067.5M210 1074.9L225.1 1074.4M225.2 1079.2L240.4 1080M225.2 1081.5L240.4 1082.3M240.4 1084.5L255.5 1086.7M240.4 1086.7L255.6 1088.9M255.6 1091L270.7 1094.6M255.6 1093.1L270.8 1096.7M270.8 1098.7L285.9 1103.9"/>
<path stroke="#cfff30" d="M164.3 1052.5L179.5 1047.9M164.3 1055.3L179.5 1050.9M179.5 1059.2L194.7 1056.1M194.7 1064.2L209.9 1062.3M194.7 1066.8L209.9 1065M209.9 1070.1L225.1 1069.5M210 1072.5L225.1 1072M225.1 1074.4L240.3 1075.2M225.2 1076.8L240.3 1077.6M240.4 1080L255.5 1082.2M240.4 1082.3L255.5 1084.5M255.5 1086.7L270.7 1090.4M255.6 1088.9L270.7 1092.5"/>
<path stroke="#dfff20" d="M164.3 1049.6L179.5 1044.9M179.5 1053.7L194.7 1050.4M179.5 1056.5L194.7 1053.3M194.7 1061.6L209.9 1059.6M209.9 1065L225.1 1064.3M209.9 1067.5L225.1 1066.9M225.1 1072L240.3 1072.8M240.3 1077.6L255.5 1079.9M255.5 1082.2L270.7 1086M255.5 1084.5L270.7 1088.2"/>
<path stroke="#efff10" d="M164.3 1046.7L179.4 1041.8M179.5 1050.9L194.7 1047.4M194.7 1056.1L209.9 1054M194.7 1058.9L209.9 1056.9M209.9 1062.3L225.1 1061.7M225.1 1066.9L240.3 1067.7M225.1 1069.5L240.3 1070.3M240.3 1072.8L255.5 1075.1M240.3 1075.2L255.5 1077.5M255.5 1077.5L270.7 1081.5M255.5 1079.9L270.7 1083.8"/>
<path stroke="#ffff00" d="M164.2 1040.6L179.4 1035.4M164.2 1043.7L179.4 1038.7M179.5 1047.9L194.6 1044.4M194.7 1053.3L209.9 1051.1M209.9 1059.6L225.1 1058.9M225.1 1064.3L240.3 1065.1M240.3 1070.3L255.5 1072.6M255.5 1075.1L270.7 1079.2"/>
<path stroke="#ffef00" d="M179.5 1044.9L194.6 1041.3M194.7 1050.4L209.8 1048.2M209.9 1054L225 1053.3M209.9 1056.9L225.1 1056.2M225.1 1058.9L240.2 1059.8M225.1 1061.7L240.3 1062.5M240.3 1065.1L255.4 1067.6M240.3 1067.7L255.5 1070.1M255.5 1070.1L270.6 1074.3M255.5 1072.6L270.6 1076.8"/>
<path stroke="#ffdf00" d="M179.4 1038.7L194.6 1034.8M179.4 1041.8L194.6 1038.1M194.6 1044.4L209.8 1042.1M194.7 1047.4L209.8 1045.2M209.9 1051.1L225 1050.4M225.1 1056.2L240.2 1057M240.2 1059.8L255.4 1062.3M240.3 1062.5L255.4 1065M255.4 1065L270.6 1069.3M255.4 1067.6L270.6 1071.9"/>
<path stroke="#ffcf00" d="M179.4 1035.4L194.6 1031.5M194.6 1041.3L209.8 1038.9M209.8 1045.2L225 1044.4M209.8 1048.2L225 1047.4M225 1053.3L240.2 1054.2M240.2 1057L255.4 1059.6M255.4 1062.3L270.6 1066.8"/>
<path stroke="#ffbf00" d="M179.4 1032.1L194.6 1028M194.6 1038.1L209.8 1035.7M209.8 1042.1L225 1041.3M225 1047.4L240.2 1048.3M225 1050.4L240.2 1051.3M240.2 1054.2L255.4 1056.8M255.4 1056.8L270.6 1061.5M255.4 1059.6L270.6 1064.1"/>
<path stroke="#ffaf00" d="M179.4 1028.7L194.6 1024.5M194.6 1034.8L209.8 1032.3M209.8 1038.9L225 1038.1M225 1044.4L240.2 1045.3M240.2 1048.3L255.4 1051.1M240.2 1051.3L255.4 1054M255.4 1054L270.6 1058.8"/>
<path stroke="#ff9f00" d="M179.4 1025.2L194.5 1021M194.6 1031.5L209.8 1028.9M209.8 1035.7L225 1034.9M225 1041.3L240.2 1042.3M240.2 1045.3L255.4 1048.2M255.4 1051.1L270.5 1056"/>
<path stroke="#ff8f00" d="M179.3 1021.7L194.5 1017.3M194.6 1024.5L209.7 1021.9M194.6 1028L209.7 1025.5M209.8 1032.3L224.9 1031.5M225 1034.9L240.1 1035.9M225 1038.1L240.2 1039.1M240.2 1042.3L255.3 1045.2M255.3 1045.2L270.5 1050.3M255.4 1048.2L270.5 1053.1"/>
<path stroke="#ff8000" d="M179.3 1018L194.5 1013.5M194.5 1021L209.7 1018.3M209.7 1025.5L224.9 1024.7M209.8 1028.9L224.9 1028.1M224.9 1031.5L240.1 1032.6M240.1 1035.9L255.3 1039M240.2 1039.1L255.3 1042.1M255.3 1042.1L270.5 1047.3"/>
<path stroke="#ff7000" d="M179.3 1014.2L194.5 1009.6M194.5 1017.3L209.7 1014.6M209.7 1021.9L224.9 1021.1M224.9 1028.1L240.1 1029.3M240.1 1032.6L255.3 1035.8"/>
<path stroke="#ff6000" d="M179.3 1010.4L194.5 1005.7M194.5 1013.5L209.7 1010.7M209.7 1018.3L224.9 1017.5M224.9 1024.7L240.1 1025.9M240.1 1029.3L255.3 1032.6"/>
<path stroke="#ff5000" d="M179.3 1006.4L194.5 1001.6M194.5 1009.6L209.7 1006.8M209.7 1014.6L224.9 1013.8M224.9 1021.1L240.1 1022.4M240.1 1025.9L255.3 1029.3"/>
<path stroke="#ff4000" d="M179.3 1002.4L194.4 997.5M194.5 1005.7L209.7 1002.8M209.7 1010.7L224.9 1010M224.9 1017.5L240.1 1018.8M240.1 1022.4L255.3 1025.9"/>
<path stroke="#ff3000" d="M179.3 998.2L194.4 993.2M194.5 1001.6L209.6 998.8M209.7 1006.8L224.8 1006.1M224.9 1013.8L240 1015.2M240 1015.2L255.2 1018.9M240.1 1018.8L255.2 1022.4"/>
<path stroke="#ff2000" d="M179.2 994L194.4 988.9M194.4 997.5L209.6 994.6M209.7 1002.8L224.8 1002.1M224.8 1006.1L240 1007.6M224.9 1010L240 1011.4M240 1011.4L255.2 1015.3"/>
<path stroke="#ff1000" d="M179.2 989.6L194.4 984.4M194.4 993.2L209.6 990.3M209.6 998.8L224.8 998.1M224.8 1002.1L240 1003.7M240 1007.6L255.2 1011.6"/>
<path stroke="#ff0000" d="M194.4 988.9L209.6 985.9M209.6 994.6L224.8 993.9M224.8 998.1L240 999.8M240 1003.7L255.2 1007.8"/>
<path stroke="#ef0000" d="M209.6 990.3L224.8 989.7M224.8 993.9L240 995.7M240 999.8L255.2 1004"/>
<path stroke="#df0000" d="M194.4 984.4L209.6 981.4M209.6 985.9L224.8 985.3M240 995.7L255.1 1000.1"/>
<path stroke="#cf0000" d="M194.4 979.8L209.6 976.8M209.6 981.4L224.7 980.8M224.8 989.7L240 991.5M240 991.5L255.1 996.1"/>
<path stroke="#bf0000" d="M194.4 975.1L209.5 972.1M224.8 985.3L239.9 987.3M239.9 987.3L255.1 992"/>
<path stroke="#af0000" d="M194.4 970.3L209.5 967.2M209.6 976.8L224.7 976.3M224.7 980.8L239.9 983M239.9 983L255.1 987.8"/>
<path stroke="#9f0000" d="M209.5 972.1L224.7 971.6M224.7 976.3L239.9 978.5M239.9 978.5L255.1 983.6"/>
<path stroke="#8f0000" d="M209.5 967.2L224.7 966.9M224.7 971.6L239.9 974"/>
<path stroke="#800000" d="M224.7 966.9L239.9 969.3"/>
</g>
<path stroke="url(#gc)" stroke-width="1.02" d="M103.3 1027.4L105.2 1134.5M118.5 1015.3L120.4 1141.1M133.6 1003.6L135.6 1147.7M148.8 992.8L150.7 1154.4M164 983.4L165.9 1161M179.2 975.8L181.1 1167.6M194.4 970.3L196.3 1174.2M209.5 967.2L211.4 1180.9M224.7 966.9L226.6 1187.5M239.9 969.3L241.8 1194.1M255.1 974.8L257 1200.7M270.2 983.3L272.1 1207.4M285.4 994.7L287.3 1213.9M300.6 1009L302.5 1220.4M315.8 1026L317.7 1227M330.9 1045.4L332.8 1233.5M346.1 1066.9L348 1240.1M361.3 1090.3L363.2 1246.7M376.5 1114.9L378.4 1253.3M391.6 1140.6L393.5 1260M406.8 1166.6L408.7 1266.6"/>
<path fill="#fff" d="M1018.6 920L1033.8 936.7L1049 953.4L1064.1 970.1L1079.3 986.8L1094.5 1003.5L1109.7 1020.2L1124.8 1036.9L1140 1053.6L1155.2 1070.3L1170.3 1087L1185.5 1103.7L1200.7 1120.4L1215.9 1137.1L1231 1153.8L1246.2 1170.5L1261.4 1187.2L1276.6 1203.9L1291.8 1220.6L1306.9 1237.3L1322.1 1254L1324 1346.1L1308.8 1338.7L1293.7 1331.3L1278.5 1323.9L1263.3 1316.5L1248.1 1309.2L1233 1301.8L1217.8 1294.4L1202.6 1287L1187.4 1279.6L1172.3 1272.2L1157.1 1264.9L1141.9 1257.5L1126.7 1250.1L1111.6 1242.7L1096.4 1235.3L1081.2 1227.9L1066 1220.5L1050.9 1213.2L1035.7 1205.8L1020.5 1198.4Z"/>
<path fill="#00008f" d="M1278.5 1323.8L1293.7 1331.2L1293.7 1331.3L1278.5 1323.9ZM1293.6 1330.7L1308.8 1338.1L1308.8 1338.7L1293.7 1331.3ZM1308.8 1337.6L1323.9 1345.1L1324 1346.1L1308.8 1338.7Z"/>
<path fill="#00009f" d="M1111.6 1242.7L1126.7 1250.1L1126.7 1250.1L1111.6 1242.7ZM1126.7 1249.6L1141.9 1257L1141.9 1257.5L1126.7 1250.1ZM1141.9 1256.6L1157 1264L1157.1 1264.9L1141.9 1257.5ZM1157 1263.5L1172.2 1271L1172.3 1272.2L1157.1 1264.9ZM1172.2 1270.4L1187.4 1277.9L1187.4 1279.6L1172.3 1272.2ZM1187.3 1277.4L1202.5 1284.9L1202.6 1287L1187.4 1279.6ZM1202.5 1284.4L1217.7 1291.9L1217.8 1294.4L1202.6 1287ZM1217.6 1291.2L1232.8 1298.8L1233 1301.8L1217.8 1294.4ZM1232.8 1298.2L1248 1305.8L1248.1 1309.2L1233 1301.8ZM1248 1305.1L1263.1 1312.8L1263.3 1316.5L1248.1 1309.2ZM1263.1 1312L1278.3 1319.8L1278.5 1323.9L1263.3 1316.5ZM1278.2 1318.9L1293.4 1326.7L1293.7 1331.2L1278.5 1323.8ZM1293.4 1325.8L1308.6 1333.7L1308.8 1338.1L1293.6 1330.7ZM1308.5 1332.7L1323.7 1340.6L1323.9 1345.1L1308.8 1337.6Z"/>
<path fill="#0000af" d="M1020.4 1196.3L1035.6 1203.8L1035.7 1205.8L1020.5 1198.4ZM1035.6 1203.3L1050.8 1210.8L1050.9 1213.2L1035.7 1205.8ZM1050.8 1210.2L1065.9 1217.7L1066 1220.5L1050.9 1213.2ZM1065.9 1217.1L1081.1 1224.7L1081.2 1227.9L1066 1220.5ZM1081.1 1224.1L1096.3 1231.7L1096.4 1235.3L1081.2 1227.9ZM1096.3 1231.1L1111.4 1238.6L1111.6 1242.7L1096.4 1235.3ZM1111.4 1238L1126.6 1245.6L1126.7 1250.1L1111.6 1242.7ZM1126.6 1244.9L1141.7 1252.5L1141.9 1257L1126.7 1249.6ZM1141.7 1251.9L1156.9 1259.5L1157 1264L1141.9 1256.6ZM1156.9 1258.8L1172.1 1266.5L1172.2 1271L1157 1263.5ZM1172 1265.8L1187.2 1273.5L1187.4 1277.9L1172.2 1270.4ZM1187.2 1272.7L1202.4 1280.4L1202.5 1284.9L1187.3 1277.4ZM1202.4 1279.6L1217.5 1287.4L1217.7 1291.9L1202.5 1284.4ZM1217.5 1286.5L1232.7 1294.4L1232.8 1298.8L1217.6 1291.2ZM1232.7 1293.5L1247.8 1301.4L1248 1305.8L1232.8 1298.2ZM1247.8 1300.3L1263 1308.3L1263.1 1312.8L1248 1305.1ZM1263 1307.3L1278.1 1315.3L1278.3 1319.8L1263.1 1312ZM1278.1 1314.1L1293.3 1322.3L1293.4 1326.7L1278.2 1318.9ZM1293.2 1321L1308.4 1329.3L1308.6 1333.7L1293.4 1325.8ZM1308.4 1327.8L1323.6 1336.2L1323.7 1340.6L1308.5 1332.7Z"/>
<path fill="#0000bf" d="M1020.4 1191.7L1035.5 1199.3L1035.6 1203.8L1020.4 1196.3ZM1035.5 1198.6L1050.7 1206.2L1050.8 1210.8L1035.6 1203.3ZM1050.7 1205.6L1065.9 1213.2L1065.9 1217.7L1050.8 1210.2ZM1065.8 1212.5L1081 1220.2L1081.1 1224.7L1065.9 1217.1ZM1081 1219.5L1096.2 1227.2L1096.3 1231.7L1081.1 1224.1ZM1096.2 1226.4L1111.3 1234.2L1111.4 1238.6L1096.3 1231.1ZM1111.3 1233.4L1126.5 1241.2L1126.6 1245.6L1111.4 1238ZM1126.5 1240.2L1141.7 1248L1141.7 1252.5L1126.6 1244.9ZM1141.6 1247.1L1156.8 1255L1156.9 1259.5L1141.7 1251.9ZM1156.8 1254.1L1172 1262L1172.1 1266.5L1156.9 1258.8ZM1171.9 1261L1187.1 1269L1187.2 1273.5L1172 1265.8ZM1187.1 1267.8L1202.3 1275.9L1202.4 1280.4L1187.2 1272.7ZM1202.3 1274.8L1217.4 1282.9L1217.5 1287.4L1202.4 1279.6ZM1217.4 1281.7L1232.6 1289.8L1232.7 1294.4L1217.5 1286.5ZM1232.6 1288.6L1247.7 1296.8L1247.8 1301.4L1232.7 1293.5ZM1247.7 1295.5L1262.9 1303.8L1263 1308.3L1247.8 1300.3ZM1262.8 1302.5L1278 1310.9L1278.1 1315.3L1263 1307.3ZM1278 1309.3L1293.2 1317.8L1293.3 1322.3L1278.1 1314.1ZM1293.1 1316L1308.3 1324.6L1308.4 1329.3L1293.2 1321ZM1308.2 1323L1323.4 1331.8L1323.6 1336.2L1308.4 1327.8Z"/>
<path fill="#0000cf" d="M1020.3 1187.1L1035.5 1194.8L1035.5 1199.3L1020.4 1191.7ZM1035.4 1194L1050.6 1201.8L1050.7 1206.2L1035.5 1198.6ZM1050.6 1200.9L1065.8 1208.7L1065.9 1213.2L1050.7 1205.6ZM1065.8 1207.8L1080.9 1215.7L1081 1220.2L1065.8 1212.5ZM1080.9 1214.7L1096.1 1222.6L1096.2 1227.2L1081 1219.5ZM1096.1 1221.7L1111.3 1229.6L1111.3 1234.2L1096.2 1226.4ZM1111.2 1228.6L1126.4 1236.6L1126.5 1241.2L1111.3 1233.4ZM1126.4 1235.6L1141.6 1243.6L1141.7 1248L1126.5 1240.2ZM1141.6 1242.4L1156.7 1250.4L1156.8 1255L1141.6 1247.1ZM1156.7 1249.4L1171.9 1257.5L1172 1262L1156.8 1254.1ZM1171.9 1256.4L1187 1264.6L1187.1 1269L1171.9 1261ZM1187 1263.2L1202.2 1271.5L1202.3 1275.9L1187.1 1267.8ZM1202.2 1270.1L1217.3 1278.4L1217.4 1282.9L1202.3 1274.8ZM1217.3 1277L1232.5 1285.4L1232.6 1289.8L1217.4 1281.7ZM1232.5 1284L1247.6 1292.5L1247.7 1296.8L1232.6 1288.6ZM1247.6 1290.7L1262.8 1299.3L1262.9 1303.8L1247.7 1295.5ZM1262.7 1297.6L1277.9 1306.3L1278 1310.9L1262.8 1302.5ZM1277.9 1304.5L1293.1 1313.4L1293.2 1317.8L1278 1309.3ZM1293 1311.2L1308.2 1320.3L1308.3 1324.6L1293.1 1316ZM1308.1 1317.8L1323.3 1327.1L1323.4 1331.8L1308.2 1323Z"/>
<path fill="#0000df" d="M1020.2 1182.5L1035.4 1190.4L1035.5 1194.8L1020.3 1187.1ZM1035.4 1189.2L1050.5 1197.2L1050.6 1201.8L1035.4 1194ZM1050.5 1196.2L1065.7 1204.2L1065.8 1208.7L1050.6 1200.9ZM1065.7 1203.3L1080.9 1211.3L1080.9 1215.7L1065.8 1207.8ZM1080.9 1210L1096 1218.1L1096.1 1222.6L1080.9 1214.7ZM1096 1217.1L1111.2 1225.2L1111.3 1229.6L1096.1 1221.7ZM1111.2 1223.9L1126.3 1232.1L1126.4 1236.6L1111.2 1228.6ZM1126.3 1230.8L1141.5 1239L1141.6 1243.6L1126.4 1235.6ZM1141.5 1237.6L1156.7 1245.9L1156.7 1250.4L1141.6 1242.4ZM1156.6 1244.5L1171.8 1252.9L1171.9 1257.5L1156.7 1249.4ZM1171.8 1251.4L1187 1259.9L1187 1264.6L1171.9 1256.4ZM1186.9 1258.4L1202.1 1266.9L1202.2 1271.5L1187 1263.2ZM1202.1 1265.5L1217.3 1274L1217.3 1278.4L1202.2 1270.1ZM1217.2 1272.2L1232.4 1280.9L1232.5 1285.4L1217.3 1277ZM1232.4 1279.1L1247.6 1287.9L1247.6 1292.5L1232.5 1284ZM1247.5 1286L1262.7 1295L1262.8 1299.3L1247.6 1290.7ZM1262.7 1292.7L1277.8 1301.8L1277.9 1306.3L1262.7 1297.6ZM1277.8 1299.5L1293 1308.8L1293.1 1313.4L1277.9 1304.5ZM1292.9 1306.1L1308.1 1315.7L1308.2 1320.3L1293 1311.2ZM1308 1312.9L1323.2 1322.7L1323.3 1327.1L1308.1 1317.8Z"/>
<path fill="#0000ef" d="M1020.2 1177.7L1035.3 1185.8L1035.4 1190.4L1020.2 1182.5ZM1035.3 1184.6L1050.5 1192.7L1050.5 1197.2L1035.4 1189.2ZM1050.5 1191.5L1065.6 1199.7L1065.7 1204.2L1050.5 1196.2ZM1065.6 1198.5L1080.8 1206.7L1080.9 1211.3L1065.7 1203.3ZM1080.8 1205.4L1096 1213.7L1096 1218.1L1080.9 1210ZM1096 1212.4L1111.1 1220.7L1111.2 1225.2L1096 1217.1ZM1111.1 1219.1L1126.3 1227.5L1126.3 1232.1L1111.2 1223.9ZM1126.3 1226.1L1141.4 1234.6L1141.5 1239L1126.3 1230.8ZM1141.4 1232.9L1156.6 1241.4L1156.7 1245.9L1141.5 1237.6ZM1156.6 1240L1171.7 1248.6L1171.8 1252.9L1156.6 1244.5ZM1171.7 1246.9L1186.9 1255.5L1187 1259.9L1171.8 1251.4ZM1186.9 1253.8L1202 1262.5L1202.1 1266.9L1186.9 1258.4ZM1202 1260.7L1217.2 1269.6L1217.3 1274L1202.1 1265.5ZM1217.2 1267.4L1232.3 1276.4L1232.4 1280.9L1217.2 1272.2ZM1232.3 1274.1L1247.5 1283.3L1247.6 1287.9L1232.4 1279.1ZM1247.4 1281L1262.6 1290.3L1262.7 1295L1247.5 1286ZM1262.6 1287.9L1277.7 1297.4L1277.8 1301.8L1262.7 1292.7ZM1277.7 1294.6L1292.9 1304.3L1293 1308.8L1277.8 1299.5ZM1292.8 1301.5L1308 1311.4L1308.1 1315.7L1292.9 1306.1ZM1307.9 1308.2L1323.1 1318.4L1323.2 1322.7L1308 1312.9Z"/>
<path fill="#0000ff" d="M1020.1 1173.1L1035.3 1181.4L1035.3 1185.8L1020.2 1177.7ZM1035.3 1179.9L1050.4 1188.2L1050.5 1192.7L1035.3 1184.6ZM1050.4 1186.7L1065.6 1195.1L1065.6 1199.7L1050.5 1191.5ZM1065.6 1194L1080.8 1202.3L1080.8 1206.7L1065.6 1198.5ZM1080.7 1200.8L1095.9 1209.3L1096 1213.7L1080.8 1205.4ZM1095.9 1207.7L1111.1 1216.2L1111.1 1220.7L1096 1212.4ZM1111.1 1214.7L1126.2 1223.2L1126.3 1227.5L1111.1 1219.1ZM1126.2 1221.3L1141.4 1229.9L1141.4 1234.6L1126.3 1226.1ZM1141.4 1228.3L1156.5 1237L1156.6 1241.4L1141.4 1232.9ZM1156.5 1235L1171.7 1243.8L1171.7 1248.6L1156.6 1240ZM1171.7 1242.2L1186.8 1251.1L1186.9 1255.5L1171.7 1246.9ZM1186.8 1249L1202 1258L1202 1262.5L1186.9 1253.8ZM1201.9 1255.9L1217.1 1265L1217.2 1269.6L1202 1260.7ZM1217.1 1262.4L1232.3 1271.7L1232.3 1276.4L1217.2 1267.4ZM1232.2 1269.5L1247.4 1278.9L1247.5 1283.3L1232.3 1274.1ZM1247.4 1276.3L1262.5 1285.9L1262.6 1290.3L1247.4 1281ZM1262.5 1283.2L1277.7 1293L1277.7 1297.4L1262.6 1287.9ZM1277.6 1289.8L1292.8 1299.8L1292.9 1304.3L1277.7 1294.6ZM1292.7 1296.5L1307.9 1306.9L1308 1311.4L1292.8 1301.5ZM1307.8 1303.1L1323 1313.8L1323.1 1318.4L1307.9 1308.2Z"/>
<path fill="#0010ff" d="M1020.1 1168.4L1035.2 1176.8L1035.3 1181.4L1020.1 1173.1ZM1035.2 1175.5L1050.4 1184L1050.4 1188.2L1035.3 1179.9ZM1050.4 1182.3L1065.5 1190.7L1065.6 1195.1L1050.4 1186.7ZM1065.5 1189L1080.7 1197.6L1080.8 1202.3L1065.6 1194ZM1080.7 1196.2L1095.9 1204.9L1095.9 1209.3L1080.7 1200.8ZM1095.8 1203.1L1111 1211.8L1111.1 1216.2L1095.9 1207.7ZM1111 1210L1126.2 1218.7L1126.2 1223.2L1111.1 1214.7ZM1126.1 1216.9L1141.3 1225.7L1141.4 1229.9L1126.2 1221.3ZM1141.3 1223.4L1156.5 1232.4L1156.5 1237L1141.4 1228.3ZM1156.4 1230.5L1171.6 1239.5L1171.7 1243.8L1156.5 1235ZM1171.6 1237.1L1186.8 1246.3L1186.8 1251.1L1171.7 1242.2ZM1186.7 1244.3L1201.9 1253.6L1202 1258L1186.8 1249ZM1201.9 1251.2L1217.1 1260.6L1217.1 1265L1201.9 1255.9ZM1217 1258.1L1232.2 1267.6L1232.3 1271.7L1217.1 1262.4ZM1232.2 1264.6L1247.3 1274.4L1247.4 1278.9L1232.2 1269.5ZM1247.3 1271.3L1262.5 1281.2L1262.5 1285.9L1247.4 1276.3ZM1262.4 1278.1L1277.6 1288.3L1277.7 1293L1262.5 1283.2ZM1277.5 1284.6L1292.7 1295.1L1292.8 1299.8L1277.6 1289.8ZM1292.7 1291.3L1307.8 1302.1L1307.9 1306.9L1292.7 1296.5ZM1307.8 1298.3L1322.9 1309.4L1323 1313.8L1307.8 1303.1Z"/>
<path fill="#0020ff" d="M1020 1163.8L1035.2 1172.4L1035.2 1176.8L1020.1 1168.4ZM1035.2 1170.4L1050.3 1179L1050.4 1184L1035.2 1175.5ZM1050.3 1177.5L1065.5 1186.2L1065.5 1190.7L1050.4 1182.3ZM1065.5 1184.7L1080.7 1193.4L1080.7 1197.6L1065.5 1189ZM1080.6 1191.4L1095.8 1200.2L1095.9 1204.9L1080.7 1196.2ZM1095.8 1198.2L1111 1207.1L1111 1211.8L1095.8 1203.1ZM1110.9 1205L1126.1 1214L1126.2 1218.7L1111 1210ZM1126.1 1211.9L1141.3 1220.9L1141.3 1225.7L1126.1 1216.9ZM1141.2 1218.8L1156.4 1228L1156.5 1232.4L1141.3 1223.4ZM1156.4 1225.8L1171.6 1235.1L1171.6 1239.5L1156.4 1230.5ZM1171.5 1232.4L1186.7 1241.8L1186.8 1246.3L1171.6 1237.1ZM1186.7 1239.6L1201.9 1249.1L1201.9 1253.6L1186.7 1244.3ZM1201.8 1246.3L1217 1256L1217.1 1260.6L1201.9 1251.2ZM1217 1253.2L1232.1 1263L1232.2 1267.6L1217 1258.1ZM1232.1 1259.6L1247.3 1269.7L1247.3 1274.4L1232.2 1264.6ZM1247.2 1266.8L1262.4 1277L1262.5 1281.2L1247.3 1271.3ZM1262.4 1273.6L1277.5 1284.1L1277.6 1288.3L1262.4 1278.1ZM1277.5 1280L1292.6 1290.8L1292.7 1295.1L1277.5 1284.6ZM1292.6 1286.6L1307.8 1297.7L1307.8 1302.1L1292.7 1291.3ZM1307.7 1292.9L1322.8 1304.5L1322.9 1309.4L1307.8 1298.3Z"/>
<path fill="#0030ff" d="M1020 1159.1L1035.1 1167.8L1035.2 1172.4L1020 1163.8ZM1035.1 1166.2L1050.3 1174.9L1050.3 1179L1035.2 1170.4ZM1050.3 1172.7L1065.4 1181.5L1065.5 1186.2L1050.3 1177.5ZM1065.4 1179.9L1080.6 1188.8L1080.7 1193.4L1065.5 1184.7ZM1080.6 1186.5L1095.8 1195.5L1095.8 1200.2L1080.6 1191.4ZM1095.7 1193.7L1110.9 1202.8L1111 1207.1L1095.8 1198.2ZM1110.9 1200.5L1126.1 1209.6L1126.1 1214L1110.9 1205ZM1126 1207.3L1141.2 1216.6L1141.3 1220.9L1126.1 1211.9ZM1141.2 1214.2L1156.4 1223.6L1156.4 1228L1141.2 1218.8ZM1156.3 1221.2L1171.5 1230.7L1171.6 1235.1L1156.4 1225.8ZM1171.5 1227.6L1186.7 1237.3L1186.7 1241.8L1171.5 1232.4ZM1186.6 1234.8L1201.8 1244.6L1201.9 1249.1L1186.7 1239.6ZM1201.8 1241.5L1216.9 1251.4L1217 1256L1201.8 1246.3ZM1216.9 1248.3L1232.1 1258.4L1232.1 1263L1217 1253.2ZM1232 1255.3L1247.2 1265.6L1247.3 1269.7L1232.1 1259.6ZM1247.2 1261.8L1262.3 1272.4L1262.4 1277L1247.2 1266.8ZM1262.3 1268.5L1277.5 1279.3L1277.5 1284.1L1262.4 1273.6ZM1277.4 1275.4L1292.6 1286.6L1292.6 1290.8L1277.5 1280ZM1292.5 1282L1307.7 1293.5L1307.8 1297.7L1292.6 1286.6ZM1307.6 1288.2L1322.8 1300.2L1322.8 1304.5L1307.7 1292.9Z"/>
<path fill="#0040ff" d="M1019.9 1154.4L1035.1 1163.3L1035.1 1167.8L1020 1159.1ZM1035.1 1161.4L1050.3 1170.4L1050.3 1174.9L1035.1 1166.2ZM1050.2 1168.5L1065.4 1177.5L1065.4 1181.5L1050.3 1172.7ZM1065.4 1175L1080.6 1184.1L1080.6 1188.8L1065.4 1179.9ZM1080.5 1182.2L1095.7 1191.3L1095.8 1195.5L1080.6 1186.5ZM1095.7 1188.8L1110.9 1198L1110.9 1202.8L1095.7 1193.7ZM1110.8 1195.5L1126 1204.8L1126.1 1209.6L1110.9 1200.5ZM1126 1202.9L1141.2 1212.3L1141.2 1216.6L1126 1207.3ZM1141.1 1209.7L1156.3 1219.3L1156.4 1223.6L1141.2 1214.2ZM1156.3 1216L1171.5 1225.7L1171.5 1230.7L1156.3 1221.2ZM1171.4 1223L1186.6 1232.9L1186.7 1237.3L1171.5 1227.6ZM1186.6 1230.2L1201.8 1240.2L1201.8 1244.6L1186.6 1234.8ZM1201.7 1236.8L1216.9 1247L1216.9 1251.4L1201.8 1241.5ZM1216.8 1243.6L1232 1254L1232.1 1258.4L1216.9 1248.3ZM1232 1250.5L1247.2 1261.1L1247.2 1265.6L1232 1255.3ZM1247.1 1256.9L1262.3 1267.8L1262.3 1272.4L1247.2 1261.8ZM1262.2 1263.5L1277.4 1274.7L1277.5 1279.3L1262.3 1268.5ZM1277.3 1270.4L1292.5 1282L1292.6 1286.6L1277.4 1275.4ZM1292.4 1276.9L1307.6 1288.9L1307.7 1293.5L1292.5 1282ZM1307.5 1283L1322.7 1295.5L1322.8 1300.2L1307.6 1288.2Z"/>
<path fill="#0050ff" d="M1019.9 1149.8L1035.1 1158.9L1035.1 1163.3L1019.9 1154.4ZM1035 1156.8L1050.2 1165.9L1050.3 1170.4L1035.1 1161.4ZM1050.2 1163.9L1065.4 1173L1065.4 1177.5L1050.2 1168.5ZM1065.3 1170.3L1080.5 1179.5L1080.6 1184.1L1065.4 1175ZM1080.5 1177.4L1095.7 1186.8L1095.7 1191.3L1080.5 1182.2ZM1095.6 1184L1110.8 1193.4L1110.9 1198L1095.7 1188.8ZM1110.8 1191.3L1126 1200.8L1126 1204.8L1110.8 1195.5ZM1125.9 1198L1141.1 1207.7L1141.2 1212.3L1126 1202.9ZM1141.1 1204.8L1156.3 1214.6L1156.3 1219.3L1141.1 1209.7ZM1156.2 1211.7L1171.4 1221.6L1171.5 1225.7L1156.3 1216ZM1171.4 1218.7L1186.6 1228.8L1186.6 1232.9L1171.4 1223ZM1186.5 1225.1L1201.7 1235.4L1201.8 1240.2L1186.6 1230.2ZM1201.7 1231.6L1216.8 1242.1L1216.9 1247L1201.7 1236.8ZM1216.8 1238.3L1232 1249L1232 1254L1216.8 1243.6ZM1231.9 1245.2L1247.1 1256.2L1247.2 1261.1L1232 1250.5ZM1247 1252.3L1262.2 1263.5L1262.3 1267.8L1247.1 1256.9ZM1262.2 1258.9L1277.3 1270.4L1277.4 1274.7L1262.2 1263.5ZM1277.3 1265.8L1292.4 1277.7L1292.5 1282L1277.3 1270.4ZM1292.4 1272.2L1307.5 1284.5L1307.6 1288.9L1292.4 1276.9ZM1307.4 1278.1L1322.6 1291.1L1322.7 1295.5L1307.5 1283Z"/>
<path fill="#0060ff" d="M1019.8 1144.8L1035 1154L1035.1 1158.9L1019.9 1149.8ZM1035 1151.8L1050.2 1161L1050.2 1165.9L1035 1156.8ZM1050.1 1158.8L1065.3 1168.1L1065.4 1173L1050.2 1163.9ZM1065.3 1165.8L1080.5 1175.3L1080.5 1179.5L1065.3 1170.3ZM1080.5 1173L1095.6 1182.5L1095.7 1186.8L1080.5 1177.4ZM1095.6 1179.5L1110.8 1189.1L1110.8 1193.4L1095.6 1184ZM1110.8 1186L1125.9 1195.8L1126 1200.8L1110.8 1191.3ZM1125.9 1193.4L1141.1 1203.3L1141.1 1207.7L1125.9 1198ZM1141.1 1200.2L1156.2 1210.2L1156.3 1214.6L1141.1 1204.8ZM1156.2 1207L1171.4 1217.2L1171.4 1221.6L1156.2 1211.7ZM1171.3 1214L1186.5 1224.3L1186.6 1228.8L1171.4 1218.7ZM1186.5 1220.3L1201.6 1230.8L1201.7 1235.4L1186.5 1225.1ZM1201.6 1226.8L1216.8 1237.5L1216.8 1242.1L1201.7 1231.6ZM1216.7 1234.3L1231.9 1245.2L1232 1249L1216.8 1238.3ZM1231.9 1240.3L1247 1251.5L1247.1 1256.2L1231.9 1245.2ZM1247 1247.4L1262.2 1258.9L1262.2 1263.5L1247 1252.3ZM1262.1 1253.9L1277.3 1265.8L1277.3 1270.4L1262.2 1258.9ZM1277.2 1260.7L1292.4 1273L1292.4 1277.7L1277.3 1265.8ZM1292.3 1267L1307.5 1279.8L1307.5 1284.5L1292.4 1272.2ZM1307.4 1273.8L1322.6 1287.1L1322.6 1291.1L1307.4 1278.1Z"/>
<path fill="#0070ff" d="M1019.8 1140.1L1035 1149.4L1035 1154L1019.8 1144.8ZM1035 1147L1050.1 1156.4L1050.2 1161L1035 1151.8ZM1050.1 1154L1065.3 1163.5L1065.3 1168.1L1050.1 1158.8ZM1065.3 1161L1080.4 1170.6L1080.5 1175.3L1065.3 1165.8ZM1080.4 1168.2L1095.6 1177.9L1095.6 1182.5L1080.5 1173ZM1095.6 1174.6L1110.7 1184.4L1110.8 1189.1L1095.6 1179.5ZM1110.7 1181.9L1125.9 1191.8L1125.9 1195.8L1110.8 1186ZM1125.9 1188.5L1141 1198.5L1141.1 1203.3L1125.9 1193.4ZM1141 1195.1L1156.2 1205.4L1156.2 1210.2L1141.1 1200.2ZM1156.1 1202L1171.3 1212.4L1171.4 1217.2L1156.2 1207ZM1171.3 1208.9L1186.5 1219.5L1186.5 1224.3L1171.3 1214ZM1186.4 1216L1201.6 1226.8L1201.6 1230.8L1186.5 1220.3ZM1201.6 1222.4L1216.7 1233.4L1216.8 1237.5L1201.6 1226.8ZM1216.7 1229L1231.9 1240.3L1231.9 1245.2L1216.7 1234.3ZM1231.8 1235.8L1247 1247.4L1247 1251.5L1231.9 1240.3ZM1246.9 1242.9L1262.1 1254.7L1262.2 1258.9L1247 1247.4ZM1262 1249.3L1277.2 1261.6L1277.3 1265.8L1262.1 1253.9ZM1277.1 1255.2L1292.3 1267.9L1292.4 1273L1277.2 1260.7ZM1292.2 1262.4L1307.4 1275.5L1307.5 1279.8L1292.3 1267ZM1307.3 1268.1L1322.5 1282L1322.6 1287.1L1307.4 1273.8Z"/>
<path fill="#0080ff" d="M1019.8 1135.8L1034.9 1145.3L1035 1149.4L1019.8 1140.1ZM1034.9 1142.7L1050.1 1152.3L1050.1 1156.4L1035 1147ZM1050.1 1149.7L1065.2 1159.3L1065.3 1163.5L1050.1 1154ZM1065.2 1156.7L1080.4 1166.5L1080.4 1170.6L1065.3 1161ZM1080.4 1162.9L1095.5 1172.8L1095.6 1177.9L1080.4 1168.2ZM1095.5 1170.1L1110.7 1180.2L1110.7 1184.4L1095.6 1174.6ZM1110.7 1176.5L1125.8 1186.7L1125.9 1191.8L1110.7 1181.9ZM1125.8 1184L1141 1194.3L1141 1198.5L1125.9 1188.5ZM1141 1190.6L1156.1 1201.1L1156.2 1205.4L1141 1195.1ZM1156.1 1197.4L1171.3 1208L1171.3 1212.4L1156.1 1202ZM1171.2 1204.3L1186.4 1215.1L1186.5 1219.5L1171.3 1208.9ZM1186.4 1210.5L1201.5 1221.5L1201.6 1226.8L1186.4 1216ZM1201.5 1217.7L1216.7 1229L1216.7 1233.4L1201.6 1222.4ZM1216.6 1224.3L1231.8 1235.8L1231.9 1240.3L1216.7 1229ZM1231.8 1231L1246.9 1242.9L1247 1247.4L1231.8 1235.8ZM1246.9 1238.1L1262.1 1250.3L1262.1 1254.7L1246.9 1242.9ZM1262 1244.5L1277.2 1257.1L1277.2 1261.6L1262 1249.3ZM1277.1 1252.2L1292.3 1265.2L1292.3 1267.9L1277.1 1255.2ZM1292.2 1259.4L1307.4 1272.8L1307.4 1275.5L1292.2 1262.4ZM1307.3 1267.1L1322.5 1281.1L1322.5 1282L1307.3 1268.1Z"/>
<path fill="#008fff" d="M1019.7 1131.3L1034.9 1140.9L1034.9 1145.3L1019.8 1135.8ZM1034.9 1138.1L1050.1 1147.9L1050.1 1152.3L1034.9 1142.7ZM1050 1145.1L1065.2 1154.9L1065.2 1159.3L1050.1 1149.7ZM1065.2 1152.1L1080.4 1162L1080.4 1166.5L1065.2 1156.7ZM1080.3 1158.2L1095.5 1168.3L1095.5 1172.8L1080.4 1162.9ZM1095.5 1165.4L1110.7 1175.6L1110.7 1180.2L1095.5 1170.1ZM1110.6 1171.8L1125.8 1182.1L1125.8 1186.7L1110.7 1176.5ZM1125.8 1179.2L1141 1189.7L1141 1194.3L1125.8 1184ZM1140.9 1185.8L1156.1 1196.4L1156.1 1201.1L1141 1190.6ZM1156.1 1193.5L1171.2 1204.3L1171.3 1208L1156.1 1197.4ZM1171.2 1200.4L1186.4 1211.4L1186.4 1215.1L1171.2 1204.3ZM1186.4 1208.5L1201.5 1219.7L1201.5 1221.5L1186.4 1210.5ZM1201.5 1215.8L1216.7 1227.2L1216.7 1229L1201.5 1217.7ZM1216.6 1222.3L1231.8 1233.9L1231.8 1235.8L1216.6 1224.3ZM1231.7 1230.1L1246.9 1242L1246.9 1242.9L1231.8 1231ZM1246.9 1237.1L1262 1249.3L1262.1 1250.3L1246.9 1238.1Z"/>
<path fill="#009fff" d="M1019.7 1127.4L1034.9 1137.2L1034.9 1140.9L1019.7 1131.3ZM1034.9 1134.2L1050 1144.1L1050.1 1147.9L1034.9 1138.1ZM1050 1142.1L1065.2 1152.1L1065.2 1154.9L1050 1145.1ZM1065.2 1149.1L1080.3 1159.2L1080.4 1162L1065.2 1152.1ZM1080.3 1156.2L1095.5 1166.4L1095.5 1168.3L1080.3 1158.2ZM1095.5 1163.4L1110.6 1173.7L1110.7 1175.6L1095.5 1165.4ZM1110.6 1170.8L1125.8 1181.2L1125.8 1182.1L1110.6 1171.8ZM1125.8 1178.2L1140.9 1188.7L1141 1189.7L1125.8 1179.2Z"/>
<g stroke-width="0.72">
<path stroke="#009fff" d="M1307.1 1254.1L1322.3 1269.2"/>
<path stroke="#00afff" d="M1307.1 1252.9L1322.3 1268.2"/>
<path stroke="#00bfff" d="M1291.9 1237.6L1307.1 1252.9M1292 1238.9L1307.1 1254.1"/>
<path stroke="#00dfff" d="M1276.8 1222.4L1291.9 1237.6M1276.8 1223.8L1292 1238.9"/>
<path stroke="#00ffff" d="M1261.6 1207.1L1276.8 1222.4M1261.6 1208.6L1276.8 1223.8"/>
<path stroke="#10ffef" d="M1246.4 1193.4L1261.6 1208.6"/>
<path stroke="#20ffdf" d="M1246.4 1191.8L1261.6 1207.1"/>
<path stroke="#30ffcf" d="M1231.3 1178.3L1246.4 1193.4"/>
<path stroke="#40ffbf" d="M1231.2 1176.5L1246.4 1191.8"/>
<path stroke="#50ffaf" d="M1216.1 1161.3L1231.2 1176.5M1216.1 1163.1L1231.3 1178.3"/>
<path stroke="#70ff8f" d="M1200.9 1146L1216.1 1161.3M1200.9 1148L1216.1 1163.1"/>
<path stroke="#8fff70" d="M1185.7 1130.7L1200.9 1146M1185.7 1132.8L1200.9 1148"/>
<path stroke="#afff50" d="M1170.5 1115.5L1185.7 1130.7M1170.6 1117.6L1185.7 1132.8"/>
<path stroke="#bfff40" d="M1155.4 1102.5L1170.6 1117.6"/>
<path stroke="#cfff30" d="M1155.4 1100.2L1170.5 1115.5"/>
<path stroke="#dfff20" d="M1140.2 1087.3L1155.4 1102.5"/>
<path stroke="#efff10" d="M1140.2 1084.9L1155.4 1100.2"/>
<path stroke="#ffff00" d="M1125 1069.7L1140.2 1084.9M1125 1072.2L1140.2 1087.3"/>
<path stroke="#ffdf00" d="M1109.8 1054.4L1125 1069.7M1109.9 1057L1125 1072.2"/>
<path stroke="#ffbf00" d="M1094.7 1039.1L1109.8 1054.4M1094.7 1041.8L1109.9 1057"/>
<path stroke="#ffaf00" d="M1079.5 1026.7L1094.7 1041.8"/>
<path stroke="#ff9f00" d="M1079.5 1023.9L1094.7 1039.1"/>
<path stroke="#ff8f00" d="M1064.3 1011.5L1079.5 1026.7"/>
<path stroke="#ff8000" d="M1064.3 1008.6L1079.5 1023.9"/>
<path stroke="#ff7000" d="M1049.2 996.4L1064.3 1011.5"/>
<path stroke="#ff6000" d="M1049.1 993.3L1064.3 1008.6"/>
<path stroke="#ff5000" d="M1034 978.1L1049.1 993.3M1034 981.2L1049.2 996.4"/>
<path stroke="#ff3000" d="M1018.8 962.8L1034 978.1M1018.8 966L1034 981.2"/>
</g>
<g stroke-width="0.78">
<path stroke="#0080ff" d="M1277.1 1251.2L1292.3 1264.3M1277.1 1252.2L1292.3 1265.2M1292.2 1257.4L1307.3 1271M1292.2 1258.4L1307.4 1271.9M1292.2 1259.4L1307.4 1272.8M1307.2 1263L1322.4 1277.3M1307.3 1264L1322.4 1278.3M1307.3 1265.1L1322.4 1279.2M1307.3 1266.1L1322.5 1280.2M1307.3 1267.1L1322.5 1281.1"/>
<path stroke="#008fff" d="M1261.9 1239.3L1277.1 1252.2M1261.9 1240.3L1277.1 1253.2M1261.9 1241.4L1277.1 1254.2M1262 1242.4L1277.1 1255.2M1262 1243.5L1277.1 1256.1M1277 1246L1292.2 1259.4M1277 1247.1L1292.2 1260.4M1277.1 1248.1L1292.2 1261.4M1277.1 1249.2L1292.2 1262.4M1277.1 1250.2L1292.2 1263.3M1292.1 1252L1307.3 1266.1M1292.1 1253.1L1307.3 1267.1M1292.1 1254.2L1307.3 1268.1M1292.1 1255.3L1307.3 1269.1M1292.2 1256.3L1307.3 1270M1307.2 1258.7L1322.4 1273.4M1307.2 1259.8L1322.4 1274.4M1307.2 1260.9L1322.4 1275.4M1307.2 1261.9L1322.4 1276.4"/>
<path stroke="#009fff" d="M1246.8 1227.5L1261.9 1240.3M1246.8 1228.6L1261.9 1241.4M1246.8 1229.7L1262 1242.4M1246.8 1230.8L1262 1243.5M1261.9 1234.8L1277.1 1248.1M1261.9 1236L1277.1 1249.2M1261.9 1237.1L1277.1 1250.2M1261.9 1238.2L1277.1 1251.2M1277 1241.5L1292.1 1255.3M1277 1242.6L1292.2 1256.3M1277 1243.8L1292.2 1257.4M1277 1244.9L1292.2 1258.4M1292.1 1247.5L1307.2 1261.9M1292.1 1248.7L1307.2 1263M1292.1 1249.8L1307.3 1264M1292.1 1250.9L1307.3 1265.1M1307.1 1255.2L1322.3 1270.3M1307.2 1256.4L1322.3 1271.3M1307.2 1257.5L1322.3 1272.4"/>
<path stroke="#00afff" d="M1231.6 1217L1246.8 1229.7M1231.6 1218.2L1246.8 1230.8M1246.7 1222.8L1261.9 1236M1246.7 1224L1261.9 1237.1M1246.7 1225.2L1261.9 1238.2M1246.7 1226.3L1261.9 1239.3M1261.8 1230.2L1277 1243.8M1261.8 1231.4L1277 1244.9M1261.8 1232.5L1277 1246M1261.9 1233.7L1277 1247.1M1276.9 1235.6L1292.1 1249.8M1276.9 1236.8L1292.1 1250.9M1276.9 1238L1292.1 1252M1276.9 1239.2L1292.1 1253.1M1277 1240.3L1292.1 1254.2M1292 1242.7L1307.2 1257.5M1292 1243.9L1307.2 1258.7M1292 1245.1L1307.2 1259.8M1292 1246.3L1307.2 1260.9M1307.1 1249.2L1322.2 1264.8M1307.1 1250.5L1322.3 1266M1307.1 1251.7L1322.3 1267.1"/>
<path stroke="#00bfff" d="M1216.4 1205.5L1231.6 1218.2M1231.6 1212.1L1246.7 1225.2M1231.6 1213.4L1246.7 1226.3M1231.6 1214.6L1246.8 1227.5M1231.6 1215.8L1246.8 1228.6M1246.7 1217.8L1261.8 1231.4M1246.7 1219.1L1261.8 1232.5M1246.7 1220.3L1261.9 1233.7M1246.7 1221.6L1261.9 1234.8M1261.8 1225.2L1276.9 1239.2M1261.8 1226.5L1277 1240.3M1261.8 1227.7L1277 1241.5M1261.8 1228.9L1277 1242.6M1276.9 1231.8L1292 1246.3M1276.9 1233.1L1292.1 1247.5M1276.9 1234.3L1292.1 1248.7M1292 1240.2L1307.1 1255.2M1292 1241.5L1307.2 1256.4M1307 1244.1L1322.2 1260.2M1307 1245.4L1322.2 1261.4M1307 1246.7L1322.2 1262.5M1307.1 1248L1322.2 1263.7"/>
<path stroke="#00cfff" d="M1216.4 1200.4L1231.6 1213.4M1216.4 1201.7L1231.6 1214.6M1216.4 1203L1231.6 1215.8M1216.4 1204.3L1231.6 1217M1231.5 1207L1246.7 1220.3M1231.5 1208.3L1246.7 1221.6M1231.5 1209.6L1246.7 1222.8M1231.5 1210.9L1246.7 1224M1246.6 1213.9L1261.8 1227.7M1246.6 1215.2L1261.8 1228.9M1246.6 1216.5L1261.8 1230.2M1261.7 1220L1276.9 1234.3M1261.7 1221.3L1276.9 1235.6M1261.7 1222.6L1276.9 1236.8M1261.8 1223.9L1276.9 1238M1276.8 1226.5L1292 1241.5M1276.8 1227.9L1292 1242.7M1276.8 1229.2L1292 1243.9M1276.9 1230.5L1292 1245.1M1291.9 1232.3L1307.1 1248M1291.9 1233.6L1307.1 1249.2M1291.9 1235L1307.1 1250.5M1291.9 1236.3L1307.1 1251.7M1306.9 1238.7L1322.1 1255.3M1307 1240.1L1322.1 1256.5M1307 1241.4L1322.1 1257.8M1307 1242.8L1322.2 1259"/>
<path stroke="#00dfff" d="M1201.2 1188.8L1216.4 1201.7M1201.2 1190.2L1216.4 1203M1201.3 1191.5L1216.4 1204.3M1201.3 1192.9L1216.4 1205.5M1216.4 1195L1231.5 1208.3M1216.4 1196.4L1231.5 1209.6M1216.4 1197.8L1231.5 1210.9M1216.4 1199.1L1231.6 1212.1M1231.5 1201.6L1246.6 1215.2M1231.5 1202.9L1246.6 1216.5M1231.5 1204.3L1246.7 1217.8M1231.5 1205.7L1246.7 1219.1M1246.6 1208.5L1261.7 1222.6M1246.6 1209.9L1261.8 1223.9M1246.6 1211.2L1261.8 1225.2M1246.6 1212.6L1261.8 1226.5M1261.7 1214.4L1276.8 1229.2M1261.7 1215.9L1276.9 1230.5M1261.7 1217.2L1276.9 1231.8M1261.7 1218.6L1276.9 1233.1M1276.7 1220.9L1291.9 1236.3M1276.8 1225.1L1292 1240.2M1291.8 1228L1307 1244.1M1291.8 1229.5L1307 1245.4M1291.9 1230.9L1307 1246.7M1306.9 1237.3L1322.1 1254"/>
<path stroke="#00efff" d="M1186.1 1177.4L1201.2 1190.2M1186.1 1178.8L1201.3 1191.5M1186.1 1180.2L1201.3 1192.9M1201.2 1184.6L1216.4 1197.8M1201.2 1186.1L1216.4 1199.1M1201.2 1187.5L1216.4 1200.4M1216.3 1190.8L1231.5 1204.3M1216.3 1192.2L1231.5 1205.7M1216.3 1193.6L1231.5 1207M1231.4 1197.3L1246.6 1211.2M1231.4 1198.7L1246.6 1212.6M1231.4 1200.1L1246.6 1213.9M1246.5 1204.2L1261.7 1218.6M1246.5 1205.6L1261.7 1220M1246.6 1207.1L1261.7 1221.3M1261.6 1210.1L1276.8 1225.1M1261.6 1211.6L1276.8 1226.5M1261.6 1213L1276.8 1227.9M1276.7 1216.5L1291.9 1232.3M1276.7 1218L1291.9 1233.6M1276.7 1219.5L1291.9 1235M1291.8 1222.1L1306.9 1238.7M1291.8 1223.6L1307 1240.1M1291.8 1225.1L1307 1241.4M1291.8 1226.6L1307 1242.8"/>
<path stroke="#00ffff" d="M1170.9 1166.1L1186.1 1178.8M1170.9 1167.6L1186.1 1180.2M1186 1173L1201.2 1186.1M1186 1174.5L1201.2 1187.5M1186.1 1176L1201.2 1188.8M1201.1 1178.8L1216.3 1192.2M1201.2 1180.3L1216.3 1193.6M1201.2 1181.8L1216.4 1195M1201.2 1183.2L1216.4 1196.4M1216.3 1186.4L1231.4 1200.1M1216.3 1187.9L1231.5 1201.6M1216.3 1189.3L1231.5 1202.9M1231.4 1192.8L1246.6 1207.1M1231.4 1194.3L1246.6 1208.5M1231.4 1195.8L1246.6 1209.9M1246.5 1199.7L1261.7 1214.4M1246.5 1201.2L1261.7 1215.9M1246.5 1202.7L1261.7 1217.2M1261.6 1205.5L1276.7 1220.9M1276.7 1212L1291.8 1228M1276.7 1213.5L1291.8 1229.5M1276.7 1215L1291.9 1230.9M1291.8 1220.6L1306.9 1237.3"/>
<path stroke="#10ffef" d="M1155.7 1154.9L1170.9 1167.6M1170.9 1161.5L1186 1174.5M1170.9 1163.1L1186.1 1176M1170.9 1164.6L1186.1 1177.4M1186 1168.5L1201.2 1181.8M1186 1170L1201.2 1183.2M1186 1171.5L1201.2 1184.6M1201.1 1174.2L1216.3 1187.9M1201.1 1175.7L1216.3 1189.3M1201.1 1177.3L1216.3 1190.8M1216.2 1181.8L1231.4 1195.8M1216.2 1183.3L1231.4 1197.3M1216.3 1184.8L1231.4 1198.7M1231.3 1188.2L1246.5 1202.7M1231.4 1189.7L1246.5 1204.2M1231.4 1191.3L1246.5 1205.6M1246.4 1195L1261.6 1210.1M1246.5 1196.6L1261.6 1211.6M1246.5 1198.2L1261.6 1213M1261.5 1200.8L1276.7 1216.5M1261.5 1202.4L1276.7 1218M1261.6 1204L1276.7 1219.5M1276.6 1207.2L1291.8 1223.6M1276.6 1208.8L1291.8 1225.1M1276.6 1210.4L1291.8 1226.6"/>
<path stroke="#20ffdf" d="M1155.7 1150.2L1170.9 1163.1M1155.7 1151.8L1170.9 1164.6M1155.7 1153.4L1170.9 1166.1M1170.8 1156.8L1186 1170M1170.8 1158.4L1186 1171.5M1170.9 1160L1186 1173M1186 1163.7L1201.1 1177.3M1186 1165.3L1201.1 1178.8M1186 1166.9L1201.2 1180.3M1201.1 1169.3L1216.2 1183.3M1201.1 1171L1216.3 1184.8M1201.1 1172.6L1216.3 1186.4M1216.2 1176.9L1231.4 1191.3M1216.2 1178.6L1231.4 1192.8M1216.2 1180.2L1231.4 1194.3M1231.3 1183.3L1246.5 1198.2M1231.3 1185L1246.5 1199.7M1231.3 1186.6L1246.5 1201.2M1246.4 1190.2L1261.6 1205.5M1261.5 1195.9L1276.7 1212M1261.5 1197.6L1276.7 1213.5M1261.5 1199.2L1276.7 1215M1276.6 1203.9L1291.8 1220.6M1276.6 1205.6L1291.8 1222.1"/>
<path stroke="#30ffcf" d="M1140.5 1139L1155.7 1151.8M1140.6 1140.6L1155.7 1153.4M1140.6 1142.2L1155.7 1154.9M1155.7 1145.3L1170.8 1158.4M1155.7 1147L1170.9 1160M1155.7 1148.6L1170.9 1161.5M1170.8 1151.9L1186 1165.3M1170.8 1153.6L1186 1166.9M1170.8 1155.2L1186 1168.5M1185.9 1158.8L1201.1 1172.6M1185.9 1160.5L1201.1 1174.2M1185.9 1162.1L1201.1 1175.7M1201 1164.3L1216.2 1178.6M1201 1166L1216.2 1180.2M1201.1 1167.7L1216.2 1181.8M1216.2 1171.9L1231.3 1186.6M1216.2 1173.6L1231.3 1188.2M1216.2 1175.3L1231.4 1189.7M1231.3 1180L1246.4 1195M1231.3 1181.7L1246.5 1196.6M1246.4 1185.1L1261.5 1200.8M1246.4 1186.8L1261.5 1202.4M1246.4 1188.5L1261.6 1204M1261.4 1190.7L1276.6 1207.2M1261.4 1192.5L1276.6 1208.8M1261.5 1194.2L1276.6 1210.4"/>
<path stroke="#40ffbf" d="M1125.4 1127.9L1140.6 1140.6M1125.4 1129.6L1140.6 1142.2M1140.5 1133.9L1155.7 1147M1140.5 1135.6L1155.7 1148.6M1140.5 1137.3L1155.7 1150.2M1155.6 1140.2L1170.8 1153.6M1155.7 1141.9L1170.8 1155.2M1155.7 1143.6L1170.8 1156.8M1170.8 1146.8L1185.9 1160.5M1170.8 1148.5L1185.9 1162.1M1170.8 1150.2L1186 1163.7M1185.9 1153.6L1201.1 1167.7M1185.9 1155.4L1201.1 1169.3M1185.9 1157.1L1201.1 1171M1201 1160.9L1216.2 1175.3M1201 1162.6L1216.2 1176.9M1216.1 1166.7L1231.3 1181.7M1216.1 1168.5L1231.3 1183.3M1216.1 1170.2L1231.3 1185M1231.2 1173L1246.4 1188.5M1231.2 1174.8L1246.4 1190.2M1246.3 1179.8L1261.5 1195.9M1246.3 1181.6L1261.5 1197.6M1246.3 1183.4L1261.5 1199.2M1261.4 1187.2L1276.6 1203.9M1261.4 1189L1276.6 1205.6"/>
<path stroke="#50ffaf" d="M1110.2 1115.2L1125.4 1127.9M1110.2 1116.9L1125.4 1129.6M1125.3 1122.7L1140.5 1135.6M1125.4 1124.5L1140.5 1137.3M1125.4 1126.2L1140.5 1139M1140.5 1128.7L1155.7 1141.9M1140.5 1130.4L1155.7 1143.6M1140.5 1132.2L1155.7 1145.3M1155.6 1136.7L1170.8 1150.2M1155.6 1138.5L1170.8 1151.9M1170.7 1143.2L1185.9 1157.1M1170.7 1145L1185.9 1158.8M1185.8 1148.3L1201 1162.6M1185.9 1150.1L1201 1164.3M1185.9 1151.9L1201 1166M1201 1155.5L1216.1 1170.2M1201 1157.3L1216.2 1171.9M1201 1159.1L1216.2 1173.6M1216.1 1164.9L1231.3 1180M1231.2 1169.4L1246.4 1185.1M1231.2 1171.2L1246.4 1186.8M1246.3 1174.3L1261.4 1190.7M1246.3 1176.2L1261.4 1192.5M1246.3 1178L1261.5 1194.2"/>
<path stroke="#60ff9f" d="M1095 1104.3L1110.2 1116.9M1110.2 1111.6L1125.4 1124.5M1110.2 1113.4L1125.4 1126.2M1125.3 1117.3L1140.5 1130.4M1125.3 1119.1L1140.5 1132.2M1125.3 1120.9L1140.5 1133.9M1140.4 1125L1155.6 1138.5M1140.5 1126.9L1155.6 1140.2M1155.6 1131.2L1170.7 1145M1155.6 1133.1L1170.8 1146.8M1155.6 1134.9L1170.8 1148.5M1170.7 1137.7L1185.9 1151.9M1170.7 1139.6L1185.9 1153.6M1170.7 1141.4L1185.9 1155.4M1185.8 1144.6L1201 1159.1M1185.8 1146.4L1201 1160.9M1200.9 1151.8L1216.1 1166.7M1200.9 1153.6L1216.1 1168.5M1216 1157.5L1231.2 1173M1216 1159.4L1231.2 1174.8M1231.1 1163.7L1246.3 1179.8M1231.1 1165.6L1246.3 1181.6M1231.2 1167.5L1246.3 1183.4M1246.2 1170.5L1261.4 1187.2M1246.2 1172.4L1261.4 1189"/>
<path stroke="#70ff8f" d="M1095 1100.6L1110.2 1113.4M1095 1102.5L1110.2 1115.2M1110.1 1106L1125.3 1119.1M1110.2 1107.9L1125.3 1120.9M1110.2 1109.7L1125.3 1122.7M1125.3 1113.5L1140.5 1126.9M1125.3 1115.4L1140.5 1128.7M1140.4 1119.4L1155.6 1133.1M1140.4 1121.3L1155.6 1134.9M1140.4 1123.2L1155.6 1136.7M1155.5 1125.5L1170.7 1139.6M1155.5 1127.4L1170.7 1141.4M1155.6 1129.3L1170.7 1143.2M1170.7 1133.9L1185.8 1148.3M1170.7 1135.8L1185.9 1150.1M1185.8 1138.8L1200.9 1153.6M1185.8 1140.7L1201 1155.5M1185.8 1142.7L1201 1157.3M1200.9 1149.9L1216.1 1164.9M1216 1151.7L1231.2 1167.5M1216 1153.7L1231.2 1169.4M1216 1155.6L1231.2 1171.2M1231.1 1159.8L1246.3 1176.2M1231.1 1161.8L1246.3 1178"/>
<path stroke="#80ff80" d="M1079.8 1087.8L1095 1100.6M1079.9 1089.7L1095 1102.5M1079.9 1091.6L1095 1104.3M1095 1094.8L1110.2 1107.9M1095 1096.8L1110.2 1109.7M1095 1098.7L1110.2 1111.6M1110.1 1102.1L1125.3 1115.4M1110.1 1104.1L1125.3 1117.3M1125.2 1107.7L1140.4 1121.3M1125.3 1109.6L1140.4 1123.2M1125.3 1111.6L1140.4 1125M1140.4 1115.5L1155.6 1129.3M1140.4 1117.4L1155.6 1131.2M1155.5 1121.6L1170.7 1135.8M1155.5 1123.6L1170.7 1137.7M1170.6 1128L1185.8 1142.7M1170.6 1130L1185.8 1144.6M1170.7 1132L1185.8 1146.4M1185.7 1134.8L1200.9 1149.9M1185.8 1136.8L1200.9 1151.8M1200.9 1142L1216 1157.5M1200.9 1144L1216 1159.4M1216 1147.7L1231.1 1163.7M1216 1149.7L1231.1 1165.6M1231 1153.8L1246.2 1170.5M1231.1 1155.8L1246.2 1172.4M1231.1 1157.9L1246.3 1174.3"/>
<path stroke="#8fff70" d="M1064.7 1077L1079.9 1089.7M1064.7 1079L1079.9 1091.6M1079.8 1083.8L1095 1096.8M1079.8 1085.8L1095 1098.7M1095 1090.9L1110.1 1104.1M1095 1092.9L1110.1 1106M1110.1 1096.1L1125.3 1109.6M1110.1 1098.1L1125.3 1111.6M1110.1 1100.1L1125.3 1113.5M1125.2 1103.7L1140.4 1117.4M1125.2 1105.7L1140.4 1119.4M1140.3 1109.4L1155.5 1123.6M1140.4 1111.5L1155.5 1125.5M1140.4 1113.5L1155.5 1127.4M1155.5 1117.5L1170.7 1132M1155.5 1119.6L1170.7 1133.9M1170.6 1124L1185.8 1138.8M1170.6 1126L1185.8 1140.7M1200.8 1135.9L1216 1151.7M1200.8 1137.9L1216 1153.7M1200.8 1140L1216 1155.6M1215.9 1143.5L1231.1 1159.8M1215.9 1145.6L1231.1 1161.8"/>
<path stroke="#9fff60" d="M1049.5 1066.3L1064.7 1079M1064.7 1072.9L1079.8 1085.8M1064.7 1075L1079.8 1087.8M1079.8 1079.8L1095 1092.9M1079.8 1081.8L1095 1094.8M1094.9 1084.7L1110.1 1098.1M1094.9 1086.8L1110.1 1100.1M1095 1088.8L1110.1 1102.1M1110.1 1092L1125.2 1105.7M1110.1 1094.1L1125.2 1107.7M1125.2 1099.5L1140.4 1113.5M1125.2 1101.6L1140.4 1115.5M1140.3 1105.2L1155.5 1119.6M1140.3 1107.3L1155.5 1121.6M1155.4 1111.3L1170.6 1126M1155.5 1113.4L1170.6 1128M1155.5 1115.5L1170.6 1130M1170.6 1119.8L1185.7 1134.8M1170.6 1121.9L1185.8 1136.8M1185.7 1124.4L1200.8 1140M1185.7 1126.5L1200.9 1142M1185.7 1128.7L1200.9 1144M1200.8 1131.6L1216 1147.7M1200.8 1133.7L1216 1149.7M1215.9 1137.1L1231 1153.8M1215.9 1139.3L1231.1 1155.8M1215.9 1141.4L1231.1 1157.9"/>
<path stroke="#afff50" d="M1034.3 1053.7L1049.5 1066.3M1049.5 1060.1L1064.7 1072.9M1049.5 1062.2L1064.7 1075M1049.5 1064.3L1064.7 1077M1064.6 1066.6L1079.8 1079.8M1064.6 1068.8L1079.8 1081.8M1064.6 1070.9L1079.8 1083.8M1079.8 1073.4L1094.9 1086.8M1079.8 1075.6L1095 1088.8M1079.8 1077.7L1095 1090.9M1094.9 1080.5L1110.1 1094.1M1094.9 1082.6L1110.1 1096.1M1110 1087.7L1125.2 1101.6M1110 1089.9L1125.2 1103.7M1125.2 1095.3L1140.3 1109.4M1125.2 1097.4L1140.4 1111.5M1140.3 1100.9L1155.5 1115.5M1140.3 1103.1L1155.5 1117.5M1155.4 1106.9L1170.6 1121.9M1155.4 1109.1L1170.6 1124M1170.5 1113.3L1185.7 1128.7M1185.6 1120L1200.8 1135.9M1185.7 1122.2L1200.8 1137.9M1200.7 1127.2L1215.9 1143.5M1200.8 1129.4L1215.9 1145.6"/>
<path stroke="#bfff40" d="M1034.3 1049.4L1049.5 1062.2M1034.3 1051.5L1049.5 1064.3M1049.5 1055.7L1064.6 1068.8M1049.5 1057.9L1064.6 1070.9M1064.6 1062.3L1079.8 1075.6M1064.6 1064.5L1079.8 1077.7M1079.7 1069.1L1094.9 1082.6M1079.7 1071.3L1094.9 1084.7M1094.9 1076.1L1110 1089.9M1094.9 1078.3L1110.1 1092M1110 1083.4L1125.2 1097.4M1110 1085.6L1125.2 1099.5M1125.1 1088.7L1140.3 1103.1M1125.1 1090.9L1140.3 1105.2M1125.2 1093.1L1140.3 1107.3M1140.3 1096.5L1155.4 1111.3M1140.3 1098.8L1155.5 1113.4M1155.4 1104.7L1170.6 1119.8M1170.5 1108.8L1185.7 1124.4M1170.5 1111.1L1185.7 1126.5M1185.6 1115.5L1200.8 1131.6M1185.6 1117.8L1200.8 1133.7M1200.7 1122.7L1215.9 1139.3M1200.7 1125L1215.9 1141.4"/>
<path stroke="#cfff30" d="M1019.2 1038.8L1034.3 1051.5M1019.2 1041L1034.3 1053.7M1034.3 1045L1049.5 1057.9M1034.3 1047.2L1049.5 1060.1M1049.4 1051.3L1064.6 1064.5M1049.4 1053.5L1064.6 1066.6M1064.6 1057.8L1079.7 1071.3M1064.6 1060.1L1079.8 1073.4M1079.7 1064.6L1094.9 1078.3M1079.7 1066.8L1094.9 1080.5M1094.8 1071.6L1110 1085.6M1094.9 1073.9L1110 1087.7M1110 1078.9L1125.2 1093.1M1110 1081.1L1125.2 1095.3M1125.1 1084.1L1140.3 1098.8M1125.1 1086.4L1140.3 1100.9M1140.2 1092L1155.4 1106.9M1140.2 1094.3L1155.4 1109.1M1155.3 1097.9L1170.5 1113.3M1170.5 1104.2L1185.6 1120M1170.5 1106.5L1185.7 1122.2M1185.6 1110.9L1200.7 1127.2M1185.6 1113.2L1200.8 1129.4M1200.7 1120.4L1215.9 1137.1"/>
<path stroke="#dfff20" d="M1019.1 1032L1034.3 1045M1019.1 1034.3L1034.3 1047.2M1019.1 1036.6L1034.3 1049.4M1034.3 1040.4L1049.4 1053.5M1034.3 1042.7L1049.5 1055.7M1049.4 1046.7L1064.6 1060.1M1049.4 1049L1064.6 1062.3M1064.5 1053.2L1079.7 1066.8M1064.6 1055.5L1079.7 1069.1M1079.7 1060L1094.9 1073.9M1079.7 1062.3L1094.9 1076.1M1094.8 1067L1110 1081.1M1094.8 1069.3L1110 1083.4M1110 1074.2L1125.1 1088.7M1110 1076.6L1125.1 1090.9M1125.1 1079.4L1140.2 1094.3M1125.1 1081.8L1140.3 1096.5M1140.2 1089.7L1155.4 1104.7M1155.3 1093.2L1170.5 1108.8M1155.3 1095.6L1170.5 1111.1M1170.4 1099.4L1185.6 1115.5M1170.4 1101.8L1185.6 1117.8M1185.5 1106.1L1200.7 1122.7M1185.6 1108.5L1200.7 1125"/>
<path stroke="#efff10" d="M1019.1 1027.3L1034.3 1040.4M1019.1 1029.7L1034.3 1042.7M1034.3 1035.8L1049.4 1049M1034.3 1038.1L1049.4 1051.3M1049.4 1042L1064.6 1055.5M1049.4 1044.4L1064.6 1057.8M1064.5 1048.5L1079.7 1062.3M1064.5 1050.9L1079.7 1064.6M1079.7 1055.2L1094.8 1069.3M1079.7 1057.6L1094.8 1071.6M1094.8 1062.2L1110 1076.6M1094.8 1064.6L1110 1078.9M1109.9 1069.5L1125.1 1084.1M1109.9 1071.9L1125.1 1086.4M1125 1074.6L1140.2 1089.7M1125.1 1077L1140.2 1092M1140.2 1082.5L1155.3 1097.9M1155.3 1088.3L1170.5 1104.2M1155.3 1090.8L1170.5 1106.5M1170.4 1094.6L1185.6 1110.9M1170.4 1097L1185.6 1113.2M1185.5 1103.7L1200.7 1120.4"/>
<path stroke="#ffff00" d="M1019.1 1024.9L1034.3 1038.1M1034.2 1031L1049.4 1044.4M1034.2 1033.4L1049.4 1046.7M1049.4 1037.2L1064.5 1050.9M1049.4 1039.6L1064.5 1053.2M1064.5 1043.7L1079.7 1057.6M1064.5 1046.1L1079.7 1060M1079.6 1050.4L1094.8 1064.6M1079.6 1052.8L1094.8 1067M1094.8 1057.3L1109.9 1071.9M1094.8 1059.8L1110 1074.2M1109.9 1064.6L1125.1 1079.4M1109.9 1067L1125.1 1081.8M1140.1 1077.6L1155.3 1093.2M1140.2 1080.1L1155.3 1095.6M1155.3 1083.4L1170.4 1099.4M1155.3 1085.9L1170.4 1101.8M1170.4 1089.6L1185.5 1106.1M1170.4 1092.1L1185.6 1108.5"/>
<path stroke="#ffef00" d="M1019.1 1020L1034.2 1033.4M1019.1 1022.5L1034.3 1035.8M1034.2 1026L1049.4 1039.6M1034.2 1028.5L1049.4 1042M1049.3 1032.2L1064.5 1046.1M1049.3 1034.7L1064.5 1048.5M1064.5 1038.7L1079.6 1052.8M1064.5 1041.2L1079.7 1055.2M1079.6 1045.4L1094.8 1059.8M1079.6 1047.9L1094.8 1062.2M1094.7 1052.3L1109.9 1067M1094.8 1054.8L1109.9 1069.5M1109.9 1059.6L1125 1074.6M1109.9 1062.1L1125.1 1077M1125 1067.1L1140.2 1082.5M1140.1 1072.5L1155.3 1088.3M1140.1 1075.1L1155.3 1090.8M1155.2 1078.3L1170.4 1094.6M1155.2 1080.8L1170.4 1097M1170.3 1087L1185.5 1103.7"/>
<path stroke="#ffdf00" d="M1019 1015L1034.2 1028.5M1019 1017.5L1034.2 1031M1034.2 1020.9L1049.3 1034.7M1034.2 1023.5L1049.4 1037.2M1049.3 1027.1L1064.5 1041.2M1049.3 1029.7L1064.5 1043.7M1064.4 1033.5L1079.6 1047.9M1064.5 1036.1L1079.6 1050.4M1079.6 1040.2L1094.8 1054.8M1079.6 1042.8L1094.8 1057.3M1094.7 1047.1L1109.9 1062.1M1094.7 1049.7L1109.9 1064.6M1125 1062L1140.1 1077.6M1125 1064.6L1140.2 1080.1M1140.1 1067.3L1155.3 1083.4M1140.1 1069.9L1155.3 1085.9M1155.2 1073L1170.4 1089.6M1155.2 1075.6L1170.4 1092.1"/>
<path stroke="#ffcf00" d="M1019 1009.8L1034.2 1023.5M1019 1012.4L1034.2 1026M1034.1 1015.7L1049.3 1029.7M1034.2 1018.4L1049.3 1032.2M1049.3 1024.5L1064.5 1038.7M1064.4 1030.9L1079.6 1045.4M1079.6 1037.6L1094.7 1052.3M1094.7 1044.5L1109.9 1059.6M1109.8 1049.1L1125 1064.6M1109.8 1051.8L1125 1067.1M1124.9 1056.7L1140.1 1072.5M1125 1059.3L1140.1 1075.1M1140 1061.9L1155.2 1078.3M1140.1 1064.6L1155.2 1080.8M1155.2 1070.3L1170.3 1087"/>
<path stroke="#ffbf00" d="M1019 1004.5L1034.2 1018.4M1019 1007.2L1034.2 1020.9M1034.1 1013.1L1049.3 1027.1M1049.3 1019.2L1064.4 1033.5M1049.3 1021.9L1064.5 1036.1M1064.4 1025.6L1079.6 1040.2M1064.4 1028.3L1079.6 1042.8M1079.5 1032.2L1094.7 1047.1M1079.5 1034.9L1094.7 1049.7M1109.8 1046.4L1125 1062M1124.9 1051.2L1140.1 1067.3M1124.9 1054L1140.1 1069.9M1140 1059.2L1155.2 1075.6"/>
<path stroke="#ffaf00" d="M1019 1001.8L1034.1 1015.7M1034.1 1007.6L1049.3 1021.9M1034.1 1010.4L1049.3 1024.5M1049.2 1013.7L1064.4 1028.3M1049.3 1016.5L1064.4 1030.9M1064.4 1020.1L1079.5 1034.9M1064.4 1022.8L1079.6 1037.6M1079.5 1029.5L1094.7 1044.5M1094.6 1033.6L1109.8 1049.1M1094.6 1036.4L1109.8 1051.8M1109.8 1040.8L1124.9 1056.7M1109.8 1043.6L1125 1059.3M1124.9 1048.4L1140.1 1064.6M1140 1053.6L1155.2 1070.3M1140 1056.4L1155.2 1073"/>
<path stroke="#ff9f00" d="M1018.9 996.2L1034.1 1010.4M1019 999L1034.1 1013.1M1034.1 1002L1049.3 1016.5M1034.1 1004.8L1049.3 1019.2M1049.2 1008.1L1064.4 1022.8M1049.2 1010.9L1064.4 1025.6M1064.4 1017.3L1079.5 1032.2M1094.6 1027.9L1109.8 1043.6M1094.6 1030.8L1109.8 1046.4M1109.7 1035.1L1124.9 1051.2M1109.7 1038L1124.9 1054M1124.9 1042.8L1140 1059.2M1124.9 1045.6L1140 1061.9"/>
<path stroke="#ff8f00" d="M1018.9 990.5L1034.1 1004.8M1018.9 993.4L1034.1 1007.6M1034.1 999.2L1049.2 1013.7M1049.2 1005.2L1064.4 1020.1M1064.3 1014.4L1079.5 1029.5M1079.5 1018.1L1094.6 1033.6M1079.5 1021L1094.6 1036.4M1094.6 1025L1109.8 1040.8M1109.7 1032.2L1124.9 1048.4M1124.8 1036.9L1140 1053.6M1124.8 1039.9L1140 1056.4"/>
<path stroke="#ff8000" d="M1018.9 987.6L1034.1 1002M1034 993.4L1049.2 1008.1M1034.1 996.3L1049.2 1010.9M1049.2 999.4L1064.3 1014.4M1049.2 1002.3L1064.4 1017.3M1064.3 1005.6L1079.5 1021M1079.4 1012.2L1094.6 1027.9M1079.4 1015.2L1094.6 1030.8M1094.6 1019.1L1109.7 1035.1M1094.6 1022.1L1109.7 1038M1109.7 1026.3L1124.9 1042.8M1109.7 1029.3L1124.9 1045.6"/>
<path stroke="#ff7000" d="M1018.9 981.6L1034.1 996.3M1018.9 984.6L1034.1 999.2M1034 987.4L1049.2 1002.3M1034 990.4L1049.2 1005.2M1064.3 1002.6L1079.5 1018.1M1079.4 1009.2L1094.6 1025M1094.5 1016L1109.7 1032.2M1109.7 1020.2L1124.8 1036.9M1109.7 1023.3L1124.8 1039.9"/>
<path stroke="#ff6000" d="M1018.9 978.6L1034 993.4M1034 984.3L1049.2 999.4M1049.1 990.2L1064.3 1005.6M1064.3 996.5L1079.4 1012.2M1064.3 999.6L1079.4 1015.2M1079.4 1003L1094.6 1019.1M1079.4 1006.1L1094.6 1022.1M1094.5 1009.9L1109.7 1026.3M1094.5 1013L1109.7 1029.3"/>
<path stroke="#ff5000" d="M1018.8 972.4L1034 987.4M1018.8 975.5L1034 990.4M1049.1 987.1L1064.3 1002.6M1064.2 993.3L1079.4 1009.2M1079.4 999.9L1094.5 1016M1094.5 1006.7L1109.7 1023.3"/>
<path stroke="#ff4000" d="M1018.8 969.2L1034 984.3M1033.9 974.9L1049.1 990.2M1049.1 980.8L1064.3 996.5M1049.1 984L1064.3 999.6M1064.2 986.9L1079.4 1003M1064.2 990.2L1079.4 1006.1M1079.3 993.4L1094.5 1009.9M1079.3 996.7L1094.5 1013M1094.5 1003.5L1109.7 1020.2"/>
<path stroke="#ff3000" d="M1033.9 968.4L1049.1 984M1033.9 971.6L1049.1 987.1M1049.1 977.5L1064.2 993.3M1064.2 983.7L1079.4 999.9M1079.3 990.1L1094.5 1006.7"/>
<path stroke="#ff2000" d="M1018.8 959.5L1033.9 974.9M1033.9 965L1049.1 980.8M1049 970.9L1064.2 986.9M1049 974.2L1064.2 990.2M1064.2 977L1079.3 993.4M1064.2 980.3L1079.3 996.7M1079.3 986.8L1094.5 1003.5"/>
<path stroke="#ff1000" d="M1018.7 952.8L1033.9 968.4M1018.8 956.1L1033.9 971.6M1033.9 961.7L1049.1 977.5M1049 967.5L1064.2 983.7M1064.1 973.6L1079.3 990.1"/>
<path stroke="#ff0000" d="M1018.7 949.3L1033.9 965M1033.9 954.8L1049 970.9M1033.9 958.2L1049 974.2M1049 964L1064.2 980.3M1064.1 970.1L1079.3 986.8"/>
<path stroke="#ef0000" d="M1018.7 945.8L1033.9 961.7M1033.8 951.3L1049 967.5M1049 957L1064.1 973.6M1049 960.5L1064.2 977"/>
<path stroke="#df0000" d="M1018.7 938.7L1033.9 954.8M1018.7 942.3L1033.9 958.2M1033.8 947.7L1049 964M1049 953.4L1064.1 970.1"/>
<path stroke="#cf0000" d="M1018.7 935.1L1033.8 951.3M1033.8 940.4L1049 957M1033.8 944.1L1049 960.5"/>
<path stroke="#bf0000" d="M1018.6 931.4L1033.8 947.7M1033.8 936.7L1049 953.4"/>
<path stroke="#af0000" d="M1018.6 927.6L1033.8 944.1"/>
<path stroke="#9f0000" d="M1018.6 920L1033.8 936.7M1018.6 923.9L1033.8 940.4"/>
</g>
<g stroke-width="0.84">
<path stroke="#0080ff" d="M1262 1244.5L1277.2 1257.1"/>
<path stroke="#008fff" d="M1140.9 1185.8L1156.1 1196.4M1156.1 1192.5L1171.2 1203.4M1156.1 1193.5L1171.2 1204.3M1171.2 1199.4L1186.4 1210.5M1171.2 1200.4L1186.4 1211.4M1186.3 1206.5L1201.5 1217.7M1186.3 1207.5L1201.5 1218.7M1186.4 1208.5L1201.5 1219.7M1201.5 1212.7L1216.6 1224.3M1201.5 1213.8L1216.6 1225.2M1201.5 1214.8L1216.7 1226.2M1201.5 1215.8L1216.7 1227.2M1216.6 1219.2L1231.8 1231M1216.6 1220.2L1231.8 1232M1216.6 1221.3L1231.8 1233M1216.6 1222.3L1231.8 1233.9M1231.7 1225.9L1246.9 1238.1M1231.7 1227L1246.9 1239.1M1231.7 1228L1246.9 1240.1M1231.7 1229L1246.9 1241M1231.7 1230.1L1246.9 1242M1246.8 1233L1262 1245.5M1246.8 1234L1262 1246.5M1246.8 1235.1L1262 1247.4M1246.9 1236.1L1262 1248.4M1246.9 1237.1L1262 1249.3"/>
<path stroke="#009fff" d="M1095.4 1160.4L1110.6 1170.8M1095.5 1161.4L1110.6 1171.8M1095.5 1162.4L1110.6 1172.7M1110.6 1167.7L1125.8 1178.2M1110.6 1168.7L1125.8 1179.2M1110.6 1169.7L1125.8 1180.2M1110.6 1170.8L1125.8 1181.2M1125.7 1174.1L1140.9 1184.8M1125.7 1175.1L1140.9 1185.8M1125.8 1176.2L1140.9 1186.8M1125.8 1177.2L1140.9 1187.8M1125.8 1178.2L1140.9 1188.7M1140.9 1181.7L1156.1 1192.5M1140.9 1182.7L1156.1 1193.5M1140.9 1183.7L1156.1 1194.5M1140.9 1184.8L1156.1 1195.5M1156 1188.4L1171.2 1199.4M1156 1189.4L1171.2 1200.4M1156 1190.5L1171.2 1201.4M1156 1191.5L1171.2 1202.4M1171.1 1194.1L1186.3 1205.5M1171.2 1195.2L1186.3 1206.5M1171.2 1196.3L1186.3 1207.5M1171.2 1197.3L1186.4 1208.5M1171.2 1198.4L1186.4 1209.5M1186.3 1201.2L1201.5 1212.7M1186.3 1202.3L1201.5 1213.8M1186.3 1203.4L1201.5 1214.8M1186.3 1204.4L1201.5 1215.8M1186.3 1205.5L1201.5 1216.8M1201.4 1208.5L1216.6 1220.2M1201.4 1209.6L1216.6 1221.3M1201.4 1210.6L1216.6 1222.3M1201.4 1211.7L1216.6 1223.3M1216.5 1214.9L1231.7 1227M1216.5 1216L1231.7 1228M1216.6 1217.1L1231.7 1229M1216.6 1218.2L1231.7 1230.1M1231.7 1221.6L1246.8 1234M1231.7 1222.7L1246.8 1235.1M1231.7 1223.8L1246.9 1236.1M1231.7 1224.9L1246.9 1237.1M1246.8 1231.9L1262 1244.5"/>
<path stroke="#00afff" d="M1080.3 1148.9L1095.4 1159.3M1080.3 1150L1095.4 1160.4M1080.3 1151L1095.5 1161.4M1080.3 1152.1L1095.5 1162.4M1095.4 1156L1110.6 1166.6M1095.4 1157.1L1110.6 1167.7M1095.4 1158.2L1110.6 1168.7M1095.4 1159.3L1110.6 1169.7M1110.6 1163.4L1125.7 1174.1M1110.6 1164.5L1125.7 1175.1M1110.6 1165.5L1125.8 1176.2M1110.6 1166.6L1125.8 1177.2M1125.7 1169.7L1140.9 1180.6M1125.7 1170.8L1140.9 1181.7M1125.7 1171.9L1140.9 1182.7M1125.7 1173L1140.9 1183.7M1140.8 1176.2L1156 1187.3M1140.8 1177.3L1156 1188.4M1140.9 1178.4L1156 1189.4M1140.9 1179.5L1156 1190.5M1140.9 1180.6L1156 1191.5M1156 1182.8L1171.1 1194.1M1156 1184L1171.2 1195.2M1156 1185.1L1171.2 1196.3M1156 1186.2L1171.2 1197.3M1156 1187.3L1171.2 1198.4M1171.1 1189.6L1186.3 1201.2M1171.1 1190.8L1186.3 1202.3M1171.1 1191.9L1186.3 1203.4M1171.1 1193L1186.3 1204.4M1186.2 1196.7L1201.4 1208.5M1186.3 1197.8L1201.4 1209.6M1186.3 1199L1201.4 1210.6M1186.3 1200.1L1201.4 1211.7M1201.4 1202.8L1216.5 1214.9M1201.4 1204L1216.5 1216M1201.4 1205.1L1216.6 1217.1M1201.4 1206.2L1216.6 1218.2M1201.4 1207.4L1216.6 1219.2M1216.5 1210.3L1231.7 1222.7M1216.5 1211.5L1231.7 1223.8M1216.5 1212.6L1231.7 1224.9M1216.5 1213.8L1231.7 1225.9M1231.6 1219.3L1246.8 1231.9M1231.6 1220.5L1246.8 1233"/>
<path stroke="#00bfff" d="M1049.9 1130.3L1065.1 1140.7M1049.9 1131.5L1065.1 1141.8M1065.1 1137.3L1080.3 1147.7M1065.1 1138.4L1080.3 1148.9M1065.1 1139.6L1080.3 1150M1065.1 1140.7L1080.3 1151M1065.1 1141.8L1080.3 1152.1M1080.2 1144.3L1095.4 1154.9M1080.2 1145.5L1095.4 1156M1080.2 1146.6L1095.4 1157.1M1080.3 1147.7L1095.4 1158.2M1095.4 1151.5L1110.6 1162.2M1095.4 1152.6L1110.6 1163.4M1095.4 1153.8L1110.6 1164.5M1095.4 1154.9L1110.6 1165.5M1110.5 1157.6L1125.7 1168.6M1110.5 1158.8L1125.7 1169.7M1110.5 1160L1125.7 1170.8M1110.5 1161.1L1125.7 1171.9M1110.6 1162.2L1125.7 1173M1125.7 1165.1L1140.8 1176.2M1125.7 1166.2L1140.8 1177.3M1125.7 1167.4L1140.9 1178.4M1125.7 1168.6L1140.9 1179.5M1140.8 1171.5L1156 1182.8M1140.8 1172.7L1156 1184M1140.8 1173.9L1156 1185.1M1140.8 1175L1156 1186.2M1155.9 1178.1L1171.1 1189.6M1155.9 1179.3L1171.1 1190.8M1156 1180.5L1171.1 1191.9M1156 1181.7L1171.1 1193M1171.1 1184.9L1186.2 1196.7M1171.1 1186.1L1186.3 1197.8M1171.1 1187.3L1186.3 1199M1171.1 1188.5L1186.3 1200.1M1186.2 1191.9L1201.4 1204M1186.2 1193.1L1201.4 1205.1M1186.2 1194.3L1201.4 1206.2M1186.2 1195.5L1201.4 1207.4M1201.3 1198L1216.5 1210.3M1201.3 1199.2L1216.5 1211.5M1201.3 1200.4L1216.5 1212.6M1201.4 1201.6L1216.5 1213.8M1216.5 1206.7L1231.6 1219.3M1216.5 1208L1231.6 1220.5M1216.5 1209.1L1231.7 1221.6"/>
<path stroke="#00cfff" d="M1034.7 1118.7L1049.9 1129.1M1034.8 1120L1049.9 1130.3M1034.8 1121.2L1049.9 1131.5M1049.9 1125.5L1065.1 1136.1M1049.9 1126.8L1065.1 1137.3M1049.9 1128L1065.1 1138.4M1049.9 1129.1L1065.1 1139.6M1065 1132.5L1080.2 1143.1M1065.1 1133.7L1080.2 1144.3M1065.1 1134.9L1080.2 1145.5M1065.1 1136.1L1080.2 1146.6M1080.2 1139.5L1095.4 1150.3M1080.2 1140.7L1095.4 1151.5M1080.2 1141.9L1095.4 1152.6M1080.2 1143.1L1095.4 1153.8M1095.3 1146.7L1110.5 1157.6M1095.3 1147.9L1110.5 1158.8M1095.4 1149.1L1110.5 1160M1095.4 1150.3L1110.5 1161.1M1110.5 1154L1125.7 1165.1M1110.5 1155.2L1125.7 1166.2M1110.5 1156.4L1125.7 1167.4M1125.6 1160.2L1140.8 1171.5M1125.6 1161.4L1140.8 1172.7M1125.6 1162.7L1140.8 1173.9M1125.7 1163.9L1140.8 1175M1140.8 1166.6L1155.9 1178.1M1140.8 1167.8L1155.9 1179.3M1140.8 1169.1L1156 1180.5M1140.8 1170.3L1156 1181.7M1155.9 1173.1L1171.1 1184.9M1155.9 1174.4L1171.1 1186.1M1155.9 1175.7L1171.1 1187.3M1155.9 1176.9L1171.1 1188.5M1171 1179.9L1186.2 1191.9M1171 1181.2L1186.2 1193.1M1171 1182.4L1186.2 1194.3M1171.1 1183.7L1186.2 1195.5M1186.2 1186.9L1201.3 1199.2M1186.2 1188.2L1201.3 1200.4M1186.2 1189.4L1201.4 1201.6M1186.2 1190.7L1201.4 1202.8M1201.3 1194.2L1216.5 1206.7M1201.3 1195.4L1216.5 1208M1201.3 1196.7L1216.5 1209.1"/>
<path stroke="#00dfff" d="M1019.6 1108.3L1034.7 1118.7M1019.6 1109.6L1034.8 1120M1019.6 1110.8L1034.8 1121.2M1034.7 1115L1049.9 1125.5M1034.7 1116.3L1049.9 1126.8M1034.7 1117.5L1049.9 1128M1049.9 1121.8L1065 1132.5M1049.9 1123.1L1065.1 1133.7M1049.9 1124.3L1065.1 1134.9M1065 1128.7L1080.2 1139.5M1065 1130L1080.2 1140.7M1065 1131.2L1080.2 1141.9M1080.2 1135.7L1095.3 1146.7M1080.2 1137L1095.3 1147.9M1080.2 1138.2L1095.4 1149.1M1095.3 1141.6L1110.5 1152.7M1095.3 1142.9L1110.5 1154M1095.3 1144.1L1110.5 1155.2M1095.3 1145.4L1110.5 1156.4M1110.4 1148.9L1125.6 1160.2M1110.5 1150.2L1125.6 1161.4M1110.5 1151.5L1125.6 1162.7M1110.5 1152.7L1125.7 1163.9M1125.6 1155L1140.8 1166.6M1125.6 1156.3L1140.8 1167.8M1125.6 1157.6L1140.8 1169.1M1125.6 1158.9L1140.8 1170.3M1140.7 1162.7L1155.9 1174.4M1140.7 1164L1155.9 1175.7M1140.7 1165.3L1155.9 1176.9M1155.9 1169.2L1171 1181.2M1155.9 1170.5L1171 1182.4M1155.9 1171.8L1171.1 1183.7M1171 1176L1186.2 1188.2M1171 1177.3L1186.2 1189.4M1171 1178.6L1186.2 1190.7M1186.1 1182.9L1201.3 1195.4M1186.1 1184.3L1201.3 1196.7M1186.1 1185.6L1201.3 1198"/>
<path stroke="#00efff" d="M1019.5 1103.2L1034.7 1113.7M1019.5 1104.5L1034.7 1115M1019.6 1105.8L1034.7 1116.3M1019.6 1107.1L1034.7 1117.5M1034.7 1109.8L1049.9 1120.5M1034.7 1111.1L1049.9 1121.8M1034.7 1112.4L1049.9 1123.1M1034.7 1113.7L1049.9 1124.3M1049.8 1116.5L1065 1127.4M1049.8 1117.9L1065 1128.7M1049.9 1119.2L1065 1130M1049.9 1120.5L1065 1131.2M1065 1123.4L1080.2 1134.4M1065 1124.8L1080.2 1135.7M1065 1126.1L1080.2 1137M1065 1127.4L1080.2 1138.2M1080.1 1130.4L1095.3 1141.6M1080.1 1131.8L1095.3 1142.9M1080.1 1133.1L1095.3 1144.1M1080.2 1134.4L1095.3 1145.4M1095.3 1137.6L1110.4 1148.9M1095.3 1138.9L1110.5 1150.2M1095.3 1140.2L1110.5 1151.5M1110.4 1143.5L1125.6 1155M1110.4 1144.9L1125.6 1156.3M1110.4 1146.2L1125.6 1157.6M1110.4 1147.6L1125.6 1158.9M1125.6 1151L1140.7 1162.7M1125.6 1152.3L1140.7 1164M1125.6 1153.7L1140.7 1165.3M1140.7 1157.2L1155.9 1169.2M1140.7 1158.6L1155.9 1170.5M1140.7 1160L1155.9 1171.8M1140.7 1161.3L1155.9 1173.1M1155.8 1163.7L1171 1176M1155.8 1165.1L1171 1177.3M1155.8 1166.5L1171 1178.6M1155.8 1167.9L1171 1179.9M1170.9 1170.4L1186.1 1182.9M1171 1171.8L1186.1 1184.3M1171 1173.2L1186.1 1185.6M1171 1174.6L1186.2 1186.9M1186.1 1181.6L1201.3 1194.2"/>
<path stroke="#00ffff" d="M1019.5 1099.1L1034.7 1109.8M1019.5 1100.5L1034.7 1111.1M1019.5 1101.8L1034.7 1112.4M1034.7 1105.7L1049.8 1116.5M1034.7 1107.1L1049.8 1117.9M1034.7 1108.4L1049.9 1119.2M1049.8 1112.4L1065 1123.4M1049.8 1113.8L1065 1124.8M1049.8 1115.2L1065 1126.1M1065 1119.3L1080.1 1130.4M1065 1120.7L1080.1 1131.8M1065 1122L1080.1 1133.1M1080.1 1126.2L1095.3 1137.6M1080.1 1127.6L1095.3 1138.9M1080.1 1129L1095.3 1140.2M1095.2 1131.9L1110.4 1143.5M1095.2 1133.4L1110.4 1144.9M1095.3 1134.8L1110.4 1146.2M1095.3 1136.2L1110.4 1147.6M1110.4 1139.2L1125.6 1151M1110.4 1140.7L1125.6 1152.3M1110.4 1142.1L1125.6 1153.7M1125.5 1146.7L1140.7 1158.6M1125.5 1148.2L1140.7 1160M1125.5 1149.6L1140.7 1161.3M1140.7 1153L1155.8 1165.1M1140.7 1154.4L1155.8 1166.5M1140.7 1155.8L1155.8 1167.9M1155.8 1159.4L1171 1171.8M1155.8 1160.9L1171 1173.2M1155.8 1162.3L1171 1174.6M1170.9 1169L1186.1 1181.6"/>
<path stroke="#10ffef" d="M1019.5 1093.4L1034.6 1104.3M1019.5 1094.8L1034.7 1105.7M1019.5 1096.3L1034.7 1107.1M1019.5 1097.7L1034.7 1108.4M1034.6 1099.9L1049.8 1111M1034.6 1101.4L1049.8 1112.4M1034.6 1102.9L1049.8 1113.8M1034.6 1104.3L1049.8 1115.2M1049.8 1108.1L1065 1119.3M1049.8 1109.6L1065 1120.7M1049.8 1111L1065 1122M1064.9 1114.9L1080.1 1126.2M1064.9 1116.4L1080.1 1127.6M1064.9 1117.8L1080.1 1129M1080.1 1120.4L1095.2 1131.9M1080.1 1121.9L1095.2 1133.4M1080.1 1123.4L1095.3 1134.8M1080.1 1124.8L1095.3 1136.2M1095.2 1127.5L1110.4 1139.2M1095.2 1129L1110.4 1140.7M1095.2 1130.5L1110.4 1142.1M1110.3 1134.8L1125.5 1146.7M1110.4 1136.3L1125.5 1148.2M1110.4 1137.8L1125.5 1149.6M1125.5 1140.8L1140.7 1153M1125.5 1142.3L1140.7 1154.4M1125.5 1143.8L1140.7 1155.8M1125.5 1145.3L1140.7 1157.2M1140.6 1148.5L1155.8 1160.9M1140.6 1150L1155.8 1162.3M1140.6 1151.5L1155.8 1163.7M1155.8 1156.4L1170.9 1169M1155.8 1157.9L1170.9 1170.4"/>
<path stroke="#20ffdf" d="M1019.4 1088.9L1034.6 1099.9M1019.5 1090.4L1034.6 1101.4M1019.5 1091.9L1034.6 1102.9M1034.6 1095.4L1049.8 1106.6M1034.6 1096.9L1049.8 1108.1M1034.6 1098.5L1049.8 1109.6M1049.7 1102.1L1064.9 1113.4M1049.7 1103.6L1064.9 1114.9M1049.8 1105.1L1064.9 1116.4M1049.8 1106.6L1064.9 1117.8M1064.9 1108.9L1080.1 1120.4M1064.9 1110.4L1080.1 1121.9M1064.9 1111.9L1080.1 1123.4M1064.9 1113.4L1080.1 1124.8M1080 1115.8L1095.2 1127.5M1080 1117.4L1095.2 1129M1080 1118.9L1095.2 1130.5M1095.2 1122.9L1110.3 1134.8M1095.2 1124.5L1110.4 1136.3M1095.2 1126L1110.4 1137.8M1110.3 1130.2L1125.5 1142.3M1110.3 1131.8L1125.5 1143.8M1110.3 1133.3L1125.5 1145.3M1125.4 1136.1L1140.6 1148.5M1125.5 1137.7L1140.6 1150M1125.5 1139.3L1140.6 1151.5M1140.6 1143.8L1155.8 1156.4M1140.6 1145.4L1155.8 1157.9M1140.6 1147L1155.8 1159.4"/>
<path stroke="#30ffcf" d="M1019.4 1084.2L1034.6 1095.4M1019.4 1085.8L1034.6 1096.9M1019.4 1087.3L1034.6 1098.5M1034.6 1090.7L1049.7 1102.1M1034.6 1092.3L1049.7 1103.6M1034.6 1093.9L1049.8 1105.1M1049.7 1097.3L1064.9 1108.9M1049.7 1098.9L1064.9 1110.4M1049.7 1100.5L1064.9 1111.9M1064.9 1105.7L1080 1117.4M1064.9 1107.3L1080 1118.9M1080 1111L1095.2 1122.9M1080 1112.6L1095.2 1124.5M1080 1114.2L1095.2 1126M1095.1 1118.1L1110.3 1130.2M1095.1 1119.7L1110.3 1131.8M1095.2 1121.3L1110.3 1133.3M1110.3 1125.4L1125.5 1137.7M1110.3 1127L1125.5 1139.3M1110.3 1128.6L1125.5 1140.8M1125.4 1131.3L1140.6 1143.8M1125.4 1132.9L1140.6 1145.4M1125.4 1134.5L1140.6 1147"/>
<path stroke="#40ffbf" d="M1019.4 1079.3L1034.6 1090.7M1019.4 1081L1034.6 1092.3M1019.4 1082.6L1034.6 1093.9M1034.5 1087.4L1049.7 1098.9M1034.6 1089.1L1049.7 1100.5M1049.7 1094L1064.9 1105.7M1049.7 1095.7L1064.9 1107.3M1064.8 1100.8L1080 1112.6M1064.8 1102.4L1080 1114.2M1064.9 1104.1L1080 1115.8M1080 1107.7L1095.1 1119.7M1080 1109.4L1095.2 1121.3M1095.1 1113.1L1110.3 1125.4M1095.1 1114.8L1110.3 1127M1095.1 1116.5L1110.3 1128.6M1110.2 1120.4L1125.4 1132.9M1110.3 1122.1L1125.4 1134.5M1110.3 1123.8L1125.4 1136.1"/>
<path stroke="#50ffaf" d="M1019.4 1076L1034.5 1087.4M1019.4 1077.6L1034.6 1089.1M1034.5 1082.4L1049.7 1094M1034.5 1084.1L1049.7 1095.7M1034.5 1085.8L1049.7 1097.3M1049.7 1088.9L1064.8 1100.8M1049.7 1090.7L1064.8 1102.4M1049.7 1092.4L1064.9 1104.1M1064.8 1095.7L1080 1107.7M1064.8 1097.4L1080 1109.4M1064.8 1099.1L1080 1111M1079.9 1102.6L1095.1 1114.8M1080 1104.3L1095.1 1116.5M1080 1106L1095.1 1118.1M1095.1 1109.7L1110.3 1122.1M1095.1 1111.4L1110.3 1123.8M1110.2 1118.7L1125.4 1131.3"/>
<path stroke="#60ff9f" d="M1019.3 1070.7L1034.5 1082.4M1019.3 1072.5L1034.5 1084.1M1019.4 1074.2L1034.5 1085.8M1034.5 1077.1L1049.7 1088.9M1034.5 1078.9L1049.7 1090.7M1034.5 1080.6L1049.7 1092.4M1049.6 1083.6L1064.8 1095.7M1049.6 1085.4L1064.8 1097.4M1049.6 1087.2L1064.8 1099.1M1064.8 1090.3L1079.9 1102.6M1064.8 1092.1L1080 1104.3M1064.8 1093.9L1080 1106M1079.9 1097.2L1095.1 1109.7M1079.9 1099L1095.1 1111.4M1079.9 1100.8L1095.1 1113.1M1095.1 1106.1L1110.2 1118.7M1095.1 1107.9L1110.2 1120.4"/>
<path stroke="#70ff8f" d="M1019.3 1065.3L1034.5 1077.1M1019.3 1067.1L1034.5 1078.9M1019.3 1068.9L1034.5 1080.6M1034.5 1073.5L1049.6 1085.4M1034.5 1075.3L1049.6 1087.2M1049.6 1080L1064.8 1092.1M1049.6 1081.8L1064.8 1093.9M1064.7 1086.7L1079.9 1099M1064.8 1088.5L1079.9 1100.8M1079.9 1093.5L1095.1 1106.1M1079.9 1095.4L1095.1 1107.9"/>
<path stroke="#80ff80" d="M1019.3 1061.5L1034.5 1073.5M1019.3 1063.4L1034.5 1075.3M1034.4 1067.8L1049.6 1080M1034.4 1069.7L1049.6 1081.8M1034.4 1071.6L1049.6 1083.6M1049.6 1074.3L1064.7 1086.7M1049.6 1076.2L1064.8 1088.5M1049.6 1078.1L1064.8 1090.3M1064.7 1080.9L1079.9 1093.5M1064.7 1082.9L1079.9 1095.4M1064.7 1084.8L1079.9 1097.2"/>
<path stroke="#8fff70" d="M1019.3 1055.7L1034.4 1067.8M1019.3 1057.6L1034.4 1069.7M1019.3 1059.6L1034.4 1071.6M1034.4 1063.9L1049.6 1076.2M1034.4 1065.9L1049.6 1078.1M1049.5 1070.4L1064.7 1082.9M1049.6 1072.3L1064.7 1084.8"/>
<path stroke="#9fff60" d="M1019.2 1051.6L1034.4 1063.9M1019.2 1053.6L1034.4 1065.9M1034.4 1057.9L1049.5 1070.4M1034.4 1059.9L1049.6 1072.3M1034.4 1061.9L1049.6 1074.3M1049.5 1068.4L1064.7 1080.9"/>
<path stroke="#afff50" d="M1019.2 1047.5L1034.4 1059.9M1019.2 1049.6L1034.4 1061.9M1034.4 1055.8L1049.5 1068.4"/>
<path stroke="#bfff40" d="M1019.2 1043.2L1034.4 1055.8M1019.2 1045.4L1034.4 1057.9"/>
</g>
<g stroke-width="0.9">
<path stroke="#009fff" d="M1019.7 1126.4L1034.9 1136.2M1019.7 1127.4L1034.9 1137.2M1034.8 1133.2L1050 1143.1M1034.9 1134.2L1050 1144.1M1050 1140.1L1065.2 1150.1M1050 1141.1L1065.2 1151.1M1050 1142.1L1065.2 1152.1M1065.2 1147.1L1080.3 1157.2M1065.2 1148.1L1080.3 1158.2M1065.2 1149.1L1080.3 1159.2M1080.3 1154.2L1095.5 1164.4M1080.3 1155.2L1095.5 1165.4M1080.3 1156.2L1095.5 1166.4M1095.5 1163.4L1110.6 1173.7"/>
<path stroke="#00afff" d="M1019.7 1122.3L1034.8 1132.2M1019.7 1123.3L1034.8 1133.2M1019.7 1124.4L1034.9 1134.2M1019.7 1125.4L1034.9 1135.2M1034.8 1129L1050 1139.1M1034.8 1130.1L1050 1140.1M1034.8 1131.2L1050 1141.1M1034.8 1132.2L1050 1142.1M1050 1135.9L1065.1 1146.1M1050 1137L1065.2 1147.1M1050 1138L1065.2 1148.1M1050 1139.1L1065.2 1149.1M1065.1 1142.9L1080.3 1153.2M1065.1 1144L1080.3 1154.2M1065.1 1145L1080.3 1155.2M1065.1 1146.1L1080.3 1156.2M1080.3 1153.2L1095.5 1163.4"/>
<path stroke="#00bfff" d="M1019.6 1116.8L1034.8 1126.9M1019.6 1117.9L1034.8 1128M1019.6 1119L1034.8 1129M1019.7 1120.1L1034.8 1130.1M1019.7 1121.2L1034.8 1131.2M1034.8 1123.5L1050 1133.7M1034.8 1124.6L1050 1134.8M1034.8 1125.8L1050 1135.9M1034.8 1126.9L1050 1137M1034.8 1128L1050 1138M1049.9 1132.6L1065.1 1142.9M1050 1133.7L1065.1 1144M1050 1134.8L1065.1 1145"/>
<path stroke="#00cfff" d="M1019.6 1112L1034.8 1122.3M1019.6 1113.2L1034.8 1123.5M1019.6 1114.4L1034.8 1124.6M1019.6 1115.6L1034.8 1125.8M1034.8 1122.3L1049.9 1132.6"/>
</g>
<path stroke="url(#gd)" stroke-width="1.02" d="M1018.6 920L1020.5 1198.4M1033.8 936.7L1035.7 1205.8M1049 953.4L1050.9 1213.2M1064.1 970.1L1066 1220.5M1079.3 986.8L1081.2 1227.9M1094.5 1003.5L1096.4 1235.3M1109.7 1020.2L1111.6 1242.7M1124.8 1036.9L1126.7 1250.1M1140 1053.6L1141.9 1257.5M1155.2 1070.3L1157.1 1264.9M1170.3 1087L1172.3 1272.2M1185.5 1103.7L1187.4 1279.6M1200.7 1120.4L1202.6 1287M1215.9 1137.1L1217.8 1294.4M1231 1153.8L1233 1301.8M1246.2 1170.5L1248.1 1309.2M1261.4 1187.2L1263.3 1316.5M1276.6 1203.9L1278.5 1323.9M1291.8 1220.6L1293.7 1331.3M1306.9 1237.3L1308.8 1338.7M1322.1 1254L1324 1346.1"/>
</g>
<path class="a" d="M102.4 110L102.4 415.6M102.4 415.6L405.9 554.8M405.9 554.8L801.1 447.9M102.4 415.6L92.9 411.2M102.4 354.5L92.9 350.1M102.4 293.4L92.9 289M102.4 232.2L92.9 227.9M102.4 171.1L92.9 166.7M102.4 110L92.9 105.6M102.4 415.6L92.3 418.3M254.2 485.2L244 487.9M405.9 554.8L395.8 557.5M405.9 554.8L415.4 559.2M537.6 519.2L547.2 523.5M669.4 483.5L678.9 487.9M801.1 447.9L810.6 452.3"/>
<g class="tk"><text transform="translate(87.4 420.9) scale(.895 1)" text-anchor="end">0</text><text transform="translate(87.4 359.8) scale(.895 1)" text-anchor="end">50</text><text transform="translate(87.4 298.7) scale(.895 1)" text-anchor="end">100</text><text transform="translate(87.4 237.6) scale(.895 1)" text-anchor="end">150</text><text transform="translate(87.4 176.4) scale(.895 1)" text-anchor="end">200</text><text transform="translate(87.4 115.3) scale(.895 1)" text-anchor="end">250</text><text transform="translate(86.7 446.5) scale(.895 1)" text-anchor="end">1</text><text transform="translate(238.4 516.1) scale(.895 1)" text-anchor="end">0</text><text transform="translate(390.2 585.7) scale(.895 1)" text-anchor="end">-1</text><text transform="translate(420.6 587.8) scale(.895 1)">0</text><text transform="translate(552.4 552.1) scale(.895 1)">100</text><text transform="translate(684.1 516.5) scale(.895 1)">200</text><text transform="translate(815.8 480.9) scale(.895 1)">300</text></g>
<path class="a" d="M1018.5 110L1018.5 415.6M1018.5 415.6L1322 554.8M1322 554.8L1717.2 447.9M1018.5 415.6L1008.9 411.2M1018.5 313.7L1008.9 309.4M1018.5 211.9L1008.9 207.5M1018.5 110L1008.9 105.6M1018.5 415.6L1008.3 418.3M1170.2 485.2L1160.1 487.9M1322 554.8L1311.8 557.5M1322 554.8L1331.5 559.2M1453.7 519.2L1463.2 523.5M1585.4 483.5L1595 487.9M1717.2 447.9L1726.7 452.3"/>
<g class="tk"><text transform="translate(1003.4 420.9) scale(.895 1)" text-anchor="end">0</text><text transform="translate(1003.4 319.1) scale(.895 1)" text-anchor="end">1</text><text transform="translate(1003.4 217.2) scale(.895 1)" text-anchor="end">2</text><text transform="translate(1003.4 115.3) scale(.895 1)" text-anchor="end">3</text><text transform="translate(1002.7 446.5) scale(.895 1)" text-anchor="end">1</text><text transform="translate(1154.5 516.1) scale(.895 1)" text-anchor="end">0</text><text transform="translate(1306.2 585.7) scale(.895 1)" text-anchor="end">-1</text><text transform="translate(1336.7 587.8) scale(.895 1)">0</text><text transform="translate(1468.4 552.1) scale(.895 1)">100</text><text transform="translate(1600.2 516.5) scale(.895 1)">200</text><text transform="translate(1731.9 480.9) scale(.895 1)">300</text></g>
<path class="a" d="M103.3 905.2L103.3 1210.8M103.3 1210.8L406.8 1350M406.8 1350L802 1243.1M103.3 1210.8L93.8 1206.4M103.3 1149.7L93.8 1145.3M103.3 1088.6L93.8 1084.2M103.3 1027.4L93.8 1023.1M103.3 966.3L93.8 961.9M103.3 905.2L93.8 900.8M103.3 1210.8L93.2 1213.5M255.1 1280.4L244.9 1283.1M406.8 1350L396.7 1352.7M406.8 1350L416.3 1354.4M538.5 1314.4L548.1 1318.7M670.3 1278.7L679.8 1283.1M802 1243.1L811.5 1247.5"/>
<g class="tk"><text transform="translate(88.3 1216.1) scale(.895 1)" text-anchor="end">0.5</text><text transform="translate(88.3 1155) scale(.895 1)" text-anchor="end">1</text><text transform="translate(88.3 1093.9) scale(.895 1)" text-anchor="end">1.5</text><text transform="translate(88.3 1032.8) scale(.895 1)" text-anchor="end">2</text><text transform="translate(88.3 971.6) scale(.895 1)" text-anchor="end">2.5</text><text transform="translate(88.3 910.5) scale(.895 1)" text-anchor="end">3</text><text transform="translate(87.6 1241.7) scale(.895 1)" text-anchor="end">1</text><text transform="translate(239.3 1311.3) scale(.895 1)" text-anchor="end">0</text><text transform="translate(391.1 1380.9) scale(.895 1)" text-anchor="end">-1</text><text transform="translate(421.5 1383) scale(.895 1)">0</text><text transform="translate(553.3 1347.3) scale(.895 1)">100</text><text transform="translate(685 1311.7) scale(.895 1)">200</text><text transform="translate(816.7 1276.1) scale(.895 1)">300</text></g>
<path class="a" d="M1018.6 905.4L1018.6 1211M1018.6 1211L1322.1 1350.2M1322.1 1350.2L1717.3 1243.2M1018.6 1211L1009.1 1206.6M1018.6 1109.1L1009.1 1104.7M1018.6 1007.2L1009.1 1002.8M1018.6 905.4L1009.1 901M1018.6 1211L1008.5 1213.7M1170.3 1280.5L1160.2 1283.3M1322.1 1350.2L1312 1352.9M1322.1 1350.2L1331.6 1354.5M1453.8 1314.5L1463.4 1318.9M1585.6 1278.9L1595.1 1283.3M1717.3 1243.2L1726.8 1247.6"/>
<g class="tk"><text transform="translate(1003.6 1216.3) scale(.895 1)" text-anchor="end">0</text><text transform="translate(1003.6 1114.4) scale(.895 1)" text-anchor="end">0.5</text><text transform="translate(1003.6 1012.5) scale(.895 1)" text-anchor="end">1</text><text transform="translate(1003.6 910.7) scale(.895 1)" text-anchor="end">1.5</text><text transform="translate(1002.9 1241.9) scale(.895 1)" text-anchor="end">1</text><text transform="translate(1154.6 1311.5) scale(.895 1)" text-anchor="end">0</text><text transform="translate(1306.4 1381.1) scale(.895 1)" text-anchor="end">-1</text><text transform="translate(1336.8 1383.1) scale(.895 1)">0</text><text transform="translate(1468.6 1347.5) scale(.895 1)">100</text><text transform="translate(1600.3 1311.9) scale(.895 1)">200</text><text transform="translate(1732 1276.2) scale(.895 1)">300</text></g>
<g class="lb"><text x="209.6" y="588.1" text-anchor="middle">space x</text><text x="610.4" y="595.1" text-anchor="middle">time t</text><text transform="translate(20.4 262.6) rotate(-90)" text-anchor="middle">S<tspan class="sub" dy="7">H</tspan><tspan dy="-7">(t,x)</tspan></text><text x="1125.7" y="588.1" text-anchor="middle">space x</text><text x="1526.5" y="595.1" text-anchor="middle">time t</text><text transform="translate(967.5 262.6) rotate(-90)" text-anchor="middle">I<tspan class="sub" dy="7">H</tspan><tspan dy="-7">(t,x)</tspan></text><text x="210.5" y="1383.3" text-anchor="middle">space x</text><text x="611.3" y="1390.3" text-anchor="middle">time t</text><text transform="translate(26.3 1057.8) rotate(-90)" text-anchor="middle">S<tspan class="sub" dy="7">V</tspan><tspan dy="-7">(t,x)</tspan></text><text x="1125.8" y="1383.5" text-anchor="middle">space x</text><text x="1526.6" y="1390.5" text-anchor="middle">time t</text><text transform="translate(941.6 1058) rotate(-90)" text-anchor="middle">I<tspan class="sub" dy="7">V</tspan><tspan dy="-7">(t,x)</tspan></text></g>
<g class="cp"><text x="428.8" y="711" text-anchor="middle"><tspan class="pr" dy="1.5">(</tspan><tspan dy="-1.5">a</tspan><tspan class="pr" dy="1.5">)</tspan></text><text x="1344.5" y="711" text-anchor="middle"><tspan class="pr" dy="1.5">(</tspan><tspan dy="-1.5">b</tspan><tspan class="pr" dy="1.5">)</tspan></text><text x="428.8" y="1506.4" text-anchor="middle"><tspan class="pr" dy="1.5">(</tspan><tspan dy="-1.5">c</tspan><tspan class="pr" dy="1.5">)</tspan></text><text x="1344.5" y="1506.4" text-anchor="middle"><tspan class="pr" dy="1.5">(</tspan><tspan dy="-1.5">d</tspan><tspan class="pr" dy="1.5">)</tspan></text></g>
</svg>
</body></html>
